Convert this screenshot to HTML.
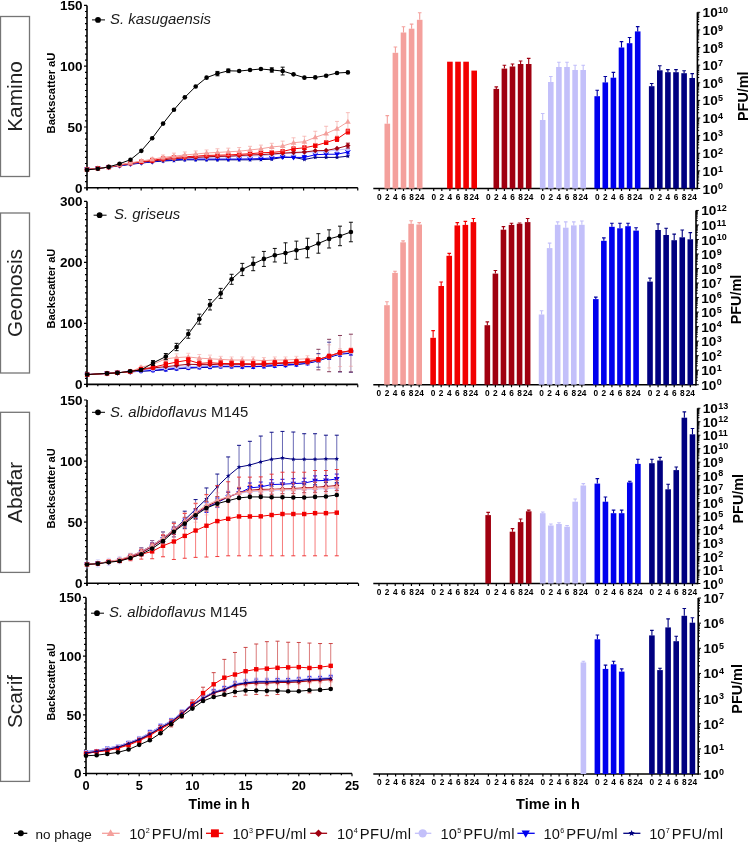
<!DOCTYPE html>
<html><head><meta charset="utf-8"><style>
html,body{margin:0;padding:0;background:#fff;width:748px;height:842px;overflow:hidden}
svg{display:block;will-change:transform}
</style></head><body>
<svg width="748" height="842" viewBox="0 0 748 842">
<rect x="0.5" y="16.5" width="29" height="160" fill="none" stroke="#757575" stroke-width="1.3"/>
<text x="22.1" y="96.5" transform="rotate(-90 22.1 96.5)" text-anchor="middle" font-size="20.8" font-family="Liberation Sans, sans-serif" fill="#222">Kamino</text>
<rect x="0.5" y="213" width="29" height="160" fill="none" stroke="#757575" stroke-width="1.3"/>
<text x="22.1" y="293" transform="rotate(-90 22.1 293)" text-anchor="middle" font-size="20.8" font-family="Liberation Sans, sans-serif" fill="#222">Geonosis</text>
<rect x="0.5" y="412.3" width="29" height="160.1" fill="none" stroke="#757575" stroke-width="1.3"/>
<text x="22.1" y="492.35" transform="rotate(-90 22.1 492.35)" text-anchor="middle" font-size="20.8" font-family="Liberation Sans, sans-serif" fill="#222">Abafar</text>
<rect x="0.5" y="621.5" width="29" height="159.9" fill="none" stroke="#757575" stroke-width="1.3"/>
<text x="22.1" y="701.45" transform="rotate(-90 22.1 701.45)" text-anchor="middle" font-size="20.8" font-family="Liberation Sans, sans-serif" fill="#222">Scarif</text>
<g stroke="#000" fill="none">
<path d="M87 5.4V190.3" stroke-width="1.6"/>
<path d="M86.2 187.8H357.8" stroke-width="1.6"/>
<path d="M84 187.8H87M85 181.72H87M85 175.64H87M85 169.56H87M85 163.48H87M85 157.4H87M85 151.32H87M85 145.24H87M85 139.16H87M85 133.08H87M84 127H87M85 120.92H87M85 114.84H87M85 108.76H87M85 102.68H87M85 96.6H87M85 90.52H87M85 84.44H87M85 78.36H87M85 72.28H87M84 66.2H87M85 60.12H87M85 54.04H87M85 47.96H87M85 41.88H87M85 35.8H87M85 29.72H87M85 23.64H87M85 17.56H87M85 11.48H87M84 5.4H87" stroke-width="1.2"/>
<path d="M87 187.8V190.6M97.83 187.8V189.6M108.66 187.8V189.6M119.49 187.8V189.6M130.32 187.8V189.6M141.15 187.8V190.6M151.98 187.8V189.6M162.81 187.8V189.6M173.64 187.8V189.6M184.47 187.8V189.6M195.3 187.8V190.6M206.13 187.8V189.6M216.96 187.8V189.6M227.79 187.8V189.6M238.62 187.8V189.6M249.45 187.8V190.6M260.28 187.8V189.6M271.11 187.8V189.6M281.94 187.8V189.6M292.77 187.8V189.6M303.6 187.8V190.6M314.43 187.8V189.6M325.26 187.8V189.6M336.09 187.8V189.6M346.92 187.8V189.6M357.75 187.8V190.6" stroke-width="1.2"/>
</g>
<text x="82.5" y="192.7" text-anchor="end" font-size="13.5" font-weight="bold" font-family="Liberation Sans, sans-serif">0</text>
<text x="82.5" y="131.9" text-anchor="end" font-size="13.5" font-weight="bold" font-family="Liberation Sans, sans-serif">50</text>
<text x="82.5" y="71.1" text-anchor="end" font-size="13.5" font-weight="bold" font-family="Liberation Sans, sans-serif">100</text>
<text x="82.5" y="10.3" text-anchor="end" font-size="13.5" font-weight="bold" font-family="Liberation Sans, sans-serif">150</text>
<text x="55" y="93" transform="rotate(-90 55 93)" text-anchor="middle" font-size="11.2" font-weight="bold" font-family="Liberation Sans, sans-serif">Backscatter aU</text>
<path d="M92 19.9H105" stroke="#000" stroke-width="1"/>
<circle cx="98" cy="19.9" r="2.88" fill="#000000"/>
<text x="110" y="24.1" font-size="14.9" font-family="Liberation Sans, sans-serif" fill="#1a1a1a"><tspan font-style="italic">S. kasugaensis</tspan></text>
<polyline points="87,169.56 97.87,168.34 108.74,167.13 119.61,165.91 130.48,164.33 141.35,163.12 152.22,161.9 163.09,161.05 173.96,160.44 184.83,159.83 195.7,159.83 206.57,159.83 217.44,159.83 228.31,159.83 239.18,159.83 250.05,159.83 260.92,159.59 271.79,159.22 282.66,157.4 293.53,157.4 304.4,159.47 315.27,157.4 326.14,157.4 337.01,157.4 347.88,156.18" fill="none" stroke="#000080" stroke-width="1.0"/>
<path d="M87 167.16L87.63 168.69L89.28 168.82L88.03 169.89L88.41 171.5L87 170.64L85.59 171.5L85.97 169.89L84.72 168.82L86.37 168.69Z" fill="#000080"/>
<path d="M97.87 165.94L98.5 167.47L100.15 167.6L98.9 168.68L99.28 170.29L97.87 169.42L96.46 170.29L96.84 168.68L95.59 167.6L97.24 167.47Z" fill="#000080"/>
<path d="M108.74 164.73L109.37 166.25L111.02 166.39L109.77 167.46L110.15 169.07L108.74 168.21L107.33 169.07L107.71 167.46L106.46 166.39L108.11 166.25Z" fill="#000080"/>
<path d="M119.61 163.51L120.24 165.04L121.89 165.17L120.64 166.25L121.02 167.85L119.61 166.99L118.2 167.85L118.58 166.25L117.33 165.17L118.98 165.04Z" fill="#000080"/>
<path d="M130.48 161.93L131.11 163.46L132.76 163.59L131.51 164.66L131.89 166.27L130.48 165.41L129.07 166.27L129.45 164.66L128.2 163.59L129.85 163.46Z" fill="#000080"/>
<path d="M141.35 160.72L141.98 162.24L143.63 162.37L142.38 163.45L142.76 165.06L141.35 164.2L139.94 165.06L140.32 163.45L139.07 162.37L140.72 162.24Z" fill="#000080"/>
<path d="M152.22 159.5L152.85 161.03L154.5 161.16L153.25 162.23L153.63 163.84L152.22 162.98L150.81 163.84L151.19 162.23L149.94 161.16L151.59 161.03Z" fill="#000080"/>
<path d="M163.09 158.65L163.72 160.17L165.37 160.31L164.12 161.38L164.5 162.99L163.09 162.13L161.68 162.99L162.06 161.38L160.81 160.31L162.46 160.17Z" fill="#000080"/>
<path d="M173.96 158.04L174.59 159.57L176.24 159.7L174.99 160.77L175.37 162.38L173.96 161.52L172.55 162.38L172.93 160.77L171.68 159.7L173.33 159.57Z" fill="#000080"/>
<path d="M184.83 157.43L185.46 158.96L187.11 159.09L185.86 160.17L186.24 161.77L184.83 160.91L183.42 161.77L183.8 160.17L182.55 159.09L184.2 158.96Z" fill="#000080"/>
<path d="M195.7 157.43L196.33 158.96L197.98 159.09L196.73 160.17L197.11 161.77L195.7 160.91L194.29 161.77L194.67 160.17L193.42 159.09L195.07 158.96Z" fill="#000080"/>
<path d="M206.57 157.43L207.2 158.96L208.85 159.09L207.6 160.17L207.98 161.77L206.57 160.91L205.16 161.77L205.54 160.17L204.29 159.09L205.94 158.96Z" fill="#000080"/>
<path d="M217.44 157.43L218.07 158.96L219.72 159.09L218.47 160.17L218.85 161.77L217.44 160.91L216.03 161.77L216.41 160.17L215.16 159.09L216.81 158.96Z" fill="#000080"/>
<path d="M228.31 157.43L228.94 158.96L230.59 159.09L229.34 160.17L229.72 161.77L228.31 160.91L226.9 161.77L227.28 160.17L226.03 159.09L227.68 158.96Z" fill="#000080"/>
<path d="M239.18 157.43L239.81 158.96L241.46 159.09L240.21 160.17L240.59 161.77L239.18 160.91L237.77 161.77L238.15 160.17L236.9 159.09L238.55 158.96Z" fill="#000080"/>
<path d="M250.05 157.43L250.68 158.96L252.33 159.09L251.08 160.17L251.46 161.77L250.05 160.91L248.64 161.77L249.02 160.17L247.77 159.09L249.42 158.96Z" fill="#000080"/>
<path d="M260.92 157.19L261.55 158.72L263.2 158.85L261.95 159.92L262.33 161.53L260.92 160.67L259.51 161.53L259.89 159.92L258.64 158.85L260.29 158.72Z" fill="#000080"/>
<path d="M271.79 156.82L272.42 158.35L274.07 158.48L272.82 159.56L273.2 161.17L271.79 160.3L270.38 161.17L270.76 159.56L269.51 158.48L271.16 158.35Z" fill="#000080"/>
<path d="M282.66 155L283.29 156.53L284.94 156.66L283.69 157.73L284.07 159.34L282.66 158.48L281.25 159.34L281.63 157.73L280.38 156.66L282.03 156.53Z" fill="#000080"/>
<path d="M293.53 155L294.16 156.53L295.81 156.66L294.56 157.73L294.94 159.34L293.53 158.48L292.12 159.34L292.5 157.73L291.25 156.66L292.9 156.53Z" fill="#000080"/>
<path d="M304.4 157.07L305.03 158.59L306.68 158.73L305.43 159.8L305.81 161.41L304.4 160.55L302.99 161.41L303.37 159.8L302.12 158.73L303.77 158.59Z" fill="#000080"/>
<path d="M315.27 155L315.9 156.53L317.55 156.66L316.3 157.73L316.68 159.34L315.27 158.48L313.86 159.34L314.24 157.73L312.99 156.66L314.64 156.53Z" fill="#000080"/>
<path d="M326.14 155L326.77 156.53L328.42 156.66L327.17 157.73L327.55 159.34L326.14 158.48L324.73 159.34L325.11 157.73L323.86 156.66L325.51 156.53Z" fill="#000080"/>
<path d="M337.01 155L337.64 156.53L339.29 156.66L338.04 157.73L338.42 159.34L337.01 158.48L335.6 159.34L335.98 157.73L334.73 156.66L336.38 156.53Z" fill="#000080"/>
<path d="M347.88 153.78L348.51 155.31L350.16 155.44L348.91 156.52L349.29 158.13L347.88 157.26L346.47 158.13L346.85 156.52L345.6 155.44L347.25 155.31Z" fill="#000080"/>
<polyline points="87,169.56 97.87,168.34 108.74,167.13 119.61,165.67 130.48,164.09 141.35,162.87 152.22,161.66 163.09,160.44 173.96,159.83 184.83,159.22 195.7,159.1 206.57,159.1 217.44,159.1 228.31,159.1 239.18,159.1 250.05,158.86 260.92,158.62 271.79,158.01 282.66,156.91 293.53,157.4 304.4,157.4 315.27,154.72 326.14,154.24 337.01,154.24 347.88,152.05" fill="none" stroke="#0000EE" stroke-width="1.0"/>
<path d="M304.4 155.58V159.22M347.88 150.23V153.87" stroke="#0000EE" stroke-width="0.85" fill="none" opacity="1"/>
<path d="M302.4 155.58H306.4M302.4 159.22H306.4M345.88 150.23H349.88M345.88 153.87H349.88" stroke="#0000EE" stroke-width="0.95" fill="none" opacity="1"/>
<path d="M87 172.56L89.85 167.61L84.15 167.61Z" fill="#0000EE"/>
<path d="M97.87 171.34L100.72 166.39L95.02 166.39Z" fill="#0000EE"/>
<path d="M108.74 170.13L111.59 165.18L105.89 165.18Z" fill="#0000EE"/>
<path d="M119.61 168.67L122.46 163.72L116.76 163.72Z" fill="#0000EE"/>
<path d="M130.48 167.09L133.33 162.14L127.63 162.14Z" fill="#0000EE"/>
<path d="M141.35 165.87L144.2 160.92L138.5 160.92Z" fill="#0000EE"/>
<path d="M152.22 164.66L155.07 159.71L149.37 159.71Z" fill="#0000EE"/>
<path d="M163.09 163.44L165.94 158.49L160.24 158.49Z" fill="#0000EE"/>
<path d="M173.96 162.83L176.81 157.88L171.11 157.88Z" fill="#0000EE"/>
<path d="M184.83 162.22L187.68 157.27L181.98 157.27Z" fill="#0000EE"/>
<path d="M195.7 162.1L198.55 157.15L192.85 157.15Z" fill="#0000EE"/>
<path d="M206.57 162.1L209.42 157.15L203.72 157.15Z" fill="#0000EE"/>
<path d="M217.44 162.1L220.29 157.15L214.59 157.15Z" fill="#0000EE"/>
<path d="M228.31 162.1L231.16 157.15L225.46 157.15Z" fill="#0000EE"/>
<path d="M239.18 162.1L242.03 157.15L236.33 157.15Z" fill="#0000EE"/>
<path d="M250.05 161.86L252.9 156.91L247.2 156.91Z" fill="#0000EE"/>
<path d="M260.92 161.62L263.77 156.67L258.07 156.67Z" fill="#0000EE"/>
<path d="M271.79 161.01L274.64 156.06L268.94 156.06Z" fill="#0000EE"/>
<path d="M282.66 159.91L285.51 154.96L279.81 154.96Z" fill="#0000EE"/>
<path d="M293.53 160.4L296.38 155.45L290.68 155.45Z" fill="#0000EE"/>
<path d="M304.4 160.4L307.25 155.45L301.55 155.45Z" fill="#0000EE"/>
<path d="M315.27 157.72L318.12 152.77L312.42 152.77Z" fill="#0000EE"/>
<path d="M326.14 157.24L328.99 152.29L323.29 152.29Z" fill="#0000EE"/>
<path d="M337.01 157.24L339.86 152.29L334.16 152.29Z" fill="#0000EE"/>
<path d="M347.88 155.05L350.73 150.1L345.03 150.1Z" fill="#0000EE"/>
<polyline points="87,169.56 97.87,168.34 108.74,167.13 119.61,165.3 130.48,163.48 141.35,162.26 152.22,161.05 163.09,159.83 173.96,158.62 184.83,158.01 195.7,157.4 206.57,157.4 217.44,156.79 228.31,156.79 239.18,156.18 250.05,156.18 260.92,155.58 271.79,154.97 282.66,153.75 293.53,153.14 304.4,152.54 315.27,151.93 326.14,151.32 337.01,150.1 347.88,148.89" fill="none" stroke="#C3C0FA" stroke-width="1.0"/>
<circle cx="87" cy="169.56" r="2.3" fill="#C3C0FA"/>
<circle cx="97.87" cy="168.34" r="2.3" fill="#C3C0FA"/>
<circle cx="108.74" cy="167.13" r="2.3" fill="#C3C0FA"/>
<circle cx="119.61" cy="165.3" r="2.3" fill="#C3C0FA"/>
<circle cx="130.48" cy="163.48" r="2.3" fill="#C3C0FA"/>
<circle cx="141.35" cy="162.26" r="2.3" fill="#C3C0FA"/>
<circle cx="152.22" cy="161.05" r="2.3" fill="#C3C0FA"/>
<circle cx="163.09" cy="159.83" r="2.3" fill="#C3C0FA"/>
<circle cx="173.96" cy="158.62" r="2.3" fill="#C3C0FA"/>
<circle cx="184.83" cy="158.01" r="2.3" fill="#C3C0FA"/>
<circle cx="195.7" cy="157.4" r="2.3" fill="#C3C0FA"/>
<circle cx="206.57" cy="157.4" r="2.3" fill="#C3C0FA"/>
<circle cx="217.44" cy="156.79" r="2.3" fill="#C3C0FA"/>
<circle cx="228.31" cy="156.79" r="2.3" fill="#C3C0FA"/>
<circle cx="239.18" cy="156.18" r="2.3" fill="#C3C0FA"/>
<circle cx="250.05" cy="156.18" r="2.3" fill="#C3C0FA"/>
<circle cx="260.92" cy="155.58" r="2.3" fill="#C3C0FA"/>
<circle cx="271.79" cy="154.97" r="2.3" fill="#C3C0FA"/>
<circle cx="282.66" cy="153.75" r="2.3" fill="#C3C0FA"/>
<circle cx="293.53" cy="153.14" r="2.3" fill="#C3C0FA"/>
<circle cx="304.4" cy="152.54" r="2.3" fill="#C3C0FA"/>
<circle cx="315.27" cy="151.93" r="2.3" fill="#C3C0FA"/>
<circle cx="326.14" cy="151.32" r="2.3" fill="#C3C0FA"/>
<circle cx="337.01" cy="150.1" r="2.3" fill="#C3C0FA"/>
<circle cx="347.88" cy="148.89" r="2.3" fill="#C3C0FA"/>
<polyline points="87,169.56 97.87,168.34 108.74,167.13 119.61,165.3 130.48,163.48 141.35,162.26 152.22,161.05 163.09,159.83 173.96,158.62 184.83,158.01 195.7,157.4 206.57,156.79 217.44,156.43 228.31,156.18 239.18,155.58 250.05,154.97 260.92,154.6 271.79,154 282.66,153.14 293.53,152.54 304.4,152.05 315.27,150.71 326.14,150.47 337.01,148.4 347.88,145.6" fill="none" stroke="#A00010" stroke-width="1.0"/>
<path d="M347.88 143.17V148.04" stroke="#A00010" stroke-width="0.85" fill="none" opacity="1"/>
<path d="M345.88 143.17H349.88M345.88 148.04H349.88" stroke="#A00010" stroke-width="0.95" fill="none" opacity="1"/>
<path d="M87 166.96L89.6 169.56L87 172.16L84.4 169.56Z" fill="#A00010"/>
<path d="M97.87 165.74L100.47 168.34L97.87 170.94L95.27 168.34Z" fill="#A00010"/>
<path d="M108.74 164.53L111.34 167.13L108.74 169.73L106.14 167.13Z" fill="#A00010"/>
<path d="M119.61 162.7L122.21 165.3L119.61 167.9L117.01 165.3Z" fill="#A00010"/>
<path d="M130.48 160.88L133.08 163.48L130.48 166.08L127.88 163.48Z" fill="#A00010"/>
<path d="M141.35 159.66L143.95 162.26L141.35 164.86L138.75 162.26Z" fill="#A00010"/>
<path d="M152.22 158.45L154.82 161.05L152.22 163.65L149.62 161.05Z" fill="#A00010"/>
<path d="M163.09 157.23L165.69 159.83L163.09 162.43L160.49 159.83Z" fill="#A00010"/>
<path d="M173.96 156.02L176.56 158.62L173.96 161.22L171.36 158.62Z" fill="#A00010"/>
<path d="M184.83 155.41L187.43 158.01L184.83 160.61L182.23 158.01Z" fill="#A00010"/>
<path d="M195.7 154.8L198.3 157.4L195.7 160L193.1 157.4Z" fill="#A00010"/>
<path d="M206.57 154.19L209.17 156.79L206.57 159.39L203.97 156.79Z" fill="#A00010"/>
<path d="M217.44 153.83L220.04 156.43L217.44 159.03L214.84 156.43Z" fill="#A00010"/>
<path d="M228.31 153.58L230.91 156.18L228.31 158.78L225.71 156.18Z" fill="#A00010"/>
<path d="M239.18 152.98L241.78 155.58L239.18 158.18L236.58 155.58Z" fill="#A00010"/>
<path d="M250.05 152.37L252.65 154.97L250.05 157.57L247.45 154.97Z" fill="#A00010"/>
<path d="M260.92 152L263.52 154.6L260.92 157.2L258.32 154.6Z" fill="#A00010"/>
<path d="M271.79 151.4L274.39 154L271.79 156.6L269.19 154Z" fill="#A00010"/>
<path d="M282.66 150.54L285.26 153.14L282.66 155.74L280.06 153.14Z" fill="#A00010"/>
<path d="M293.53 149.94L296.13 152.54L293.53 155.14L290.93 152.54Z" fill="#A00010"/>
<path d="M304.4 149.45L307 152.05L304.4 154.65L301.8 152.05Z" fill="#A00010"/>
<path d="M315.27 148.11L317.87 150.71L315.27 153.31L312.67 150.71Z" fill="#A00010"/>
<path d="M326.14 147.87L328.74 150.47L326.14 153.07L323.54 150.47Z" fill="#A00010"/>
<path d="M337.01 145.8L339.61 148.4L337.01 151L334.41 148.4Z" fill="#A00010"/>
<path d="M347.88 143L350.48 145.6L347.88 148.2L345.28 145.6Z" fill="#A00010"/>
<polyline points="87,169.56 97.87,168.34 108.74,167.13 119.61,164.94 130.48,163.12 141.35,161.66 152.22,160.44 163.09,158.62 173.96,157.4 184.83,156.79 195.7,156.18 206.57,155.45 217.44,155.21 228.31,154.97 239.18,154.36 250.05,153.75 260.92,152.78 271.79,152.41 282.66,151.44 293.53,148.89 304.4,147.79 315.27,145.6 326.14,142.56 337.01,139.04 347.88,131.62" fill="none" stroke="#F20000" stroke-width="1.0"/>
<path d="M130.48 162.51V163.72M141.35 161.05V162.26M152.22 159.22V161.66M163.09 157.4V159.83M173.96 156.18V158.62M184.83 155.58V158.01M195.7 154.97V157.4M206.57 154.24V156.67M217.44 154V156.43M228.31 153.75V156.18M239.18 153.14V155.58M250.05 152.54V154.97M260.92 151.56V154M271.79 151.2V153.63M282.66 150.23V152.66M293.53 147.06V150.71M304.4 145.97V149.62M315.27 143.78V147.43M326.14 140.74V144.39M337.01 136.61V141.47M347.88 129.19V134.05" stroke="#F20000" stroke-width="0.85" fill="none" opacity="1"/>
<path d="M128.48 162.51H132.48M128.48 163.72H132.48M139.35 161.05H143.35M139.35 162.26H143.35M150.22 159.22H154.22M150.22 161.66H154.22M161.09 157.4H165.09M161.09 159.83H165.09M171.96 156.18H175.96M171.96 158.62H175.96M182.83 155.58H186.83M182.83 158.01H186.83M193.7 154.97H197.7M193.7 157.4H197.7M204.57 154.24H208.57M204.57 156.67H208.57M215.44 154H219.44M215.44 156.43H219.44M226.31 153.75H230.31M226.31 156.18H230.31M237.18 153.14H241.18M237.18 155.58H241.18M248.05 152.54H252.05M248.05 154.97H252.05M258.92 151.56H262.92M258.92 154H262.92M269.79 151.2H273.79M269.79 153.63H273.79M280.66 150.23H284.66M280.66 152.66H284.66M291.53 147.06H295.53M291.53 150.71H295.53M302.4 145.97H306.4M302.4 149.62H306.4M313.27 143.78H317.27M313.27 147.43H317.27M324.14 140.74H328.14M324.14 144.39H328.14M335.01 136.61H339.01M335.01 141.47H339.01M345.88 129.19H349.88M345.88 134.05H349.88" stroke="#F20000" stroke-width="0.95" fill="none" opacity="1"/>
<rect x="84.8" y="167.36" width="4.4" height="4.4" fill="#F20000"/>
<rect x="95.67" y="166.14" width="4.4" height="4.4" fill="#F20000"/>
<rect x="106.54" y="164.93" width="4.4" height="4.4" fill="#F20000"/>
<rect x="117.41" y="162.74" width="4.4" height="4.4" fill="#F20000"/>
<rect x="128.28" y="160.92" width="4.4" height="4.4" fill="#F20000"/>
<rect x="139.15" y="159.46" width="4.4" height="4.4" fill="#F20000"/>
<rect x="150.02" y="158.24" width="4.4" height="4.4" fill="#F20000"/>
<rect x="160.89" y="156.42" width="4.4" height="4.4" fill="#F20000"/>
<rect x="171.76" y="155.2" width="4.4" height="4.4" fill="#F20000"/>
<rect x="182.63" y="154.59" width="4.4" height="4.4" fill="#F20000"/>
<rect x="193.5" y="153.98" width="4.4" height="4.4" fill="#F20000"/>
<rect x="204.37" y="153.25" width="4.4" height="4.4" fill="#F20000"/>
<rect x="215.24" y="153.01" width="4.4" height="4.4" fill="#F20000"/>
<rect x="226.11" y="152.77" width="4.4" height="4.4" fill="#F20000"/>
<rect x="236.98" y="152.16" width="4.4" height="4.4" fill="#F20000"/>
<rect x="247.85" y="151.55" width="4.4" height="4.4" fill="#F20000"/>
<rect x="258.72" y="150.58" width="4.4" height="4.4" fill="#F20000"/>
<rect x="269.59" y="150.21" width="4.4" height="4.4" fill="#F20000"/>
<rect x="280.46" y="149.24" width="4.4" height="4.4" fill="#F20000"/>
<rect x="291.33" y="146.69" width="4.4" height="4.4" fill="#F20000"/>
<rect x="302.2" y="145.59" width="4.4" height="4.4" fill="#F20000"/>
<rect x="313.07" y="143.4" width="4.4" height="4.4" fill="#F20000"/>
<rect x="323.94" y="140.36" width="4.4" height="4.4" fill="#F20000"/>
<rect x="334.81" y="136.84" width="4.4" height="4.4" fill="#F20000"/>
<rect x="345.68" y="129.42" width="4.4" height="4.4" fill="#F20000"/>
<polyline points="87,169.56 97.87,168.34 108.74,166.88 119.61,164.7 130.48,162.87 141.35,161.05 152.22,159.22 163.09,157.4 173.96,156.18 184.83,154.97 195.7,154 206.57,153.02 217.44,152.41 228.31,151.81 239.18,151.2 250.05,149.98 260.92,148.77 271.79,146.94 282.66,145.97 293.53,142.69 304.4,141.71 315.27,137.34 326.14,133.57 337.01,128.7 347.88,121.77" fill="none" stroke="#F4A09C" stroke-width="1.0"/>
<path d="M130.48 161.9V163.84M141.35 159.83V162.26M152.22 157.4V161.05M163.09 154.97V159.83M173.96 153.14V159.22M184.83 151.93V158.01M195.7 150.96V157.04M206.57 149.98V156.06M217.44 148.77V156.06M228.31 148.16V155.45M239.18 147.55V154.85M250.05 146.33V153.63M260.92 145.12V152.41M271.79 143.29V150.59M282.66 141.11V150.83M293.53 137.82V147.55M304.4 136.24V147.19M315.27 131.26V143.42M326.14 126.27V140.86M337.01 121.41V136M347.88 112.65V130.89" stroke="#F4A09C" stroke-width="0.85" fill="none" opacity="0.7"/>
<path d="M128.48 161.9H132.48M128.48 163.84H132.48M139.35 159.83H143.35M139.35 162.26H143.35M150.22 157.4H154.22M150.22 161.05H154.22M161.09 154.97H165.09M161.09 159.83H165.09M171.96 153.14H175.96M171.96 159.22H175.96M182.83 151.93H186.83M182.83 158.01H186.83M193.7 150.96H197.7M193.7 157.04H197.7M204.57 149.98H208.57M204.57 156.06H208.57M215.44 148.77H219.44M215.44 156.06H219.44M226.31 148.16H230.31M226.31 155.45H230.31M237.18 147.55H241.18M237.18 154.85H241.18M248.05 146.33H252.05M248.05 153.63H252.05M258.92 145.12H262.92M258.92 152.41H262.92M269.79 143.29H273.79M269.79 150.59H273.79M280.66 141.11H284.66M280.66 150.83H284.66M291.53 137.82H295.53M291.53 147.55H295.53M302.4 136.24H306.4M302.4 147.19H306.4M313.27 131.26H317.27M313.27 143.42H317.27M324.14 126.27H328.14M324.14 140.86H328.14M335.01 121.41H339.01M335.01 136H339.01M345.88 112.65H349.88M345.88 130.89H349.88" stroke="#F4A09C" stroke-width="0.95" fill="none" opacity="0.7"/>
<path d="M87 166.56L89.85 171.51L84.15 171.51Z" fill="#F4A09C"/>
<path d="M97.87 165.34L100.72 170.29L95.02 170.29Z" fill="#F4A09C"/>
<path d="M108.74 163.88L111.59 168.83L105.89 168.83Z" fill="#F4A09C"/>
<path d="M119.61 161.7L122.46 166.65L116.76 166.65Z" fill="#F4A09C"/>
<path d="M130.48 159.87L133.33 164.82L127.63 164.82Z" fill="#F4A09C"/>
<path d="M141.35 158.05L144.2 163L138.5 163Z" fill="#F4A09C"/>
<path d="M152.22 156.22L155.07 161.17L149.37 161.17Z" fill="#F4A09C"/>
<path d="M163.09 154.4L165.94 159.35L160.24 159.35Z" fill="#F4A09C"/>
<path d="M173.96 153.18L176.81 158.13L171.11 158.13Z" fill="#F4A09C"/>
<path d="M184.83 151.97L187.68 156.92L181.98 156.92Z" fill="#F4A09C"/>
<path d="M195.7 151L198.55 155.95L192.85 155.95Z" fill="#F4A09C"/>
<path d="M206.57 150.02L209.42 154.97L203.72 154.97Z" fill="#F4A09C"/>
<path d="M217.44 149.41L220.29 154.36L214.59 154.36Z" fill="#F4A09C"/>
<path d="M228.31 148.81L231.16 153.76L225.46 153.76Z" fill="#F4A09C"/>
<path d="M239.18 148.2L242.03 153.15L236.33 153.15Z" fill="#F4A09C"/>
<path d="M250.05 146.98L252.9 151.93L247.2 151.93Z" fill="#F4A09C"/>
<path d="M260.92 145.77L263.77 150.72L258.07 150.72Z" fill="#F4A09C"/>
<path d="M271.79 143.94L274.64 148.89L268.94 148.89Z" fill="#F4A09C"/>
<path d="M282.66 142.97L285.51 147.92L279.81 147.92Z" fill="#F4A09C"/>
<path d="M293.53 139.69L296.38 144.64L290.68 144.64Z" fill="#F4A09C"/>
<path d="M304.4 138.71L307.25 143.66L301.55 143.66Z" fill="#F4A09C"/>
<path d="M315.27 134.34L318.12 139.29L312.42 139.29Z" fill="#F4A09C"/>
<path d="M326.14 130.57L328.99 135.52L323.29 135.52Z" fill="#F4A09C"/>
<path d="M337.01 125.7L339.86 130.65L334.16 130.65Z" fill="#F4A09C"/>
<path d="M347.88 118.77L350.73 123.72L345.03 123.72Z" fill="#F4A09C"/>
<polyline points="87,169.92 97.87,168.71 108.74,166.88 119.61,163.72 130.48,159.71 141.35,150.83 152.22,138.19 163.09,123.6 173.96,109.73 184.83,97.33 195.7,86.51 206.57,77.63 217.44,73.62 228.31,70.82 239.18,71.06 250.05,69.97 260.92,69 271.79,69.97 282.66,71.06 293.53,74.35 304.4,77.63 315.27,77.39 326.14,75.68 337.01,73.01 347.88,72.4" fill="none" stroke="#000000" stroke-width="1.0"/>
<path d="M217.44 71.43V75.81M228.31 69V72.64M271.79 67.78V72.16M282.66 67.17V74.96" stroke="#000000" stroke-width="0.85" fill="none" opacity="1"/>
<path d="M215.44 71.43H219.44M215.44 75.81H219.44M226.31 69H230.31M226.31 72.64H230.31M269.79 67.78H273.79M269.79 72.16H273.79M280.66 67.17H284.66M280.66 74.96H284.66" stroke="#000000" stroke-width="0.95" fill="none" opacity="1"/>
<circle cx="87" cy="169.92" r="2.3" fill="#000000"/>
<circle cx="97.87" cy="168.71" r="2.3" fill="#000000"/>
<circle cx="108.74" cy="166.88" r="2.3" fill="#000000"/>
<circle cx="119.61" cy="163.72" r="2.3" fill="#000000"/>
<circle cx="130.48" cy="159.71" r="2.3" fill="#000000"/>
<circle cx="141.35" cy="150.83" r="2.3" fill="#000000"/>
<circle cx="152.22" cy="138.19" r="2.3" fill="#000000"/>
<circle cx="163.09" cy="123.6" r="2.3" fill="#000000"/>
<circle cx="173.96" cy="109.73" r="2.3" fill="#000000"/>
<circle cx="184.83" cy="97.33" r="2.3" fill="#000000"/>
<circle cx="195.7" cy="86.51" r="2.3" fill="#000000"/>
<circle cx="206.57" cy="77.63" r="2.3" fill="#000000"/>
<circle cx="217.44" cy="73.62" r="2.3" fill="#000000"/>
<circle cx="228.31" cy="70.82" r="2.3" fill="#000000"/>
<circle cx="239.18" cy="71.06" r="2.3" fill="#000000"/>
<circle cx="250.05" cy="69.97" r="2.3" fill="#000000"/>
<circle cx="260.92" cy="69" r="2.3" fill="#000000"/>
<circle cx="271.79" cy="69.97" r="2.3" fill="#000000"/>
<circle cx="282.66" cy="71.06" r="2.3" fill="#000000"/>
<circle cx="293.53" cy="74.35" r="2.3" fill="#000000"/>
<circle cx="304.4" cy="77.63" r="2.3" fill="#000000"/>
<circle cx="315.27" cy="77.39" r="2.3" fill="#000000"/>
<circle cx="326.14" cy="75.68" r="2.3" fill="#000000"/>
<circle cx="337.01" cy="73.01" r="2.3" fill="#000000"/>
<circle cx="347.88" cy="72.4" r="2.3" fill="#000000"/>
<g stroke="#000" fill="none">
<path d="M87 201.4V386.9" stroke-width="1.6"/>
<path d="M86.2 384.4H357.8" stroke-width="1.6"/>
<path d="M84 384.4H87M85 378.3H87M85 372.2H87M85 366.1H87M85 360H87M85 353.9H87M85 347.8H87M85 341.7H87M85 335.6H87M85 329.5H87M84 323.4H87M85 317.3H87M85 311.2H87M85 305.1H87M85 299H87M85 292.9H87M85 286.8H87M85 280.7H87M85 274.6H87M85 268.5H87M84 262.4H87M85 256.3H87M85 250.2H87M85 244.1H87M85 238H87M85 231.9H87M85 225.8H87M85 219.7H87M85 213.6H87M85 207.5H87M84 201.4H87" stroke-width="1.2"/>
<path d="M87 384.4V387.2M97.83 384.4V386.2M108.66 384.4V386.2M119.49 384.4V386.2M130.32 384.4V386.2M141.15 384.4V387.2M151.98 384.4V386.2M162.81 384.4V386.2M173.64 384.4V386.2M184.47 384.4V386.2M195.3 384.4V387.2M206.13 384.4V386.2M216.96 384.4V386.2M227.79 384.4V386.2M238.62 384.4V386.2M249.45 384.4V387.2M260.28 384.4V386.2M271.11 384.4V386.2M281.94 384.4V386.2M292.77 384.4V386.2M303.6 384.4V387.2M314.43 384.4V386.2M325.26 384.4V386.2M336.09 384.4V386.2M346.92 384.4V386.2M357.75 384.4V387.2" stroke-width="1.2"/>
</g>
<text x="82.5" y="389.3" text-anchor="end" font-size="13.5" font-weight="bold" font-family="Liberation Sans, sans-serif">0</text>
<text x="82.5" y="328.3" text-anchor="end" font-size="13.5" font-weight="bold" font-family="Liberation Sans, sans-serif">100</text>
<text x="82.5" y="267.3" text-anchor="end" font-size="13.5" font-weight="bold" font-family="Liberation Sans, sans-serif">200</text>
<text x="82.5" y="206.3" text-anchor="end" font-size="13.5" font-weight="bold" font-family="Liberation Sans, sans-serif">300</text>
<text x="55" y="288.6" transform="rotate(-90 55 288.6)" text-anchor="middle" font-size="11.05" font-weight="bold" font-family="Liberation Sans, sans-serif">Backscatter aU</text>
<path d="M93.6 215.2H106.6" stroke="#000" stroke-width="1"/>
<circle cx="99.6" cy="215.2" r="2.88" fill="#000000"/>
<text x="114" y="219.4" font-size="14.9" font-family="Liberation Sans, sans-serif" fill="#1a1a1a"><tspan font-style="italic">S. griseus</tspan></text>
<polyline points="87.2,374.64 107,373.42 117.4,372.81 130.2,371.89 141,371.28 153,370.67 165.8,369.76 176.6,368.84 188.3,368.23 199.3,367.62 210,367.32 220.7,366.71 231.6,366.71 242.3,366.71 253.2,366.71 263.9,366.4 274.8,365.79 285.5,365.19 296.4,364.57 307.5,363.35 318.4,360.91 329.1,357.25 340,354.2 350.9,353.29" fill="none" stroke="#000080" stroke-width="1.0"/>
<path d="M318.4 353.59V367.2M329.1 342.19V359.08M340 352.38V371.89M350.9 351.46V372.2" stroke="#000080" stroke-width="0.7" fill="none" opacity="0.36"/>
<path d="M316.4 353.59H320.4M316.4 367.2H320.4M327.1 342.19H331.1M327.1 359.08H331.1M338 352.38H342M338 371.89H342M348.9 351.46H352.9M348.9 372.2H352.9" stroke="#000080" stroke-width="0.95" fill="none" opacity="0.8"/>
<path d="M87.2 372.24L87.83 373.77L89.48 373.9L88.23 374.97L88.61 376.58L87.2 375.72L85.79 376.58L86.17 374.97L84.92 373.9L86.57 373.77Z" fill="#000080"/>
<path d="M107 371.02L107.63 372.55L109.28 372.68L108.03 373.75L108.41 375.36L107 374.5L105.59 375.36L105.97 373.75L104.72 372.68L106.37 372.55Z" fill="#000080"/>
<path d="M117.4 370.41L118.03 371.94L119.68 372.07L118.43 373.14L118.81 374.75L117.4 373.89L115.99 374.75L116.37 373.14L115.12 372.07L116.77 371.94Z" fill="#000080"/>
<path d="M130.2 369.5L130.83 371.02L132.48 371.15L131.23 372.23L131.61 373.84L130.2 372.97L128.79 373.84L129.17 372.23L127.92 371.15L129.57 371.02Z" fill="#000080"/>
<path d="M141 368.88L141.63 370.41L143.28 370.54L142.03 371.62L142.41 373.23L141 372.36L139.59 373.23L139.97 371.62L138.72 370.54L140.37 370.41Z" fill="#000080"/>
<path d="M153 368.27L153.63 369.8L155.28 369.93L154.03 371.01L154.41 372.62L153 371.75L151.59 372.62L151.97 371.01L150.72 369.93L152.37 369.8Z" fill="#000080"/>
<path d="M165.8 367.36L166.43 368.89L168.08 369.02L166.83 370.09L167.21 371.7L165.8 370.84L164.39 371.7L164.77 370.09L163.52 369.02L165.17 368.89Z" fill="#000080"/>
<path d="M176.6 366.44L177.23 367.97L178.88 368.1L177.63 369.18L178.01 370.79L176.6 369.92L175.19 370.79L175.57 369.18L174.32 368.1L175.97 367.97Z" fill="#000080"/>
<path d="M188.3 365.83L188.93 367.36L190.58 367.49L189.33 368.57L189.71 370.18L188.3 369.31L186.89 370.18L187.27 368.57L186.02 367.49L187.67 367.36Z" fill="#000080"/>
<path d="M199.3 365.23L199.93 366.75L201.58 366.88L200.33 367.96L200.71 369.57L199.3 368.7L197.89 369.57L198.27 367.96L197.02 366.88L198.67 366.75Z" fill="#000080"/>
<path d="M210 364.92L210.63 366.45L212.28 366.58L211.03 367.65L211.41 369.26L210 368.4L208.59 369.26L208.97 367.65L207.72 366.58L209.37 366.45Z" fill="#000080"/>
<path d="M220.7 364.31L221.33 365.84L222.98 365.97L221.73 367.04L222.11 368.65L220.7 367.79L219.29 368.65L219.67 367.04L218.42 365.97L220.07 365.84Z" fill="#000080"/>
<path d="M231.6 364.31L232.23 365.84L233.88 365.97L232.63 367.04L233.01 368.65L231.6 367.79L230.19 368.65L230.57 367.04L229.32 365.97L230.97 365.84Z" fill="#000080"/>
<path d="M242.3 364.31L242.93 365.84L244.58 365.97L243.33 367.04L243.71 368.65L242.3 367.79L240.89 368.65L241.27 367.04L240.02 365.97L241.67 365.84Z" fill="#000080"/>
<path d="M253.2 364.31L253.83 365.84L255.48 365.97L254.23 367.04L254.61 368.65L253.2 367.79L251.79 368.65L252.17 367.04L250.92 365.97L252.57 365.84Z" fill="#000080"/>
<path d="M263.9 364L264.53 365.53L266.18 365.66L264.93 366.74L265.31 368.35L263.9 367.48L262.49 368.35L262.87 366.74L261.62 365.66L263.27 365.53Z" fill="#000080"/>
<path d="M274.8 363.39L275.43 364.92L277.08 365.05L275.83 366.13L276.21 367.74L274.8 366.87L273.39 367.74L273.77 366.13L272.52 365.05L274.17 364.92Z" fill="#000080"/>
<path d="M285.5 362.79L286.13 364.31L287.78 364.44L286.53 365.52L286.91 367.13L285.5 366.26L284.09 367.13L284.47 365.52L283.22 364.44L284.87 364.31Z" fill="#000080"/>
<path d="M296.4 362.18L297.03 363.7L298.68 363.83L297.43 364.91L297.81 366.52L296.4 365.65L294.99 366.52L295.37 364.91L294.12 363.83L295.77 363.7Z" fill="#000080"/>
<path d="M307.5 360.95L308.13 362.48L309.78 362.61L308.53 363.69L308.91 365.3L307.5 364.43L306.09 365.3L306.47 363.69L305.22 362.61L306.87 362.48Z" fill="#000080"/>
<path d="M318.4 358.51L319.03 360.04L320.68 360.17L319.43 361.25L319.81 362.86L318.4 361.99L316.99 362.86L317.37 361.25L316.12 360.17L317.77 360.04Z" fill="#000080"/>
<path d="M329.1 354.86L329.73 356.38L331.38 356.51L330.13 357.59L330.51 359.2L329.1 358.33L327.69 359.2L328.07 357.59L326.82 356.51L328.47 356.38Z" fill="#000080"/>
<path d="M340 351.81L340.63 353.33L342.28 353.46L341.03 354.54L341.41 356.15L340 355.28L338.59 356.15L338.97 354.54L337.72 353.46L339.37 353.33Z" fill="#000080"/>
<path d="M350.9 350.89L351.53 352.42L353.18 352.55L351.93 353.62L352.31 355.23L350.9 354.37L349.49 355.23L349.87 353.62L348.62 352.55L350.27 352.42Z" fill="#000080"/>
<polyline points="87.2,374.64 107,373.42 117.4,372.81 130.2,371.89 141,370.98 153,370.37 165.8,369.15 176.6,368.23 188.3,367.62 199.3,367.01 210,366.71 220.7,366.1 231.6,366.1 242.3,366.4 253.2,366.53 263.9,366.1 274.8,365.49 285.5,364.88 296.4,364.27 307.5,363.05 318.4,360.61 329.1,356.95 340,353.9 350.9,352.68" fill="none" stroke="#0000EE" stroke-width="1.0"/>
<path d="M141 369.76V372.2M153 369.15V371.59M165.8 367.32V370.98M176.6 366.4V370.06M188.3 365.8V369.45M199.3 365.19V368.84M210 364.88V368.54M220.7 364.27V367.93M231.6 364.27V367.93M242.3 364.57V368.23M253.2 364.7V368.36M263.9 364.27V367.93M274.8 363.66V367.32M285.5 363.05V366.71M296.4 362.44V366.1M307.5 361.22V364.88M318.4 358.78V362.44M329.1 354.51V359.39M340 351.46V356.34M350.9 350.24V355.12" stroke="#0000EE" stroke-width="0.85" fill="none" opacity="1"/>
<path d="M139 369.76H143M139 372.2H143M151 369.15H155M151 371.59H155M163.8 367.32H167.8M163.8 370.98H167.8M174.6 366.4H178.6M174.6 370.06H178.6M186.3 365.8H190.3M186.3 369.45H190.3M197.3 365.19H201.3M197.3 368.84H201.3M208 364.88H212M208 368.54H212M218.7 364.27H222.7M218.7 367.93H222.7M229.6 364.27H233.6M229.6 367.93H233.6M240.3 364.57H244.3M240.3 368.23H244.3M251.2 364.7H255.2M251.2 368.36H255.2M261.9 364.27H265.9M261.9 367.93H265.9M272.8 363.66H276.8M272.8 367.32H276.8M283.5 363.05H287.5M283.5 366.71H287.5M294.4 362.44H298.4M294.4 366.1H298.4M305.5 361.22H309.5M305.5 364.88H309.5M316.4 358.78H320.4M316.4 362.44H320.4M327.1 354.51H331.1M327.1 359.39H331.1M338 351.46H342M338 356.34H342M348.9 350.24H352.9M348.9 355.12H352.9" stroke="#0000EE" stroke-width="0.95" fill="none" opacity="1"/>
<path d="M87.2 377.64L90.05 372.69L84.35 372.69Z" fill="#0000EE"/>
<path d="M107 376.42L109.85 371.47L104.15 371.47Z" fill="#0000EE"/>
<path d="M117.4 375.81L120.25 370.86L114.55 370.86Z" fill="#0000EE"/>
<path d="M130.2 374.89L133.05 369.94L127.35 369.94Z" fill="#0000EE"/>
<path d="M141 373.98L143.85 369.03L138.15 369.03Z" fill="#0000EE"/>
<path d="M153 373.37L155.85 368.42L150.15 368.42Z" fill="#0000EE"/>
<path d="M165.8 372.15L168.65 367.2L162.95 367.2Z" fill="#0000EE"/>
<path d="M176.6 371.23L179.45 366.28L173.75 366.28Z" fill="#0000EE"/>
<path d="M188.3 370.62L191.15 365.68L185.45 365.68Z" fill="#0000EE"/>
<path d="M199.3 370.01L202.15 365.06L196.45 365.06Z" fill="#0000EE"/>
<path d="M210 369.71L212.85 364.76L207.15 364.76Z" fill="#0000EE"/>
<path d="M220.7 369.1L223.55 364.15L217.85 364.15Z" fill="#0000EE"/>
<path d="M231.6 369.1L234.45 364.15L228.75 364.15Z" fill="#0000EE"/>
<path d="M242.3 369.4L245.15 364.45L239.45 364.45Z" fill="#0000EE"/>
<path d="M253.2 369.53L256.05 364.58L250.35 364.58Z" fill="#0000EE"/>
<path d="M263.9 369.1L266.75 364.15L261.05 364.15Z" fill="#0000EE"/>
<path d="M274.8 368.49L277.65 363.54L271.95 363.54Z" fill="#0000EE"/>
<path d="M285.5 367.88L288.35 362.93L282.65 362.93Z" fill="#0000EE"/>
<path d="M296.4 367.27L299.25 362.32L293.55 362.32Z" fill="#0000EE"/>
<path d="M307.5 366.05L310.35 361.1L304.65 361.1Z" fill="#0000EE"/>
<path d="M318.4 363.61L321.25 358.66L315.55 358.66Z" fill="#0000EE"/>
<path d="M329.1 359.95L331.95 355L326.25 355Z" fill="#0000EE"/>
<path d="M340 356.9L342.85 351.95L337.15 351.95Z" fill="#0000EE"/>
<path d="M350.9 355.68L353.75 350.73L348.05 350.73Z" fill="#0000EE"/>
<polyline points="87.2,374.64 107,373.42 117.4,372.81 130.2,371.89 141,370.37 153,369.15 165.8,367.93 176.6,367.32 188.3,366.71 199.3,366.1 210,365.79 220.7,365.49 231.6,365.19 242.3,364.88 253.2,364.88 263.9,364.88 274.8,364.27 285.5,363.66 296.4,363.05 307.5,362.44 318.4,360 329.1,356.34 340,353.29 350.9,352.07" fill="none" stroke="#C3C0FA" stroke-width="1.0"/>
<path d="M87.2 373.42V375.86M107 372.2V374.64M117.4 371.59V374.03M130.2 370.67V373.12M141 369.15V371.59M153 367.93V370.37M165.8 366.71V369.15M176.6 366.1V368.54M188.3 365.49V367.93M199.3 364.88V367.32M210 364.57V367.01M220.7 364.27V366.71M231.6 363.96V366.41M242.3 363.66V366.1M253.2 363.66V366.1M263.9 363.66V366.1M274.8 363.05V365.49M285.5 362.44V364.88M296.4 361.83V364.27M307.5 361.22V363.66M318.4 358.78V361.22M329.1 355.12V357.56M340 352.07V354.51M350.9 350.85V353.29" stroke="#C3C0FA" stroke-width="0.85" fill="none" opacity="0.6"/>
<path d="M85.2 373.42H89.2M85.2 375.86H89.2M105 372.2H109M105 374.64H109M115.4 371.59H119.4M115.4 374.03H119.4M128.2 370.67H132.2M128.2 373.12H132.2M139 369.15H143M139 371.59H143M151 367.93H155M151 370.37H155M163.8 366.71H167.8M163.8 369.15H167.8M174.6 366.1H178.6M174.6 368.54H178.6M186.3 365.49H190.3M186.3 367.93H190.3M197.3 364.88H201.3M197.3 367.32H201.3M208 364.57H212M208 367.01H212M218.7 364.27H222.7M218.7 366.71H222.7M229.6 363.96H233.6M229.6 366.41H233.6M240.3 363.66H244.3M240.3 366.1H244.3M251.2 363.66H255.2M251.2 366.1H255.2M261.9 363.66H265.9M261.9 366.1H265.9M272.8 363.05H276.8M272.8 365.49H276.8M283.5 362.44H287.5M283.5 364.88H287.5M294.4 361.83H298.4M294.4 364.27H298.4M305.5 361.22H309.5M305.5 363.66H309.5M316.4 358.78H320.4M316.4 361.22H320.4M327.1 355.12H331.1M327.1 357.56H331.1M338 352.07H342M338 354.51H342M348.9 350.85H352.9M348.9 353.29H352.9" stroke="#C3C0FA" stroke-width="0.95" fill="none" opacity="0.6"/>
<circle cx="87.2" cy="374.64" r="2.3" fill="#C3C0FA"/>
<circle cx="107" cy="373.42" r="2.3" fill="#C3C0FA"/>
<circle cx="117.4" cy="372.81" r="2.3" fill="#C3C0FA"/>
<circle cx="130.2" cy="371.89" r="2.3" fill="#C3C0FA"/>
<circle cx="141" cy="370.37" r="2.3" fill="#C3C0FA"/>
<circle cx="153" cy="369.15" r="2.3" fill="#C3C0FA"/>
<circle cx="165.8" cy="367.93" r="2.3" fill="#C3C0FA"/>
<circle cx="176.6" cy="367.32" r="2.3" fill="#C3C0FA"/>
<circle cx="188.3" cy="366.71" r="2.3" fill="#C3C0FA"/>
<circle cx="199.3" cy="366.1" r="2.3" fill="#C3C0FA"/>
<circle cx="210" cy="365.79" r="2.3" fill="#C3C0FA"/>
<circle cx="220.7" cy="365.49" r="2.3" fill="#C3C0FA"/>
<circle cx="231.6" cy="365.19" r="2.3" fill="#C3C0FA"/>
<circle cx="242.3" cy="364.88" r="2.3" fill="#C3C0FA"/>
<circle cx="253.2" cy="364.88" r="2.3" fill="#C3C0FA"/>
<circle cx="263.9" cy="364.88" r="2.3" fill="#C3C0FA"/>
<circle cx="274.8" cy="364.27" r="2.3" fill="#C3C0FA"/>
<circle cx="285.5" cy="363.66" r="2.3" fill="#C3C0FA"/>
<circle cx="296.4" cy="363.05" r="2.3" fill="#C3C0FA"/>
<circle cx="307.5" cy="362.44" r="2.3" fill="#C3C0FA"/>
<circle cx="318.4" cy="360" r="2.3" fill="#C3C0FA"/>
<circle cx="329.1" cy="356.34" r="2.3" fill="#C3C0FA"/>
<circle cx="340" cy="353.29" r="2.3" fill="#C3C0FA"/>
<circle cx="350.9" cy="352.07" r="2.3" fill="#C3C0FA"/>
<polyline points="87.2,374.64 107,373.42 117.4,372.81 130.2,371.89 141,369.76 153,367.93 165.8,366.71 176.6,365.49 188.3,364.27 199.3,364.57 210,364.7 220.7,364.09 231.6,364.27 242.3,364.27 253.2,364.27 263.9,364.27 274.8,363.66 285.5,363.05 296.4,362.68 307.5,362.07 318.4,359.51 329.1,356.1 340,352.5 350.9,350.73" fill="none" stroke="#A00010" stroke-width="1.0"/>
<path d="M318.4 349.32V369.82M329.1 339.32V371.71M340 335.48V371.71M350.9 334.2V372.02" stroke="#803050" stroke-width="0.7" fill="none" opacity="0.45"/>
<path d="M316.4 349.32H320.4M316.4 369.82H320.4M327.1 339.32H331.1M327.1 371.71H331.1M338 335.48H342M338 371.71H342M348.9 334.2H352.9M348.9 372.02H352.9" stroke="#803050" stroke-width="0.95" fill="none" opacity="1"/>
<path d="M87.2 372.04L89.8 374.64L87.2 377.24L84.6 374.64Z" fill="#A00010"/>
<path d="M107 370.82L109.6 373.42L107 376.02L104.4 373.42Z" fill="#A00010"/>
<path d="M117.4 370.21L120 372.81L117.4 375.41L114.8 372.81Z" fill="#A00010"/>
<path d="M130.2 369.29L132.8 371.89L130.2 374.5L127.6 371.89Z" fill="#A00010"/>
<path d="M141 367.16L143.6 369.76L141 372.36L138.4 369.76Z" fill="#A00010"/>
<path d="M153 365.33L155.6 367.93L153 370.53L150.4 367.93Z" fill="#A00010"/>
<path d="M165.8 364.11L168.4 366.71L165.8 369.31L163.2 366.71Z" fill="#A00010"/>
<path d="M176.6 362.89L179.2 365.49L176.6 368.09L174 365.49Z" fill="#A00010"/>
<path d="M188.3 361.67L190.9 364.27L188.3 366.87L185.7 364.27Z" fill="#A00010"/>
<path d="M199.3 361.97L201.9 364.57L199.3 367.18L196.7 364.57Z" fill="#A00010"/>
<path d="M210 362.1L212.6 364.7L210 367.3L207.4 364.7Z" fill="#A00010"/>
<path d="M220.7 361.49L223.3 364.09L220.7 366.69L218.1 364.09Z" fill="#A00010"/>
<path d="M231.6 361.67L234.2 364.27L231.6 366.87L229 364.27Z" fill="#A00010"/>
<path d="M242.3 361.67L244.9 364.27L242.3 366.87L239.7 364.27Z" fill="#A00010"/>
<path d="M253.2 361.67L255.8 364.27L253.2 366.87L250.6 364.27Z" fill="#A00010"/>
<path d="M263.9 361.67L266.5 364.27L263.9 366.87L261.3 364.27Z" fill="#A00010"/>
<path d="M274.8 361.06L277.4 363.66L274.8 366.26L272.2 363.66Z" fill="#A00010"/>
<path d="M285.5 360.45L288.1 363.05L285.5 365.65L282.9 363.05Z" fill="#A00010"/>
<path d="M296.4 360.08L299 362.68L296.4 365.28L293.8 362.68Z" fill="#A00010"/>
<path d="M307.5 359.47L310.1 362.07L307.5 364.67L304.9 362.07Z" fill="#A00010"/>
<path d="M318.4 356.91L321 359.51L318.4 362.11L315.8 359.51Z" fill="#A00010"/>
<path d="M329.1 353.5L331.7 356.1L329.1 358.7L326.5 356.1Z" fill="#A00010"/>
<path d="M340 349.9L342.6 352.5L340 355.1L337.4 352.5Z" fill="#A00010"/>
<path d="M350.9 348.13L353.5 350.73L350.9 353.33L348.3 350.73Z" fill="#A00010"/>
<polyline points="87.2,374.64 107,373.42 117.4,372.81 130.2,371.59 141,367.32 153,364.27 165.8,358.78 176.6,357.56 188.3,356.95 199.3,358.17 210,358.78 220.7,359.39 231.6,360 242.3,360 253.2,360 263.9,360.61 274.8,360 285.5,360 296.4,359.39 307.5,358.78 318.4,359.39 329.1,356.1 340,352.5 350.9,350.73" fill="none" stroke="#F4A09C" stroke-width="1.0"/>
<path d="M141 366.1V368.54M153 361.83V366.71M165.8 355.12V362.44M176.6 353.9V361.22M188.3 353.29V360.61M199.3 354.51V361.83M210 355.12V362.44M220.7 356.34V362.44M231.6 356.95V363.05M242.3 356.95V363.05M253.2 356.95V363.05M263.9 357.56V363.66M274.8 356.95V363.05M285.5 356.95V363.05M296.4 356.34V362.44M307.5 355.73V361.83M318.4 354.57V362.44M329.1 344.81V367.93M340 348.84V366.59M350.9 347.68V366.28" stroke="#F4A09C" stroke-width="0.7" fill="none" opacity="0.3"/>
<path d="M139 366.1H143M139 368.54H143M151 361.83H155M151 366.71H155M163.8 355.12H167.8M163.8 362.44H167.8M174.6 353.9H178.6M174.6 361.22H178.6M186.3 353.29H190.3M186.3 360.61H190.3M197.3 354.51H201.3M197.3 361.83H201.3M208 355.12H212M208 362.44H212M218.7 356.34H222.7M218.7 362.44H222.7M229.6 356.95H233.6M229.6 363.05H233.6M240.3 356.95H244.3M240.3 363.05H244.3M251.2 356.95H255.2M251.2 363.05H255.2M261.9 357.56H265.9M261.9 363.66H265.9M272.8 356.95H276.8M272.8 363.05H276.8M283.5 356.95H287.5M283.5 363.05H287.5M294.4 356.34H298.4M294.4 362.44H298.4M305.5 355.73H309.5M305.5 361.83H309.5M316.4 354.57H320.4M316.4 362.44H320.4M327.1 344.81H331.1M327.1 367.93H331.1M338 348.84H342M338 366.59H342M348.9 347.68H352.9M348.9 366.28H352.9" stroke="#F4A09C" stroke-width="0.95" fill="none" opacity="0.6"/>
<path d="M87.2 371.64L90.05 376.59L84.35 376.59Z" fill="#F4A09C"/>
<path d="M107 370.42L109.85 375.37L104.15 375.37Z" fill="#F4A09C"/>
<path d="M117.4 369.81L120.25 374.76L114.55 374.76Z" fill="#F4A09C"/>
<path d="M130.2 368.59L133.05 373.54L127.35 373.54Z" fill="#F4A09C"/>
<path d="M141 364.32L143.85 369.27L138.15 369.27Z" fill="#F4A09C"/>
<path d="M153 361.27L155.85 366.22L150.15 366.22Z" fill="#F4A09C"/>
<path d="M165.8 355.78L168.65 360.73L162.95 360.73Z" fill="#F4A09C"/>
<path d="M176.6 354.56L179.45 359.51L173.75 359.51Z" fill="#F4A09C"/>
<path d="M188.3 353.95L191.15 358.9L185.45 358.9Z" fill="#F4A09C"/>
<path d="M199.3 355.17L202.15 360.12L196.45 360.12Z" fill="#F4A09C"/>
<path d="M210 355.78L212.85 360.73L207.15 360.73Z" fill="#F4A09C"/>
<path d="M220.7 356.39L223.55 361.34L217.85 361.34Z" fill="#F4A09C"/>
<path d="M231.6 357L234.45 361.95L228.75 361.95Z" fill="#F4A09C"/>
<path d="M242.3 357L245.15 361.95L239.45 361.95Z" fill="#F4A09C"/>
<path d="M253.2 357L256.05 361.95L250.35 361.95Z" fill="#F4A09C"/>
<path d="M263.9 357.61L266.75 362.56L261.05 362.56Z" fill="#F4A09C"/>
<path d="M274.8 357L277.65 361.95L271.95 361.95Z" fill="#F4A09C"/>
<path d="M285.5 357L288.35 361.95L282.65 361.95Z" fill="#F4A09C"/>
<path d="M296.4 356.39L299.25 361.34L293.55 361.34Z" fill="#F4A09C"/>
<path d="M307.5 355.78L310.35 360.73L304.65 360.73Z" fill="#F4A09C"/>
<path d="M318.4 356.39L321.25 361.34L315.55 361.34Z" fill="#F4A09C"/>
<path d="M329.1 353.1L331.95 358.05L326.25 358.05Z" fill="#F4A09C"/>
<path d="M340 349.5L342.85 354.45L337.15 354.45Z" fill="#F4A09C"/>
<path d="M350.9 347.73L353.75 352.68L348.05 352.68Z" fill="#F4A09C"/>
<polyline points="87.2,374.64 107,373.42 117.4,372.81 130.2,371.59 141,369.15 153,367.32 165.8,364.27 176.6,362.07 188.3,360.12 199.3,363.42 210,362.75 220.7,363.42 231.6,363.66 242.3,363.66 253.2,363.96 263.9,363.66 274.8,363.05 285.5,362.68 296.4,362.07 307.5,361.4 318.4,359.51 329.1,356.1 340,352.5 350.9,350.73" fill="none" stroke="#F20000" stroke-width="1.0"/>
<path d="M141 367.93V370.37M153 365.49V369.15M165.8 361.83V366.71M176.6 359.63V364.51M188.3 357.68V362.56M199.3 360.98V365.86M210 360.31V365.19M220.7 360.98V365.86M231.6 361.22V366.1M242.3 361.22V366.1M253.2 361.52V366.4M263.9 361.22V366.1M274.8 360.61V365.49M285.5 360.24V365.12M296.4 359.63V364.51M307.5 358.96V363.84M318.4 357.68V361.34M329.1 354.27V357.93M340 350.67V354.33M350.9 348.9V352.56" stroke="#F20000" stroke-width="0.85" fill="none" opacity="1"/>
<path d="M139 367.93H143M139 370.37H143M151 365.49H155M151 369.15H155M163.8 361.83H167.8M163.8 366.71H167.8M174.6 359.63H178.6M174.6 364.51H178.6M186.3 357.68H190.3M186.3 362.56H190.3M197.3 360.98H201.3M197.3 365.86H201.3M208 360.31H212M208 365.19H212M218.7 360.98H222.7M218.7 365.86H222.7M229.6 361.22H233.6M229.6 366.1H233.6M240.3 361.22H244.3M240.3 366.1H244.3M251.2 361.52H255.2M251.2 366.4H255.2M261.9 361.22H265.9M261.9 366.1H265.9M272.8 360.61H276.8M272.8 365.49H276.8M283.5 360.24H287.5M283.5 365.12H287.5M294.4 359.63H298.4M294.4 364.51H298.4M305.5 358.96H309.5M305.5 363.84H309.5M316.4 357.68H320.4M316.4 361.34H320.4M327.1 354.27H331.1M327.1 357.93H331.1M338 350.67H342M338 354.33H342M348.9 348.9H352.9M348.9 352.56H352.9" stroke="#F20000" stroke-width="0.95" fill="none" opacity="1"/>
<rect x="85" y="372.44" width="4.4" height="4.4" fill="#F20000"/>
<rect x="104.8" y="371.22" width="4.4" height="4.4" fill="#F20000"/>
<rect x="115.2" y="370.61" width="4.4" height="4.4" fill="#F20000"/>
<rect x="128" y="369.39" width="4.4" height="4.4" fill="#F20000"/>
<rect x="138.8" y="366.95" width="4.4" height="4.4" fill="#F20000"/>
<rect x="150.8" y="365.12" width="4.4" height="4.4" fill="#F20000"/>
<rect x="163.6" y="362.07" width="4.4" height="4.4" fill="#F20000"/>
<rect x="174.4" y="359.87" width="4.4" height="4.4" fill="#F20000"/>
<rect x="186.1" y="357.92" width="4.4" height="4.4" fill="#F20000"/>
<rect x="197.1" y="361.22" width="4.4" height="4.4" fill="#F20000"/>
<rect x="207.8" y="360.55" width="4.4" height="4.4" fill="#F20000"/>
<rect x="218.5" y="361.22" width="4.4" height="4.4" fill="#F20000"/>
<rect x="229.4" y="361.46" width="4.4" height="4.4" fill="#F20000"/>
<rect x="240.1" y="361.46" width="4.4" height="4.4" fill="#F20000"/>
<rect x="251" y="361.76" width="4.4" height="4.4" fill="#F20000"/>
<rect x="261.7" y="361.46" width="4.4" height="4.4" fill="#F20000"/>
<rect x="272.6" y="360.85" width="4.4" height="4.4" fill="#F20000"/>
<rect x="283.3" y="360.48" width="4.4" height="4.4" fill="#F20000"/>
<rect x="294.2" y="359.87" width="4.4" height="4.4" fill="#F20000"/>
<rect x="305.3" y="359.2" width="4.4" height="4.4" fill="#F20000"/>
<rect x="316.2" y="357.31" width="4.4" height="4.4" fill="#F20000"/>
<rect x="326.9" y="353.9" width="4.4" height="4.4" fill="#F20000"/>
<rect x="337.8" y="350.3" width="4.4" height="4.4" fill="#F20000"/>
<rect x="348.7" y="348.53" width="4.4" height="4.4" fill="#F20000"/>
<polyline points="87.2,374.52 107,373.42 117.4,372.87 130.2,371.28 141,370 153,362.99 165.8,356.58 176.6,347.01 188.3,334.07 199.3,319.13 210,304.79 220.7,293.39 231.6,279.3 242.3,269.48 253.2,263.92 263.9,258.92 274.8,255.2 285.5,253.01 296.4,250.2 307.5,248 318.4,243.43 329.1,238.91 340,235.93 350.9,232.02" fill="none" stroke="#000000" stroke-width="1.0"/>
<path d="M87.2 373.91V375.13M107 372.5V374.33M117.4 371.96V373.79M130.2 370.37V372.2M141 368.78V371.22M153 360.55V365.43M165.8 353.53V359.63M176.6 343.35V350.67M188.3 329.93V338.22M199.3 314.13V324.13M210 299.61V309.98M220.7 288.39V298.39M231.6 274.29V284.3M242.3 263.38V275.58M253.2 257.15V270.7M263.9 251.42V266.43M274.8 248.43V261.97M285.5 242.82V263.19M296.4 241.11V259.29M307.5 238.24V257.76M318.4 233.67V253.19M329.1 229.83V248M340 226.17V245.69M350.9 222.26V241.78" stroke="#000000" stroke-width="0.85" fill="none" opacity="1"/>
<path d="M85.2 373.91H89.2M85.2 375.13H89.2M105 372.5H109M105 374.33H109M115.4 371.96H119.4M115.4 373.79H119.4M128.2 370.37H132.2M128.2 372.2H132.2M139 368.78H143M139 371.22H143M151 360.55H155M151 365.43H155M163.8 353.53H167.8M163.8 359.63H167.8M174.6 343.35H178.6M174.6 350.67H178.6M186.3 329.93H190.3M186.3 338.22H190.3M197.3 314.13H201.3M197.3 324.13H201.3M208 299.61H212M208 309.98H212M218.7 288.39H222.7M218.7 298.39H222.7M229.6 274.29H233.6M229.6 284.3H233.6M240.3 263.38H244.3M240.3 275.58H244.3M251.2 257.15H255.2M251.2 270.7H255.2M261.9 251.42H265.9M261.9 266.43H265.9M272.8 248.43H276.8M272.8 261.97H276.8M283.5 242.82H287.5M283.5 263.19H287.5M294.4 241.11H298.4M294.4 259.29H298.4M305.5 238.24H309.5M305.5 257.76H309.5M316.4 233.67H320.4M316.4 253.19H320.4M327.1 229.83H331.1M327.1 248H331.1M338 226.17H342M338 245.69H342M348.9 222.26H352.9M348.9 241.78H352.9" stroke="#000000" stroke-width="0.95" fill="none" opacity="1"/>
<circle cx="87.2" cy="374.52" r="2.3" fill="#000000"/>
<circle cx="107" cy="373.42" r="2.3" fill="#000000"/>
<circle cx="117.4" cy="372.87" r="2.3" fill="#000000"/>
<circle cx="130.2" cy="371.28" r="2.3" fill="#000000"/>
<circle cx="141" cy="370" r="2.3" fill="#000000"/>
<circle cx="153" cy="362.99" r="2.3" fill="#000000"/>
<circle cx="165.8" cy="356.58" r="2.3" fill="#000000"/>
<circle cx="176.6" cy="347.01" r="2.3" fill="#000000"/>
<circle cx="188.3" cy="334.07" r="2.3" fill="#000000"/>
<circle cx="199.3" cy="319.13" r="2.3" fill="#000000"/>
<circle cx="210" cy="304.79" r="2.3" fill="#000000"/>
<circle cx="220.7" cy="293.39" r="2.3" fill="#000000"/>
<circle cx="231.6" cy="279.3" r="2.3" fill="#000000"/>
<circle cx="242.3" cy="269.48" r="2.3" fill="#000000"/>
<circle cx="253.2" cy="263.92" r="2.3" fill="#000000"/>
<circle cx="263.9" cy="258.92" r="2.3" fill="#000000"/>
<circle cx="274.8" cy="255.2" r="2.3" fill="#000000"/>
<circle cx="285.5" cy="253.01" r="2.3" fill="#000000"/>
<circle cx="296.4" cy="250.2" r="2.3" fill="#000000"/>
<circle cx="307.5" cy="248" r="2.3" fill="#000000"/>
<circle cx="318.4" cy="243.43" r="2.3" fill="#000000"/>
<circle cx="329.1" cy="238.91" r="2.3" fill="#000000"/>
<circle cx="340" cy="235.93" r="2.3" fill="#000000"/>
<circle cx="350.9" cy="232.02" r="2.3" fill="#000000"/>
<g stroke="#000" fill="none">
<path d="M87 400V585.8" stroke-width="1.6"/>
<path d="M86.2 583.3H358.2" stroke-width="1.6"/>
<path d="M84 583.3H87M85 577.19H87M85 571.08H87M85 564.97H87M85 558.86H87M85 552.75H87M85 546.64H87M85 540.53H87M85 534.42H87M85 528.31H87M84 522.2H87M85 516.09H87M85 509.98H87M85 503.87H87M85 497.76H87M85 491.65H87M85 485.54H87M85 479.43H87M85 473.32H87M85 467.21H87M84 461.1H87M85 454.99H87M85 448.88H87M85 442.77H87M85 436.66H87M85 430.55H87M85 424.44H87M85 418.33H87M85 412.22H87M85 406.11H87M84 400H87" stroke-width="1.2"/>
<path d="M87 583.3V586.1M97.86 583.3V585.1M108.72 583.3V585.1M119.58 583.3V585.1M130.44 583.3V585.1M141.3 583.3V586.1M152.16 583.3V585.1M163.02 583.3V585.1M173.88 583.3V585.1M184.74 583.3V585.1M195.6 583.3V586.1M206.46 583.3V585.1M217.32 583.3V585.1M228.18 583.3V585.1M239.04 583.3V585.1M249.9 583.3V586.1M260.76 583.3V585.1M271.62 583.3V585.1M282.48 583.3V585.1M293.34 583.3V585.1M304.2 583.3V586.1M315.06 583.3V585.1M325.92 583.3V585.1M336.78 583.3V585.1M347.64 583.3V585.1M358.5 583.3V586.1" stroke-width="1.2"/>
</g>
<text x="82.5" y="588.2" text-anchor="end" font-size="13.5" font-weight="bold" font-family="Liberation Sans, sans-serif">0</text>
<text x="82.5" y="527.1" text-anchor="end" font-size="13.5" font-weight="bold" font-family="Liberation Sans, sans-serif">50</text>
<text x="82.5" y="466" text-anchor="end" font-size="13.5" font-weight="bold" font-family="Liberation Sans, sans-serif">100</text>
<text x="82.5" y="404.9" text-anchor="end" font-size="13.5" font-weight="bold" font-family="Liberation Sans, sans-serif">150</text>
<text x="55" y="488.3" transform="rotate(-90 55 488.3)" text-anchor="middle" font-size="11.1" font-weight="bold" font-family="Liberation Sans, sans-serif">Backscatter aU</text>
<path d="M92 412.3H105" stroke="#000" stroke-width="1"/>
<circle cx="98" cy="412.3" r="2.88" fill="#000000"/>
<text x="110" y="416.5" font-size="14.9" font-family="Liberation Sans, sans-serif" fill="#1a1a1a"><tspan font-style="italic">S. albidoflavus</tspan> M145</text>
<polyline points="87,564.36 97.86,563.38 108.72,561.91 119.58,560.08 130.44,556.42 141.3,551.53 152.16,545.42 163.02,538.09 173.88,529.53 184.74,519.76 195.6,509.37 206.46,498.98 217.32,486.52 228.18,476.01 239.04,467.09 249.9,465.01 260.76,461.83 271.62,459.27 282.48,457.92 293.34,459.27 304.2,459.27 315.06,459.27 325.92,458.9 336.78,458.9" fill="none" stroke="#000080" stroke-width="1.0"/>
<path d="M87 563.75V564.97M97.86 562.16V564.6M108.72 560.69V563.14M119.58 558.25V561.91M130.44 553.97V558.86M141.3 547.86V555.19M152.16 540.53V550.31M163.02 531.98V544.2M173.88 522.2V536.86M184.74 511.2V528.31M195.6 499.59V519.14M206.46 487.98V509.98M217.32 474.05V498.98M228.18 456.95V495.07M239.04 445.34V488.84M249.9 441.3V488.72M260.76 436.05V487.62M271.62 432.26V486.27M282.48 431.41V484.44M293.34 432.02V486.52M304.2 433.73V484.81M315.06 433.73V484.81M325.92 435.19V482.61M336.78 435.19V482.61" stroke="#000080" stroke-width="0.85" fill="none" opacity="0.7"/>
<path d="M85 563.75H89M85 564.97H89M95.86 562.16H99.86M95.86 564.6H99.86M106.72 560.69H110.72M106.72 563.14H110.72M117.58 558.25H121.58M117.58 561.91H121.58M128.44 553.97H132.44M128.44 558.86H132.44M139.3 547.86H143.3M139.3 555.19H143.3M150.16 540.53H154.16M150.16 550.31H154.16M161.02 531.98H165.02M161.02 544.2H165.02M171.88 522.2H175.88M171.88 536.86H175.88M182.74 511.2H186.74M182.74 528.31H186.74M193.6 499.59H197.6M193.6 519.14H197.6M204.46 487.98H208.46M204.46 509.98H208.46M215.32 474.05H219.32M215.32 498.98H219.32M226.18 456.95H230.18M226.18 495.07H230.18M237.04 445.34H241.04M237.04 488.84H241.04M247.9 441.3H251.9M247.9 488.72H251.9M258.76 436.05H262.76M258.76 487.62H262.76M269.62 432.26H273.62M269.62 486.27H273.62M280.48 431.41H284.48M280.48 484.44H284.48M291.34 432.02H295.34M291.34 486.52H295.34M302.2 433.73H306.2M302.2 484.81H306.2M313.06 433.73H317.06M313.06 484.81H317.06M323.92 435.19H327.92M323.92 482.61H327.92M334.78 435.19H338.78M334.78 482.61H338.78" stroke="#000080" stroke-width="0.95" fill="none" opacity="1"/>
<path d="M87 561.96L87.63 563.49L89.28 563.62L88.03 564.69L88.41 566.3L87 565.44L85.59 566.3L85.97 564.69L84.72 563.62L86.37 563.49Z" fill="#000080"/>
<path d="M97.86 560.98L98.49 562.51L100.14 562.64L98.89 563.72L99.27 565.32L97.86 564.46L96.45 565.32L96.83 563.72L95.58 562.64L97.23 562.51Z" fill="#000080"/>
<path d="M108.72 559.51L109.35 561.04L111 561.17L109.75 562.25L110.13 563.86L108.72 563L107.31 563.86L107.69 562.25L106.44 561.17L108.09 561.04Z" fill="#000080"/>
<path d="M119.58 557.68L120.21 559.21L121.86 559.34L120.61 560.42L120.99 562.02L119.58 561.16L118.17 562.02L118.55 560.42L117.3 559.34L118.95 559.21Z" fill="#000080"/>
<path d="M130.44 554.02L131.07 555.54L132.72 555.67L131.47 556.75L131.85 558.36L130.44 557.5L129.03 558.36L129.41 556.75L128.16 555.67L129.81 555.54Z" fill="#000080"/>
<path d="M141.3 549.13L141.93 550.65L143.58 550.79L142.33 551.86L142.71 553.47L141.3 552.61L139.89 553.47L140.27 551.86L139.02 550.79L140.67 550.65Z" fill="#000080"/>
<path d="M152.16 543.02L152.79 544.54L154.44 544.68L153.19 545.75L153.57 547.36L152.16 546.5L150.75 547.36L151.13 545.75L149.88 544.68L151.53 544.54Z" fill="#000080"/>
<path d="M163.02 535.69L163.65 537.21L165.3 537.34L164.05 538.42L164.43 540.03L163.02 539.17L161.61 540.03L161.99 538.42L160.74 537.34L162.39 537.21Z" fill="#000080"/>
<path d="M173.88 527.13L174.51 528.66L176.16 528.79L174.91 529.87L175.29 531.47L173.88 530.61L172.47 531.47L172.85 529.87L171.6 528.79L173.25 528.66Z" fill="#000080"/>
<path d="M184.74 517.36L185.37 518.88L187.02 519.01L185.77 520.09L186.15 521.7L184.74 520.84L183.33 521.7L183.71 520.09L182.46 519.01L184.11 518.88Z" fill="#000080"/>
<path d="M195.6 506.97L196.23 508.5L197.88 508.63L196.63 509.7L197.01 511.31L195.6 510.45L194.19 511.31L194.57 509.7L193.32 508.63L194.97 508.5Z" fill="#000080"/>
<path d="M206.46 496.58L207.09 498.11L208.74 498.24L207.49 499.32L207.87 500.92L206.46 500.06L205.05 500.92L205.43 499.32L204.18 498.24L205.83 498.11Z" fill="#000080"/>
<path d="M217.32 484.12L217.95 485.64L219.6 485.78L218.35 486.85L218.73 488.46L217.32 487.6L215.91 488.46L216.29 486.85L215.04 485.78L216.69 485.64Z" fill="#000080"/>
<path d="M228.18 473.61L228.81 475.13L230.46 475.27L229.21 476.34L229.59 477.95L228.18 477.09L226.77 477.95L227.15 476.34L225.9 475.27L227.55 475.13Z" fill="#000080"/>
<path d="M239.04 464.69L239.67 466.21L241.32 466.35L240.07 467.42L240.45 469.03L239.04 468.17L237.63 469.03L238.01 467.42L236.76 466.35L238.41 466.21Z" fill="#000080"/>
<path d="M249.9 462.61L250.53 464.14L252.18 464.27L250.93 465.34L251.31 466.95L249.9 466.09L248.49 466.95L248.87 465.34L247.62 464.27L249.27 464.14Z" fill="#000080"/>
<path d="M260.76 459.43L261.39 460.96L263.04 461.09L261.79 462.17L262.17 463.77L260.76 462.91L259.35 463.77L259.73 462.17L258.48 461.09L260.13 460.96Z" fill="#000080"/>
<path d="M271.62 456.87L272.25 458.39L273.9 458.53L272.65 459.6L273.03 461.21L271.62 460.35L270.21 461.21L270.59 459.6L269.34 458.53L270.99 458.39Z" fill="#000080"/>
<path d="M282.48 455.52L283.11 457.05L284.76 457.18L283.51 458.26L283.89 459.86L282.48 459L281.07 459.86L281.45 458.26L280.2 457.18L281.85 457.05Z" fill="#000080"/>
<path d="M293.34 456.87L293.97 458.39L295.62 458.53L294.37 459.6L294.75 461.21L293.34 460.35L291.93 461.21L292.31 459.6L291.06 458.53L292.71 458.39Z" fill="#000080"/>
<path d="M304.2 456.87L304.83 458.39L306.48 458.53L305.23 459.6L305.61 461.21L304.2 460.35L302.79 461.21L303.17 459.6L301.92 458.53L303.57 458.39Z" fill="#000080"/>
<path d="M315.06 456.87L315.69 458.39L317.34 458.53L316.09 459.6L316.47 461.21L315.06 460.35L313.65 461.21L314.03 459.6L312.78 458.53L314.43 458.39Z" fill="#000080"/>
<path d="M325.92 456.5L326.55 458.03L328.2 458.16L326.95 459.23L327.33 460.84L325.92 459.98L324.51 460.84L324.89 459.23L323.64 458.16L325.29 458.03Z" fill="#000080"/>
<path d="M336.78 456.5L337.41 458.03L339.06 458.16L337.81 459.23L338.19 460.84L336.78 459.98L335.37 460.84L335.75 459.23L334.5 458.16L336.15 458.03Z" fill="#000080"/>
<polyline points="87,564.36 97.86,563.38 108.72,561.91 119.58,560.08 130.44,557.03 141.3,552.75 152.16,546.64 163.02,539.31 173.88,530.75 184.74,522.2 195.6,513.65 206.46,507.54 217.32,502.65 228.18,496.9 239.04,493.12 249.9,487.86 260.76,486.88 271.62,484.56 282.48,484.2 293.34,483.58 304.2,483.1 315.06,480.77 325.92,480.41 336.78,478.94" fill="none" stroke="#0000EE" stroke-width="1.0"/>
<path d="M130.44 555.8V558.25M141.3 550.31V555.19M152.16 542.97V550.31M163.02 535.64V542.97M173.88 527.09V534.42M184.74 518.53V525.87M195.6 509.98V517.31M206.46 502.65V512.42M217.32 497.76V507.54M228.18 492.02V501.79M239.04 488.23V498M249.9 482.97V492.75M260.76 482V491.77M271.62 479.67V489.45M282.48 479.31V489.08M293.34 478.7V488.47M304.2 478.21V487.98M315.06 475.89V485.66M325.92 475.52V485.3M336.78 474.05V483.83" stroke="#0000EE" stroke-width="0.85" fill="none" opacity="1"/>
<path d="M128.44 555.8H132.44M128.44 558.25H132.44M139.3 550.31H143.3M139.3 555.19H143.3M150.16 542.97H154.16M150.16 550.31H154.16M161.02 535.64H165.02M161.02 542.97H165.02M171.88 527.09H175.88M171.88 534.42H175.88M182.74 518.53H186.74M182.74 525.87H186.74M193.6 509.98H197.6M193.6 517.31H197.6M204.46 502.65H208.46M204.46 512.42H208.46M215.32 497.76H219.32M215.32 507.54H219.32M226.18 492.02H230.18M226.18 501.79H230.18M237.04 488.23H241.04M237.04 498H241.04M247.9 482.97H251.9M247.9 492.75H251.9M258.76 482H262.76M258.76 491.77H262.76M269.62 479.67H273.62M269.62 489.45H273.62M280.48 479.31H284.48M280.48 489.08H284.48M291.34 478.7H295.34M291.34 488.47H295.34M302.2 478.21H306.2M302.2 487.98H306.2M313.06 475.89H317.06M313.06 485.66H317.06M323.92 475.52H327.92M323.92 485.3H327.92M334.78 474.05H338.78M334.78 483.83H338.78" stroke="#0000EE" stroke-width="0.95" fill="none" opacity="1"/>
<path d="M87 567.36L89.85 562.41L84.15 562.41Z" fill="#0000EE"/>
<path d="M97.86 566.38L100.71 561.43L95.01 561.43Z" fill="#0000EE"/>
<path d="M108.72 564.91L111.57 559.96L105.87 559.96Z" fill="#0000EE"/>
<path d="M119.58 563.08L122.43 558.13L116.73 558.13Z" fill="#0000EE"/>
<path d="M130.44 560.03L133.29 555.08L127.59 555.08Z" fill="#0000EE"/>
<path d="M141.3 555.75L144.15 550.8L138.45 550.8Z" fill="#0000EE"/>
<path d="M152.16 549.64L155.01 544.69L149.31 544.69Z" fill="#0000EE"/>
<path d="M163.02 542.31L165.87 537.36L160.17 537.36Z" fill="#0000EE"/>
<path d="M173.88 533.75L176.73 528.8L171.03 528.8Z" fill="#0000EE"/>
<path d="M184.74 525.2L187.59 520.25L181.89 520.25Z" fill="#0000EE"/>
<path d="M195.6 516.65L198.45 511.7L192.75 511.7Z" fill="#0000EE"/>
<path d="M206.46 510.54L209.31 505.59L203.61 505.59Z" fill="#0000EE"/>
<path d="M217.32 505.65L220.17 500.7L214.47 500.7Z" fill="#0000EE"/>
<path d="M228.18 499.9L231.03 494.95L225.33 494.95Z" fill="#0000EE"/>
<path d="M239.04 496.12L241.89 491.17L236.19 491.17Z" fill="#0000EE"/>
<path d="M249.9 490.86L252.75 485.91L247.05 485.91Z" fill="#0000EE"/>
<path d="M260.76 489.88L263.61 484.93L257.91 484.93Z" fill="#0000EE"/>
<path d="M271.62 487.56L274.47 482.61L268.77 482.61Z" fill="#0000EE"/>
<path d="M282.48 487.2L285.33 482.25L279.63 482.25Z" fill="#0000EE"/>
<path d="M293.34 486.58L296.19 481.63L290.49 481.63Z" fill="#0000EE"/>
<path d="M304.2 486.1L307.05 481.15L301.35 481.15Z" fill="#0000EE"/>
<path d="M315.06 483.77L317.91 478.82L312.21 478.82Z" fill="#0000EE"/>
<path d="M325.92 483.41L328.77 478.46L323.07 478.46Z" fill="#0000EE"/>
<path d="M336.78 481.94L339.63 476.99L333.93 476.99Z" fill="#0000EE"/>
<polyline points="87,564.36 97.86,563.38 108.72,561.91 119.58,560.08 130.44,557.03 141.3,552.75 152.16,546.64 163.02,539.31 173.88,530.75 184.74,522.2 195.6,513.65 206.46,506.31 217.32,501.43 228.18,496.54 239.04,493.48 249.9,491.65 260.76,491.04 271.62,490.43 282.48,489.82 293.34,489.82 304.2,489.21 315.06,489.21 325.92,488.59 336.78,487.98" fill="none" stroke="#C3C0FA" stroke-width="1.0"/>
<path d="M87 560.69V568.02M97.86 559.72V567.05M108.72 558.25V565.58M119.58 556.42V563.75M130.44 553.36V560.69M141.3 549.08V556.42M152.16 542.97V550.31M163.02 535.64V542.97M173.88 527.09V534.42M184.74 518.53V525.87M195.6 509.98V517.31M206.46 502.65V509.98M217.32 497.76V505.09M228.18 492.87V500.2M239.04 489.82V497.15M249.9 487.98V495.32M260.76 487.37V494.7M271.62 486.76V494.09M282.48 486.15V493.48M293.34 486.15V493.48M304.2 485.54V492.87M315.06 485.54V492.87M325.92 484.93V492.26M336.78 484.32V491.65" stroke="#C3C0FA" stroke-width="0.85" fill="none" opacity="0.6"/>
<path d="M85 560.69H89M85 568.02H89M95.86 559.72H99.86M95.86 567.05H99.86M106.72 558.25H110.72M106.72 565.58H110.72M117.58 556.42H121.58M117.58 563.75H121.58M128.44 553.36H132.44M128.44 560.69H132.44M139.3 549.08H143.3M139.3 556.42H143.3M150.16 542.97H154.16M150.16 550.31H154.16M161.02 535.64H165.02M161.02 542.97H165.02M171.88 527.09H175.88M171.88 534.42H175.88M182.74 518.53H186.74M182.74 525.87H186.74M193.6 509.98H197.6M193.6 517.31H197.6M204.46 502.65H208.46M204.46 509.98H208.46M215.32 497.76H219.32M215.32 505.09H219.32M226.18 492.87H230.18M226.18 500.2H230.18M237.04 489.82H241.04M237.04 497.15H241.04M247.9 487.98H251.9M247.9 495.32H251.9M258.76 487.37H262.76M258.76 494.7H262.76M269.62 486.76H273.62M269.62 494.09H273.62M280.48 486.15H284.48M280.48 493.48H284.48M291.34 486.15H295.34M291.34 493.48H295.34M302.2 485.54H306.2M302.2 492.87H306.2M313.06 485.54H317.06M313.06 492.87H317.06M323.92 484.93H327.92M323.92 492.26H327.92M334.78 484.32H338.78M334.78 491.65H338.78" stroke="#C3C0FA" stroke-width="0.95" fill="none" opacity="0.6"/>
<circle cx="87" cy="564.36" r="2.3" fill="#C3C0FA"/>
<circle cx="97.86" cy="563.38" r="2.3" fill="#C3C0FA"/>
<circle cx="108.72" cy="561.91" r="2.3" fill="#C3C0FA"/>
<circle cx="119.58" cy="560.08" r="2.3" fill="#C3C0FA"/>
<circle cx="130.44" cy="557.03" r="2.3" fill="#C3C0FA"/>
<circle cx="141.3" cy="552.75" r="2.3" fill="#C3C0FA"/>
<circle cx="152.16" cy="546.64" r="2.3" fill="#C3C0FA"/>
<circle cx="163.02" cy="539.31" r="2.3" fill="#C3C0FA"/>
<circle cx="173.88" cy="530.75" r="2.3" fill="#C3C0FA"/>
<circle cx="184.74" cy="522.2" r="2.3" fill="#C3C0FA"/>
<circle cx="195.6" cy="513.65" r="2.3" fill="#C3C0FA"/>
<circle cx="206.46" cy="506.31" r="2.3" fill="#C3C0FA"/>
<circle cx="217.32" cy="501.43" r="2.3" fill="#C3C0FA"/>
<circle cx="228.18" cy="496.54" r="2.3" fill="#C3C0FA"/>
<circle cx="239.04" cy="493.48" r="2.3" fill="#C3C0FA"/>
<circle cx="249.9" cy="491.65" r="2.3" fill="#C3C0FA"/>
<circle cx="260.76" cy="491.04" r="2.3" fill="#C3C0FA"/>
<circle cx="271.62" cy="490.43" r="2.3" fill="#C3C0FA"/>
<circle cx="282.48" cy="489.82" r="2.3" fill="#C3C0FA"/>
<circle cx="293.34" cy="489.82" r="2.3" fill="#C3C0FA"/>
<circle cx="304.2" cy="489.21" r="2.3" fill="#C3C0FA"/>
<circle cx="315.06" cy="489.21" r="2.3" fill="#C3C0FA"/>
<circle cx="325.92" cy="488.59" r="2.3" fill="#C3C0FA"/>
<circle cx="336.78" cy="487.98" r="2.3" fill="#C3C0FA"/>
<polyline points="87,564.36 97.86,563.38 108.72,561.91 119.58,560.08 130.44,557.03 141.3,552.75 152.16,546.64 163.02,539.31 173.88,530.75 184.74,522.2 195.6,513.65 206.46,506.31 217.32,501.43 228.18,497.15 239.04,492.63 249.9,490.31 260.76,489.33 271.62,489.33 282.48,488.84 293.34,488.47 304.2,487.86 315.06,487.37 325.92,486.52 336.78,485.54" fill="none" stroke="#A00010" stroke-width="1.0"/>
<path d="M130.44 555.8V558.25M141.3 550.31V555.19M152.16 542.97V550.31M163.02 535.64V542.97M173.88 527.09V534.42M184.74 517.31V527.09M195.6 508.76V518.53M206.46 501.43V511.2M217.32 496.54V506.31M228.18 492.26V502.04M239.04 487.74V497.52M249.9 485.42V495.19M260.76 484.44V494.22M271.62 484.44V494.22M282.48 483.95V493.73M293.34 483.58V493.36M304.2 482.97V492.75M315.06 482.48V492.26M325.92 481.63V491.41M336.78 480.65V490.43" stroke="#A00010" stroke-width="0.85" fill="none" opacity="0.8"/>
<path d="M128.44 555.8H132.44M128.44 558.25H132.44M139.3 550.31H143.3M139.3 555.19H143.3M150.16 542.97H154.16M150.16 550.31H154.16M161.02 535.64H165.02M161.02 542.97H165.02M171.88 527.09H175.88M171.88 534.42H175.88M182.74 517.31H186.74M182.74 527.09H186.74M193.6 508.76H197.6M193.6 518.53H197.6M204.46 501.43H208.46M204.46 511.2H208.46M215.32 496.54H219.32M215.32 506.31H219.32M226.18 492.26H230.18M226.18 502.04H230.18M237.04 487.74H241.04M237.04 497.52H241.04M247.9 485.42H251.9M247.9 495.19H251.9M258.76 484.44H262.76M258.76 494.22H262.76M269.62 484.44H273.62M269.62 494.22H273.62M280.48 483.95H284.48M280.48 493.73H284.48M291.34 483.58H295.34M291.34 493.36H295.34M302.2 482.97H306.2M302.2 492.75H306.2M313.06 482.48H317.06M313.06 492.26H317.06M323.92 481.63H327.92M323.92 491.41H327.92M334.78 480.65H338.78M334.78 490.43H338.78" stroke="#A00010" stroke-width="0.95" fill="none" opacity="0.8"/>
<path d="M87 561.76L89.6 564.36L87 566.96L84.4 564.36Z" fill="#A00010"/>
<path d="M97.86 560.78L100.46 563.38L97.86 565.98L95.26 563.38Z" fill="#A00010"/>
<path d="M108.72 559.31L111.32 561.91L108.72 564.51L106.12 561.91Z" fill="#A00010"/>
<path d="M119.58 557.48L122.18 560.08L119.58 562.68L116.98 560.08Z" fill="#A00010"/>
<path d="M130.44 554.43L133.04 557.03L130.44 559.63L127.84 557.03Z" fill="#A00010"/>
<path d="M141.3 550.15L143.9 552.75L141.3 555.35L138.7 552.75Z" fill="#A00010"/>
<path d="M152.16 544.04L154.76 546.64L152.16 549.24L149.56 546.64Z" fill="#A00010"/>
<path d="M163.02 536.71L165.62 539.31L163.02 541.91L160.42 539.31Z" fill="#A00010"/>
<path d="M173.88 528.15L176.48 530.75L173.88 533.35L171.28 530.75Z" fill="#A00010"/>
<path d="M184.74 519.6L187.34 522.2L184.74 524.8L182.14 522.2Z" fill="#A00010"/>
<path d="M195.6 511.05L198.2 513.65L195.6 516.25L193 513.65Z" fill="#A00010"/>
<path d="M206.46 503.71L209.06 506.31L206.46 508.91L203.86 506.31Z" fill="#A00010"/>
<path d="M217.32 498.83L219.92 501.43L217.32 504.03L214.72 501.43Z" fill="#A00010"/>
<path d="M228.18 494.55L230.78 497.15L228.18 499.75L225.58 497.15Z" fill="#A00010"/>
<path d="M239.04 490.03L241.64 492.63L239.04 495.23L236.44 492.63Z" fill="#A00010"/>
<path d="M249.9 487.71L252.5 490.31L249.9 492.91L247.3 490.31Z" fill="#A00010"/>
<path d="M260.76 486.73L263.36 489.33L260.76 491.93L258.16 489.33Z" fill="#A00010"/>
<path d="M271.62 486.73L274.22 489.33L271.62 491.93L269.02 489.33Z" fill="#A00010"/>
<path d="M282.48 486.24L285.08 488.84L282.48 491.44L279.88 488.84Z" fill="#A00010"/>
<path d="M293.34 485.87L295.94 488.47L293.34 491.07L290.74 488.47Z" fill="#A00010"/>
<path d="M304.2 485.26L306.8 487.86L304.2 490.46L301.6 487.86Z" fill="#A00010"/>
<path d="M315.06 484.77L317.66 487.37L315.06 489.97L312.46 487.37Z" fill="#A00010"/>
<path d="M325.92 483.92L328.52 486.52L325.92 489.12L323.32 486.52Z" fill="#A00010"/>
<path d="M336.78 482.94L339.38 485.54L336.78 488.14L334.18 485.54Z" fill="#A00010"/>
<polyline points="87,564.48 97.86,563.63 108.72,561.67 119.58,560.82 130.44,557.64 141.3,554.22 152.16,551.41 163.02,545.78 173.88,541.51 184.74,535.89 195.6,530.51 206.46,525.74 217.32,521.1 228.18,518.78 239.04,516.46 249.9,516.46 260.76,516.33 271.62,514.99 282.48,514.01 293.34,514.01 304.2,514.01 315.06,513.16 325.92,513.16 336.78,512.67" fill="none" stroke="#F20000" stroke-width="1.0"/>
<path d="M87 563.87V565.09M97.86 563.01V564.24M108.72 560.45V562.89M119.58 558.98V562.65M130.44 554.58V560.69M141.3 549.33V559.1M152.16 544.07V558.74M163.02 534.79V556.78M173.88 523.54V559.47M184.74 513.52V558.25M195.6 503.63V557.39M206.46 494.46V557.03M217.32 485.66V556.54M228.18 481.75V555.8M239.04 477.11V555.8M249.9 477.11V555.8M260.76 476.86V555.8M271.62 474.18V555.8M282.48 472.22V555.8M293.34 472.22V555.8M304.2 472.22V555.8M315.06 470.51V555.8M325.92 470.51V555.8M336.78 469.53V555.81" stroke="#F03030" stroke-width="0.85" fill="none" opacity="0.75"/>
<path d="M85 563.87H89M85 565.09H89M95.86 563.01H99.86M95.86 564.24H99.86M106.72 560.45H110.72M106.72 562.89H110.72M117.58 558.98H121.58M117.58 562.65H121.58M128.44 554.58H132.44M128.44 560.69H132.44M139.3 549.33H143.3M139.3 559.1H143.3M150.16 544.07H154.16M150.16 558.74H154.16M161.02 534.79H165.02M161.02 556.78H165.02M171.88 523.54H175.88M171.88 559.47H175.88M182.74 513.52H186.74M182.74 558.25H186.74M193.6 503.63H197.6M193.6 557.39H197.6M204.46 494.46H208.46M204.46 557.03H208.46M215.32 485.66H219.32M215.32 556.54H219.32M226.18 481.75H230.18M226.18 555.8H230.18M237.04 477.11H241.04M237.04 555.8H241.04M247.9 477.11H251.9M247.9 555.8H251.9M258.76 476.86H262.76M258.76 555.8H262.76M269.62 474.18H273.62M269.62 555.8H273.62M280.48 472.22H284.48M280.48 555.8H284.48M291.34 472.22H295.34M291.34 555.8H295.34M302.2 472.22H306.2M302.2 555.8H306.2M313.06 470.51H317.06M313.06 555.8H317.06M323.92 470.51H327.92M323.92 555.8H327.92M334.78 469.53H338.78M334.78 555.81H338.78" stroke="#F03030" stroke-width="0.95" fill="none" opacity="1"/>
<rect x="84.8" y="562.28" width="4.4" height="4.4" fill="#F20000"/>
<rect x="95.66" y="561.43" width="4.4" height="4.4" fill="#F20000"/>
<rect x="106.52" y="559.47" width="4.4" height="4.4" fill="#F20000"/>
<rect x="117.38" y="558.62" width="4.4" height="4.4" fill="#F20000"/>
<rect x="128.24" y="555.44" width="4.4" height="4.4" fill="#F20000"/>
<rect x="139.1" y="552.02" width="4.4" height="4.4" fill="#F20000"/>
<rect x="149.96" y="549.21" width="4.4" height="4.4" fill="#F20000"/>
<rect x="160.82" y="543.58" width="4.4" height="4.4" fill="#F20000"/>
<rect x="171.68" y="539.31" width="4.4" height="4.4" fill="#F20000"/>
<rect x="182.54" y="533.69" width="4.4" height="4.4" fill="#F20000"/>
<rect x="193.4" y="528.31" width="4.4" height="4.4" fill="#F20000"/>
<rect x="204.26" y="523.54" width="4.4" height="4.4" fill="#F20000"/>
<rect x="215.12" y="518.9" width="4.4" height="4.4" fill="#F20000"/>
<rect x="225.98" y="516.58" width="4.4" height="4.4" fill="#F20000"/>
<rect x="236.84" y="514.26" width="4.4" height="4.4" fill="#F20000"/>
<rect x="247.7" y="514.26" width="4.4" height="4.4" fill="#F20000"/>
<rect x="258.56" y="514.13" width="4.4" height="4.4" fill="#F20000"/>
<rect x="269.42" y="512.79" width="4.4" height="4.4" fill="#F20000"/>
<rect x="280.28" y="511.81" width="4.4" height="4.4" fill="#F20000"/>
<rect x="291.14" y="511.81" width="4.4" height="4.4" fill="#F20000"/>
<rect x="302" y="511.81" width="4.4" height="4.4" fill="#F20000"/>
<rect x="312.86" y="510.96" width="4.4" height="4.4" fill="#F20000"/>
<rect x="323.72" y="510.96" width="4.4" height="4.4" fill="#F20000"/>
<rect x="334.58" y="510.47" width="4.4" height="4.4" fill="#F20000"/>
<polyline points="87,564.36 97.86,563.38 108.72,561.55 119.58,559.47 130.44,555.8 141.3,551.53 152.16,545.42 163.02,538.09 173.88,529.53 184.74,520.98 195.6,512.42 206.46,505.09 217.32,500.2 228.18,496.54 239.04,492.87 249.9,491.04 260.76,490.43 271.62,489.82 282.48,489.21 293.34,489.21 304.2,488.59 315.06,487.98 325.92,487.37 336.78,486.52" fill="none" stroke="#F4A09C" stroke-width="1.0"/>
<path d="M119.58 558.25V560.69M130.44 553.36V558.25M141.3 547.86V555.19M152.16 540.53V550.31M163.02 531.98V544.2M173.88 522.2V536.86M184.74 512.42V529.53M195.6 502.65V522.2M206.46 495.32V514.87M217.32 492.87V507.54M228.18 490.43V502.65M239.04 486.76V498.98M249.9 484.93V497.15M260.76 484.32V496.54M271.62 483.71V495.93M282.48 483.1V495.32M293.34 483.1V495.32M304.2 482.48V494.7M315.06 481.87V494.09M325.92 481.26V493.48M336.78 480.41V492.63" stroke="#F4A09C" stroke-width="0.85" fill="none" opacity="0.6"/>
<path d="M117.58 558.25H121.58M117.58 560.69H121.58M128.44 553.36H132.44M128.44 558.25H132.44M139.3 547.86H143.3M139.3 555.19H143.3M150.16 540.53H154.16M150.16 550.31H154.16M161.02 531.98H165.02M161.02 544.2H165.02M171.88 522.2H175.88M171.88 536.86H175.88M182.74 512.42H186.74M182.74 529.53H186.74M193.6 502.65H197.6M193.6 522.2H197.6M204.46 495.32H208.46M204.46 514.87H208.46M215.32 492.87H219.32M215.32 507.54H219.32M226.18 490.43H230.18M226.18 502.65H230.18M237.04 486.76H241.04M237.04 498.98H241.04M247.9 484.93H251.9M247.9 497.15H251.9M258.76 484.32H262.76M258.76 496.54H262.76M269.62 483.71H273.62M269.62 495.93H273.62M280.48 483.1H284.48M280.48 495.32H284.48M291.34 483.1H295.34M291.34 495.32H295.34M302.2 482.48H306.2M302.2 494.7H306.2M313.06 481.87H317.06M313.06 494.09H317.06M323.92 481.26H327.92M323.92 493.48H327.92M334.78 480.41H338.78M334.78 492.63H338.78" stroke="#F4A09C" stroke-width="0.95" fill="none" opacity="0.6"/>
<path d="M87 561.36L89.85 566.31L84.15 566.31Z" fill="#F4A09C"/>
<path d="M97.86 560.38L100.71 565.33L95.01 565.33Z" fill="#F4A09C"/>
<path d="M108.72 558.55L111.57 563.5L105.87 563.5Z" fill="#F4A09C"/>
<path d="M119.58 556.47L122.43 561.42L116.73 561.42Z" fill="#F4A09C"/>
<path d="M130.44 552.8L133.29 557.75L127.59 557.75Z" fill="#F4A09C"/>
<path d="M141.3 548.53L144.15 553.48L138.45 553.48Z" fill="#F4A09C"/>
<path d="M152.16 542.42L155.01 547.37L149.31 547.37Z" fill="#F4A09C"/>
<path d="M163.02 535.09L165.87 540.04L160.17 540.04Z" fill="#F4A09C"/>
<path d="M173.88 526.53L176.73 531.48L171.03 531.48Z" fill="#F4A09C"/>
<path d="M184.74 517.98L187.59 522.93L181.89 522.93Z" fill="#F4A09C"/>
<path d="M195.6 509.42L198.45 514.37L192.75 514.37Z" fill="#F4A09C"/>
<path d="M206.46 502.09L209.31 507.04L203.61 507.04Z" fill="#F4A09C"/>
<path d="M217.32 497.2L220.17 502.15L214.47 502.15Z" fill="#F4A09C"/>
<path d="M228.18 493.54L231.03 498.49L225.33 498.49Z" fill="#F4A09C"/>
<path d="M239.04 489.87L241.89 494.82L236.19 494.82Z" fill="#F4A09C"/>
<path d="M249.9 488.04L252.75 492.99L247.05 492.99Z" fill="#F4A09C"/>
<path d="M260.76 487.43L263.61 492.38L257.91 492.38Z" fill="#F4A09C"/>
<path d="M271.62 486.82L274.47 491.77L268.77 491.77Z" fill="#F4A09C"/>
<path d="M282.48 486.21L285.33 491.16L279.63 491.16Z" fill="#F4A09C"/>
<path d="M293.34 486.21L296.19 491.16L290.49 491.16Z" fill="#F4A09C"/>
<path d="M304.2 485.59L307.05 490.54L301.35 490.54Z" fill="#F4A09C"/>
<path d="M315.06 484.98L317.91 489.93L312.21 489.93Z" fill="#F4A09C"/>
<path d="M325.92 484.37L328.77 489.32L323.07 489.32Z" fill="#F4A09C"/>
<path d="M336.78 483.52L339.63 488.47L333.93 488.47Z" fill="#F4A09C"/>
<polyline points="87,564.48 97.86,563.63 108.72,562.28 119.58,561.06 130.44,558 141.3,554.22 152.16,548.6 163.02,541.14 173.88,531.73 184.74,523.67 195.6,515.23 206.46,508.02 217.32,503.63 228.18,500.69 239.04,497.88 249.9,496.9 260.76,496.9 271.62,497.27 282.48,497.27 293.34,497.52 304.2,497.52 315.06,496.9 325.92,496.54 336.78,494.95" fill="none" stroke="#000000" stroke-width="1.0"/>
<circle cx="87" cy="564.48" r="2.3" fill="#000000"/>
<circle cx="97.86" cy="563.63" r="2.3" fill="#000000"/>
<circle cx="108.72" cy="562.28" r="2.3" fill="#000000"/>
<circle cx="119.58" cy="561.06" r="2.3" fill="#000000"/>
<circle cx="130.44" cy="558" r="2.3" fill="#000000"/>
<circle cx="141.3" cy="554.22" r="2.3" fill="#000000"/>
<circle cx="152.16" cy="548.6" r="2.3" fill="#000000"/>
<circle cx="163.02" cy="541.14" r="2.3" fill="#000000"/>
<circle cx="173.88" cy="531.73" r="2.3" fill="#000000"/>
<circle cx="184.74" cy="523.67" r="2.3" fill="#000000"/>
<circle cx="195.6" cy="515.23" r="2.3" fill="#000000"/>
<circle cx="206.46" cy="508.02" r="2.3" fill="#000000"/>
<circle cx="217.32" cy="503.63" r="2.3" fill="#000000"/>
<circle cx="228.18" cy="500.69" r="2.3" fill="#000000"/>
<circle cx="239.04" cy="497.88" r="2.3" fill="#000000"/>
<circle cx="249.9" cy="496.9" r="2.3" fill="#000000"/>
<circle cx="260.76" cy="496.9" r="2.3" fill="#000000"/>
<circle cx="271.62" cy="497.27" r="2.3" fill="#000000"/>
<circle cx="282.48" cy="497.27" r="2.3" fill="#000000"/>
<circle cx="293.34" cy="497.52" r="2.3" fill="#000000"/>
<circle cx="304.2" cy="497.52" r="2.3" fill="#000000"/>
<circle cx="315.06" cy="496.9" r="2.3" fill="#000000"/>
<circle cx="325.92" cy="496.54" r="2.3" fill="#000000"/>
<circle cx="336.78" cy="494.95" r="2.3" fill="#000000"/>
<g stroke="#000" fill="none">
<path d="M86 597.4V776" stroke-width="1.6"/>
<path d="M85.2 773.5H352" stroke-width="1.6"/>
<path d="M83 773.5H86M84 767.63H86M84 761.76H86M84 755.89H86M84 750.02H86M84 744.15H86M84 738.28H86M84 732.41H86M84 726.54H86M84 720.67H86M83 714.8H86M84 708.93H86M84 703.06H86M84 697.19H86M84 691.32H86M84 685.45H86M84 679.58H86M84 673.71H86M84 667.84H86M84 661.97H86M83 656.1H86M84 650.23H86M84 644.36H86M84 638.49H86M84 632.62H86M84 626.75H86M84 620.88H86M84 615.01H86M84 609.14H86M84 603.27H86M83 597.4H86" stroke-width="1.2"/>
<path d="M86 773.5V776.3M96.64 773.5V775.3M107.28 773.5V775.3M117.92 773.5V775.3M128.56 773.5V775.3M139.2 773.5V776.3M149.84 773.5V775.3M160.48 773.5V775.3M171.12 773.5V775.3M181.76 773.5V775.3M192.4 773.5V776.3M203.04 773.5V775.3M213.68 773.5V775.3M224.32 773.5V775.3M234.96 773.5V775.3M245.6 773.5V776.3M256.24 773.5V775.3M266.88 773.5V775.3M277.52 773.5V775.3M288.16 773.5V775.3M298.8 773.5V776.3M309.44 773.5V775.3M320.08 773.5V775.3M330.72 773.5V775.3M341.36 773.5V775.3M352 773.5V776.3" stroke-width="1.2"/>
</g>
<text x="81.5" y="778.4" text-anchor="end" font-size="13.5" font-weight="bold" font-family="Liberation Sans, sans-serif">0</text>
<text x="81.5" y="719.7" text-anchor="end" font-size="13.5" font-weight="bold" font-family="Liberation Sans, sans-serif">50</text>
<text x="81.5" y="661" text-anchor="end" font-size="13.5" font-weight="bold" font-family="Liberation Sans, sans-serif">100</text>
<text x="81.5" y="602.3" text-anchor="end" font-size="13.5" font-weight="bold" font-family="Liberation Sans, sans-serif">150</text>
<text x="86" y="790" text-anchor="middle" font-size="12.8" font-weight="bold" font-family="Liberation Sans, sans-serif">0</text>
<text x="139.2" y="790" text-anchor="middle" font-size="12.8" font-weight="bold" font-family="Liberation Sans, sans-serif">5</text>
<text x="192.4" y="790" text-anchor="middle" font-size="12.8" font-weight="bold" font-family="Liberation Sans, sans-serif">10</text>
<text x="245.6" y="790" text-anchor="middle" font-size="12.8" font-weight="bold" font-family="Liberation Sans, sans-serif">15</text>
<text x="298.8" y="790" text-anchor="middle" font-size="12.8" font-weight="bold" font-family="Liberation Sans, sans-serif">20</text>
<text x="352" y="790" text-anchor="middle" font-size="12.8" font-weight="bold" font-family="Liberation Sans, sans-serif">25</text>
<text x="55" y="681.8" transform="rotate(-90 55 681.8)" text-anchor="middle" font-size="10.7" font-weight="bold" font-family="Liberation Sans, sans-serif">Backscatter aU</text>
<path d="M91 613.2H104" stroke="#000" stroke-width="1"/>
<circle cx="97" cy="613.2" r="2.88" fill="#000000"/>
<text x="109" y="617.4" font-size="14.9" font-family="Liberation Sans, sans-serif" fill="#1a1a1a"><tspan font-style="italic">S. albidoflavus</tspan> M145</text>
<polyline points="86,751.66 96.64,750.49 107.28,748.14 117.92,746.26 128.56,742.51 139.2,738.75 149.84,732.76 160.48,726.54 171.12,721.02 181.76,712.57 192.4,704.12 203.04,697.66 213.68,691.79 224.32,688.97 234.96,684.28 245.6,682.4 256.24,681.46 266.88,681.46 277.52,680.87 288.16,680.87 298.8,680.17 309.44,678.99 320.08,678.76 330.72,677.7" fill="none" stroke="#0000EE" stroke-width="1.0"/>
<path d="M128.56 741.33V743.68M139.2 736.99V740.51M149.84 730.41V735.11M160.48 724.19V728.89M171.12 718.67V723.37M181.76 710.22V714.92M192.4 701.77V706.46M203.04 695.31V700.01M213.68 689.44V694.14M224.32 686.62V691.32M234.96 681.93V686.62M245.6 680.05V684.75M256.24 679.11V683.81M266.88 679.11V683.81M277.52 678.52V683.22M288.16 678.52V683.22M298.8 677.82V682.51M309.44 676.65V681.34M320.08 676.41V681.11M330.72 675.35V680.05" stroke="#0000EE" stroke-width="0.85" fill="none" opacity="1"/>
<path d="M126.56 741.33H130.56M126.56 743.68H130.56M137.2 736.99H141.2M137.2 740.51H141.2M147.84 730.41H151.84M147.84 735.11H151.84M158.48 724.19H162.48M158.48 728.89H162.48M169.12 718.67H173.12M169.12 723.37H173.12M179.76 710.22H183.76M179.76 714.92H183.76M190.4 701.77H194.4M190.4 706.46H194.4M201.04 695.31H205.04M201.04 700.01H205.04M211.68 689.44H215.68M211.68 694.14H215.68M222.32 686.62H226.32M222.32 691.32H226.32M232.96 681.93H236.96M232.96 686.62H236.96M243.6 680.05H247.6M243.6 684.75H247.6M254.24 679.11H258.24M254.24 683.81H258.24M264.88 679.11H268.88M264.88 683.81H268.88M275.52 678.52H279.52M275.52 683.22H279.52M286.16 678.52H290.16M286.16 683.22H290.16M296.8 677.82H300.8M296.8 682.51H300.8M307.44 676.65H311.44M307.44 681.34H311.44M318.08 676.41H322.08M318.08 681.11H322.08M328.72 675.35H332.72M328.72 680.05H332.72" stroke="#0000EE" stroke-width="0.95" fill="none" opacity="1"/>
<path d="M86 754.06L88.28 750.1L83.72 750.1Z" fill="#0000EE"/>
<path d="M96.64 752.89L98.92 748.93L94.36 748.93Z" fill="#0000EE"/>
<path d="M107.28 750.54L109.56 746.58L105 746.58Z" fill="#0000EE"/>
<path d="M117.92 748.66L120.2 744.7L115.64 744.7Z" fill="#0000EE"/>
<path d="M128.56 744.91L130.84 740.95L126.28 740.95Z" fill="#0000EE"/>
<path d="M139.2 741.15L141.48 737.19L136.92 737.19Z" fill="#0000EE"/>
<path d="M149.84 735.16L152.12 731.2L147.56 731.2Z" fill="#0000EE"/>
<path d="M160.48 728.94L162.76 724.98L158.2 724.98Z" fill="#0000EE"/>
<path d="M171.12 723.42L173.4 719.46L168.84 719.46Z" fill="#0000EE"/>
<path d="M181.76 714.97L184.04 711.01L179.48 711.01Z" fill="#0000EE"/>
<path d="M192.4 706.52L194.68 702.56L190.12 702.56Z" fill="#0000EE"/>
<path d="M203.04 700.06L205.32 696.1L200.76 696.1Z" fill="#0000EE"/>
<path d="M213.68 694.19L215.96 690.23L211.4 690.23Z" fill="#0000EE"/>
<path d="M224.32 691.37L226.6 687.41L222.04 687.41Z" fill="#0000EE"/>
<path d="M234.96 686.68L237.24 682.72L232.68 682.72Z" fill="#0000EE"/>
<path d="M245.6 684.8L247.88 680.84L243.32 680.84Z" fill="#0000EE"/>
<path d="M256.24 683.86L258.52 679.9L253.96 679.9Z" fill="#0000EE"/>
<path d="M266.88 683.86L269.16 679.9L264.6 679.9Z" fill="#0000EE"/>
<path d="M277.52 683.27L279.8 679.31L275.24 679.31Z" fill="#0000EE"/>
<path d="M288.16 683.27L290.44 679.31L285.88 679.31Z" fill="#0000EE"/>
<path d="M298.8 682.57L301.08 678.61L296.52 678.61Z" fill="#0000EE"/>
<path d="M309.44 681.39L311.72 677.43L307.16 677.43Z" fill="#0000EE"/>
<path d="M320.08 681.16L322.36 677.2L317.8 677.2Z" fill="#0000EE"/>
<path d="M330.72 680.1L333 676.14L328.44 676.14Z" fill="#0000EE"/>
<polyline points="86,751.66 96.64,750.49 107.28,748.14 117.92,746.26 128.56,742.51 139.2,738.75 149.84,732.76 160.48,726.54 171.12,721.02 181.76,712.57 192.4,704.12 203.04,697.66 213.68,691.79 224.32,688.38 234.96,683.69 245.6,681.93 256.24,680.75 266.88,680.75 277.52,680.17 288.16,680.17 298.8,679.58 309.44,678.41 320.08,678.17 330.72,677.23" fill="none" stroke="#C3C0FA" stroke-width="1.0"/>
<path d="M128.56 740.75V744.27M139.2 736.4V741.1M149.84 729.83V735.7M160.48 723.61V729.47M171.12 718.09V723.96M181.76 709.63V715.5M192.4 701.18V707.05M203.04 694.72V700.59M213.68 688.85V694.72M224.32 685.45V691.32M234.96 680.75V686.62M245.6 678.99V684.86M256.24 677.82V683.69M266.88 677.82V683.69M277.52 677.23V683.1M288.16 677.23V683.1M298.8 676.65V682.51M309.44 675.47V681.34M320.08 675.24V681.11M330.72 674.3V680.17" stroke="#C3C0FA" stroke-width="0.85" fill="none" opacity="0.7"/>
<path d="M126.56 740.75H130.56M126.56 744.27H130.56M137.2 736.4H141.2M137.2 741.1H141.2M147.84 729.83H151.84M147.84 735.7H151.84M158.48 723.61H162.48M158.48 729.47H162.48M169.12 718.09H173.12M169.12 723.96H173.12M179.76 709.63H183.76M179.76 715.5H183.76M190.4 701.18H194.4M190.4 707.05H194.4M201.04 694.72H205.04M201.04 700.59H205.04M211.68 688.85H215.68M211.68 694.72H215.68M222.32 685.45H226.32M222.32 691.32H226.32M232.96 680.75H236.96M232.96 686.62H236.96M243.6 678.99H247.6M243.6 684.86H247.6M254.24 677.82H258.24M254.24 683.69H258.24M264.88 677.82H268.88M264.88 683.69H268.88M275.52 677.23H279.52M275.52 683.1H279.52M286.16 677.23H290.16M286.16 683.1H290.16M296.8 676.65H300.8M296.8 682.51H300.8M307.44 675.47H311.44M307.44 681.34H311.44M318.08 675.24H322.08M318.08 681.11H322.08M328.72 674.3H332.72M328.72 680.17H332.72" stroke="#C3C0FA" stroke-width="0.95" fill="none" opacity="0.7"/>
<circle cx="86" cy="751.66" r="1.84" fill="#C3C0FA"/>
<circle cx="96.64" cy="750.49" r="1.84" fill="#C3C0FA"/>
<circle cx="107.28" cy="748.14" r="1.84" fill="#C3C0FA"/>
<circle cx="117.92" cy="746.26" r="1.84" fill="#C3C0FA"/>
<circle cx="128.56" cy="742.51" r="1.84" fill="#C3C0FA"/>
<circle cx="139.2" cy="738.75" r="1.84" fill="#C3C0FA"/>
<circle cx="149.84" cy="732.76" r="1.84" fill="#C3C0FA"/>
<circle cx="160.48" cy="726.54" r="1.84" fill="#C3C0FA"/>
<circle cx="171.12" cy="721.02" r="1.84" fill="#C3C0FA"/>
<circle cx="181.76" cy="712.57" r="1.84" fill="#C3C0FA"/>
<circle cx="192.4" cy="704.12" r="1.84" fill="#C3C0FA"/>
<circle cx="203.04" cy="697.66" r="1.84" fill="#C3C0FA"/>
<circle cx="213.68" cy="691.79" r="1.84" fill="#C3C0FA"/>
<circle cx="224.32" cy="688.38" r="1.84" fill="#C3C0FA"/>
<circle cx="234.96" cy="683.69" r="1.84" fill="#C3C0FA"/>
<circle cx="245.6" cy="681.93" r="1.84" fill="#C3C0FA"/>
<circle cx="256.24" cy="680.75" r="1.84" fill="#C3C0FA"/>
<circle cx="266.88" cy="680.75" r="1.84" fill="#C3C0FA"/>
<circle cx="277.52" cy="680.17" r="1.84" fill="#C3C0FA"/>
<circle cx="288.16" cy="680.17" r="1.84" fill="#C3C0FA"/>
<circle cx="298.8" cy="679.58" r="1.84" fill="#C3C0FA"/>
<circle cx="309.44" cy="678.41" r="1.84" fill="#C3C0FA"/>
<circle cx="320.08" cy="678.17" r="1.84" fill="#C3C0FA"/>
<circle cx="330.72" cy="677.23" r="1.84" fill="#C3C0FA"/>
<polyline points="86,752.96 96.64,751.19 107.28,749.43 117.92,747.09 128.56,743.56 139.2,739.45 149.84,734.17 160.48,727.71 171.12,721.84 181.76,713.63 192.4,704.82 203.04,698.36 213.68,692.49 224.32,690.15 234.96,686.04 245.6,684.28 256.24,683.1 266.88,683.1 277.52,682.51 288.16,682.51 298.8,681.93 309.44,681.34 320.08,680.75 330.72,679.81" fill="none" stroke="#F4A09C" stroke-width="1.0"/>
<path d="M128.56 742.39V744.74M139.2 737.69V741.21M149.84 731.82V736.52M160.48 725.37V730.06M171.12 719.5V724.19M181.76 711.28V715.97M192.4 702.47V707.17M203.04 696.02V700.71M213.68 690.15V694.84M224.32 687.8V692.49M234.96 683.69V688.38M245.6 681.93V686.62M256.24 680.75V685.45M266.88 680.75V685.45M277.52 680.17V684.86M288.16 680.17V684.86M298.8 679.58V684.28M309.44 678.99V683.69M320.08 678.41V683.1M330.72 677.47V682.16" stroke="#F4A09C" stroke-width="0.85" fill="none" opacity="0.6"/>
<path d="M126.56 742.39H130.56M126.56 744.74H130.56M137.2 737.69H141.2M137.2 741.21H141.2M147.84 731.82H151.84M147.84 736.52H151.84M158.48 725.37H162.48M158.48 730.06H162.48M169.12 719.5H173.12M169.12 724.19H173.12M179.76 711.28H183.76M179.76 715.97H183.76M190.4 702.47H194.4M190.4 707.17H194.4M201.04 696.02H205.04M201.04 700.71H205.04M211.68 690.15H215.68M211.68 694.84H215.68M222.32 687.8H226.32M222.32 692.49H226.32M232.96 683.69H236.96M232.96 688.38H236.96M243.6 681.93H247.6M243.6 686.62H247.6M254.24 680.75H258.24M254.24 685.45H258.24M264.88 680.75H268.88M264.88 685.45H268.88M275.52 680.17H279.52M275.52 684.86H279.52M286.16 680.17H290.16M286.16 684.86H290.16M296.8 679.58H300.8M296.8 684.28H300.8M307.44 678.99H311.44M307.44 683.69H311.44M318.08 678.41H322.08M318.08 683.1H322.08M328.72 677.47H332.72M328.72 682.16H332.72" stroke="#F4A09C" stroke-width="0.95" fill="none" opacity="0.6"/>
<path d="M86 750.41L88.42 754.61L83.58 754.61Z" fill="#F4A09C"/>
<path d="M96.64 748.64L99.06 752.85L94.22 752.85Z" fill="#F4A09C"/>
<path d="M107.28 746.88L109.7 751.09L104.86 751.09Z" fill="#F4A09C"/>
<path d="M117.92 744.54L120.34 748.74L115.5 748.74Z" fill="#F4A09C"/>
<path d="M128.56 741.01L130.98 745.22L126.14 745.22Z" fill="#F4A09C"/>
<path d="M139.2 736.9L141.62 741.11L136.78 741.11Z" fill="#F4A09C"/>
<path d="M149.84 731.62L152.26 735.83L147.42 735.83Z" fill="#F4A09C"/>
<path d="M160.48 725.16L162.9 729.37L158.06 729.37Z" fill="#F4A09C"/>
<path d="M171.12 719.29L173.54 723.5L168.7 723.5Z" fill="#F4A09C"/>
<path d="M181.76 711.08L184.18 715.28L179.34 715.28Z" fill="#F4A09C"/>
<path d="M192.4 702.27L194.82 706.48L189.98 706.48Z" fill="#F4A09C"/>
<path d="M203.04 695.81L205.46 700.02L200.62 700.02Z" fill="#F4A09C"/>
<path d="M213.68 689.94L216.1 694.15L211.26 694.15Z" fill="#F4A09C"/>
<path d="M224.32 687.6L226.74 691.8L221.9 691.8Z" fill="#F4A09C"/>
<path d="M234.96 683.49L237.38 687.69L232.54 687.69Z" fill="#F4A09C"/>
<path d="M245.6 681.73L248.02 685.93L243.18 685.93Z" fill="#F4A09C"/>
<path d="M256.24 680.55L258.66 684.76L253.82 684.76Z" fill="#F4A09C"/>
<path d="M266.88 680.55L269.3 684.76L264.46 684.76Z" fill="#F4A09C"/>
<path d="M277.52 679.97L279.94 684.17L275.1 684.17Z" fill="#F4A09C"/>
<path d="M288.16 679.97L290.58 684.17L285.74 684.17Z" fill="#F4A09C"/>
<path d="M298.8 679.38L301.22 683.59L296.38 683.59Z" fill="#F4A09C"/>
<path d="M309.44 678.79L311.86 683L307.02 683Z" fill="#F4A09C"/>
<path d="M320.08 678.2L322.5 682.41L317.66 682.41Z" fill="#F4A09C"/>
<path d="M330.72 677.26L333.14 681.47L328.3 681.47Z" fill="#F4A09C"/>
<polyline points="86,753.54 96.64,751.78 107.28,750.02 117.92,747.67 128.56,744.15 139.2,740.04 149.84,734.76 160.48,728.3 171.12,722.43 181.76,714.21 192.4,705.41 203.04,698.95 213.68,693.08 224.32,690.15 234.96,685.45 245.6,683.69 256.24,683.1 266.88,683.1 277.52,682.51 288.16,682.51 298.8,681.93 309.44,680.75 320.08,680.17 330.72,679.58" fill="none" stroke="#A00010" stroke-width="1.0"/>
<path d="M86 751.33L88.21 753.54L86 755.75L83.79 753.54Z" fill="#A00010"/>
<path d="M96.64 749.57L98.85 751.78L96.64 753.99L94.43 751.78Z" fill="#A00010"/>
<path d="M107.28 747.81L109.49 750.02L107.28 752.23L105.07 750.02Z" fill="#A00010"/>
<path d="M117.92 745.46L120.13 747.67L117.92 749.88L115.71 747.67Z" fill="#A00010"/>
<path d="M128.56 741.94L130.77 744.15L128.56 746.36L126.35 744.15Z" fill="#A00010"/>
<path d="M139.2 737.83L141.41 740.04L139.2 742.25L136.99 740.04Z" fill="#A00010"/>
<path d="M149.84 732.55L152.05 734.76L149.84 736.97L147.63 734.76Z" fill="#A00010"/>
<path d="M160.48 726.09L162.69 728.3L160.48 730.51L158.27 728.3Z" fill="#A00010"/>
<path d="M171.12 720.22L173.33 722.43L171.12 724.64L168.91 722.43Z" fill="#A00010"/>
<path d="M181.76 712L183.97 714.21L181.76 716.42L179.55 714.21Z" fill="#A00010"/>
<path d="M192.4 703.2L194.61 705.41L192.4 707.62L190.19 705.41Z" fill="#A00010"/>
<path d="M203.04 696.74L205.25 698.95L203.04 701.16L200.83 698.95Z" fill="#A00010"/>
<path d="M213.68 690.87L215.89 693.08L213.68 695.29L211.47 693.08Z" fill="#A00010"/>
<path d="M224.32 687.94L226.53 690.15L224.32 692.36L222.11 690.15Z" fill="#A00010"/>
<path d="M234.96 683.24L237.17 685.45L234.96 687.66L232.75 685.45Z" fill="#A00010"/>
<path d="M245.6 681.48L247.81 683.69L245.6 685.9L243.39 683.69Z" fill="#A00010"/>
<path d="M256.24 680.89L258.45 683.1L256.24 685.31L254.03 683.1Z" fill="#A00010"/>
<path d="M266.88 680.89L269.09 683.1L266.88 685.31L264.67 683.1Z" fill="#A00010"/>
<path d="M277.52 680.3L279.73 682.51L277.52 684.73L275.31 682.51Z" fill="#A00010"/>
<path d="M288.16 680.3L290.37 682.51L288.16 684.73L285.95 682.51Z" fill="#A00010"/>
<path d="M298.8 679.72L301.01 681.93L298.8 684.14L296.59 681.93Z" fill="#A00010"/>
<path d="M309.44 678.54L311.65 680.75L309.44 682.96L307.23 680.75Z" fill="#A00010"/>
<path d="M320.08 677.96L322.29 680.17L320.08 682.38L317.87 680.17Z" fill="#A00010"/>
<path d="M330.72 677.37L332.93 679.58L330.72 681.79L328.51 679.58Z" fill="#A00010"/>
<polyline points="86,753.54 96.64,751.66 107.28,750.72 117.92,748.26 128.56,745.09 139.2,740.75 149.84,735.58 160.48,729.01 171.12,723.37 181.76,714.57 192.4,704 203.04,693.08 213.68,684.28 224.32,677.7 234.96,674.53 245.6,671.24 256.24,669.25 266.88,668.66 277.52,667.84 288.16,667.37 298.8,667.14 309.44,667.96 320.08,667.14 330.72,665.84" fill="none" stroke="#F20000" stroke-width="1.0"/>
<path d="M86 752.96V754.13M96.64 751.08V752.25M107.28 749.55V751.9M117.92 747.09V749.43M128.56 743.33V746.85M139.2 738.4V743.09M149.84 732.64V738.51M160.48 725.48V732.53M171.12 719.85V726.89M181.76 711.04V718.09M192.4 699.89V708.11M203.04 687.21V698.95M213.68 672.65V695.9M224.32 659.39V696.02M234.96 652.46V696.6M245.6 647.41V695.08M256.24 644.01V694.49M266.88 641.66V695.66M277.52 641.19V694.49M288.16 642.25V692.49M298.8 642.48V691.79M309.44 643.07V692.85M320.08 643.54V690.73M330.72 643.54V688.15" stroke="#C83C3C" stroke-width="0.85" fill="none" opacity="0.8"/>
<path d="M84 752.96H88M84 754.13H88M94.64 751.08H98.64M94.64 752.25H98.64M105.28 749.55H109.28M105.28 751.9H109.28M115.92 747.09H119.92M115.92 749.43H119.92M126.56 743.33H130.56M126.56 746.85H130.56M137.2 738.4H141.2M137.2 743.09H141.2M147.84 732.64H151.84M147.84 738.51H151.84M158.48 725.48H162.48M158.48 732.53H162.48M169.12 719.85H173.12M169.12 726.89H173.12M179.76 711.04H183.76M179.76 718.09H183.76M190.4 699.89H194.4M190.4 708.11H194.4M201.04 687.21H205.04M201.04 698.95H205.04M211.68 672.65H215.68M211.68 695.9H215.68M222.32 659.39H226.32M222.32 696.02H226.32M232.96 652.46H236.96M232.96 696.6H236.96M243.6 647.41H247.6M243.6 695.08H247.6M254.24 644.01H258.24M254.24 694.49H258.24M264.88 641.66H268.88M264.88 695.66H268.88M275.52 641.19H279.52M275.52 694.49H279.52M286.16 642.25H290.16M286.16 692.49H290.16M296.8 642.48H300.8M296.8 691.79H300.8M307.44 643.07H311.44M307.44 692.85H311.44M318.08 643.54H322.08M318.08 690.73H322.08M328.72 643.54H332.72M328.72 688.15H332.72" stroke="#C83C3C" stroke-width="0.95" fill="none" opacity="1"/>
<rect x="83.8" y="751.34" width="4.4" height="4.4" fill="#F20000"/>
<rect x="94.44" y="749.46" width="4.4" height="4.4" fill="#F20000"/>
<rect x="105.08" y="748.52" width="4.4" height="4.4" fill="#F20000"/>
<rect x="115.72" y="746.06" width="4.4" height="4.4" fill="#F20000"/>
<rect x="126.36" y="742.89" width="4.4" height="4.4" fill="#F20000"/>
<rect x="137" y="738.55" width="4.4" height="4.4" fill="#F20000"/>
<rect x="147.64" y="733.38" width="4.4" height="4.4" fill="#F20000"/>
<rect x="158.28" y="726.81" width="4.4" height="4.4" fill="#F20000"/>
<rect x="168.92" y="721.17" width="4.4" height="4.4" fill="#F20000"/>
<rect x="179.56" y="712.37" width="4.4" height="4.4" fill="#F20000"/>
<rect x="190.2" y="701.8" width="4.4" height="4.4" fill="#F20000"/>
<rect x="200.84" y="690.88" width="4.4" height="4.4" fill="#F20000"/>
<rect x="211.48" y="682.08" width="4.4" height="4.4" fill="#F20000"/>
<rect x="222.12" y="675.5" width="4.4" height="4.4" fill="#F20000"/>
<rect x="232.76" y="672.33" width="4.4" height="4.4" fill="#F20000"/>
<rect x="243.4" y="669.04" width="4.4" height="4.4" fill="#F20000"/>
<rect x="254.04" y="667.05" width="4.4" height="4.4" fill="#F20000"/>
<rect x="264.68" y="666.46" width="4.4" height="4.4" fill="#F20000"/>
<rect x="275.32" y="665.64" width="4.4" height="4.4" fill="#F20000"/>
<rect x="285.96" y="665.17" width="4.4" height="4.4" fill="#F20000"/>
<rect x="296.6" y="664.94" width="4.4" height="4.4" fill="#F20000"/>
<rect x="307.24" y="665.76" width="4.4" height="4.4" fill="#F20000"/>
<rect x="317.88" y="664.94" width="4.4" height="4.4" fill="#F20000"/>
<rect x="328.52" y="663.64" width="4.4" height="4.4" fill="#F20000"/>
<polyline points="86,752.96 96.64,751.43 107.28,749.43 117.92,747.09 128.56,743.56 139.2,739.45 149.84,734.17 160.48,727.71 171.12,721.84 181.76,713.63 192.4,704.82 203.04,698.36 213.68,692.49 224.32,689.56 234.96,684.86 245.6,682.87 256.24,681.93 266.88,681.93 277.52,681.34 288.16,681.34 298.8,680.75 309.44,679.58 320.08,679.35 330.72,678.41" fill="none" stroke="#000080" stroke-width="1.0"/>
<path d="M86 750.92L86.54 752.21L87.94 752.32L86.87 753.24L87.2 754.61L86 753.87L84.8 754.61L85.13 753.24L84.06 752.32L85.46 752.21Z" fill="#000080"/>
<path d="M96.64 749.39L97.18 750.69L98.58 750.8L97.51 751.71L97.84 753.08L96.64 752.35L95.44 753.08L95.77 751.71L94.7 750.8L96.1 750.69Z" fill="#000080"/>
<path d="M107.28 747.39L107.82 748.69L109.22 748.8L108.15 749.72L108.48 751.08L107.28 750.35L106.08 751.08L106.41 749.72L105.34 748.8L106.74 748.69Z" fill="#000080"/>
<path d="M117.92 745.05L118.46 746.34L119.86 746.45L118.79 747.37L119.12 748.74L117.92 748L116.72 748.74L117.05 747.37L115.98 746.45L117.38 746.34Z" fill="#000080"/>
<path d="M128.56 741.52L129.1 742.82L130.5 742.93L129.43 743.85L129.76 745.21L128.56 744.48L127.36 745.21L127.69 743.85L126.62 742.93L128.02 742.82Z" fill="#000080"/>
<path d="M139.2 737.41L139.74 738.71L141.14 738.82L140.07 739.74L140.4 741.1L139.2 740.37L138 741.1L138.33 739.74L137.26 738.82L138.66 738.71Z" fill="#000080"/>
<path d="M149.84 732.13L150.38 733.43L151.78 733.54L150.71 734.45L151.04 735.82L149.84 735.09L148.64 735.82L148.97 734.45L147.9 733.54L149.3 733.43Z" fill="#000080"/>
<path d="M160.48 725.67L161.02 726.97L162.42 727.08L161.35 728L161.68 729.36L160.48 728.63L159.28 729.36L159.61 728L158.54 727.08L159.94 726.97Z" fill="#000080"/>
<path d="M171.12 719.8L171.66 721.1L173.06 721.21L171.99 722.13L172.32 723.49L171.12 722.76L169.92 723.49L170.25 722.13L169.18 721.21L170.58 721.1Z" fill="#000080"/>
<path d="M181.76 711.59L182.3 712.88L183.7 713L182.63 713.91L182.96 715.28L181.76 714.54L180.56 715.28L180.89 713.91L179.82 713L181.22 712.88Z" fill="#000080"/>
<path d="M192.4 702.78L192.94 704.08L194.34 704.19L193.27 705.1L193.6 706.47L192.4 705.74L191.2 706.47L191.53 705.1L190.46 704.19L191.86 704.08Z" fill="#000080"/>
<path d="M203.04 696.32L203.58 697.62L204.98 697.73L203.91 698.65L204.24 700.01L203.04 699.28L201.84 700.01L202.17 698.65L201.1 697.73L202.5 697.62Z" fill="#000080"/>
<path d="M213.68 690.45L214.22 691.75L215.62 691.86L214.55 692.78L214.88 694.14L213.68 693.41L212.48 694.14L212.81 692.78L211.74 691.86L213.14 691.75Z" fill="#000080"/>
<path d="M224.32 687.52L224.86 688.82L226.26 688.93L225.19 689.84L225.52 691.21L224.32 690.48L223.12 691.21L223.45 689.84L222.38 688.93L223.78 688.82Z" fill="#000080"/>
<path d="M234.96 682.82L235.5 684.12L236.9 684.23L235.83 685.15L236.16 686.51L234.96 685.78L233.76 686.51L234.09 685.15L233.02 684.23L234.42 684.12Z" fill="#000080"/>
<path d="M245.6 680.83L246.14 682.12L247.54 682.24L246.47 683.15L246.8 684.52L245.6 683.79L244.4 684.52L244.73 683.15L243.66 682.24L245.06 682.12Z" fill="#000080"/>
<path d="M256.24 679.89L256.78 681.19L258.18 681.3L257.11 682.21L257.44 683.58L256.24 682.85L255.04 683.58L255.37 682.21L254.3 681.3L255.7 681.19Z" fill="#000080"/>
<path d="M266.88 679.89L267.42 681.19L268.82 681.3L267.75 682.21L268.08 683.58L266.88 682.85L265.68 683.58L266.01 682.21L264.94 681.3L266.34 681.19Z" fill="#000080"/>
<path d="M277.52 679.3L278.06 680.6L279.46 680.71L278.39 681.62L278.72 682.99L277.52 682.26L276.32 682.99L276.65 681.62L275.58 680.71L276.98 680.6Z" fill="#000080"/>
<path d="M288.16 679.3L288.7 680.6L290.1 680.71L289.03 681.62L289.36 682.99L288.16 682.26L286.96 682.99L287.29 681.62L286.22 680.71L287.62 680.6Z" fill="#000080"/>
<path d="M298.8 678.71L299.34 680.01L300.74 680.12L299.67 681.04L300 682.4L298.8 681.67L297.6 682.4L297.93 681.04L296.86 680.12L298.26 680.01Z" fill="#000080"/>
<path d="M309.44 677.54L309.98 678.84L311.38 678.95L310.31 679.86L310.64 681.23L309.44 680.5L308.24 681.23L308.57 679.86L307.5 678.95L308.9 678.84Z" fill="#000080"/>
<path d="M320.08 677.31L320.62 678.6L322.02 678.71L320.95 679.63L321.28 681L320.08 680.26L318.88 681L319.21 679.63L318.14 678.71L319.54 678.6Z" fill="#000080"/>
<path d="M330.72 676.37L331.26 677.66L332.66 677.78L331.59 678.69L331.92 680.06L330.72 679.32L329.52 680.06L329.85 678.69L328.78 677.78L330.18 677.66Z" fill="#000080"/>
<polyline points="86,755.77 96.64,755.19 107.28,753.89 117.92,752.37 128.56,749.55 139.2,744.85 149.84,740.28 160.48,733.23 171.12,724.31 181.76,716.09 192.4,708.58 203.04,701.06 213.68,696.96 224.32,694.61 234.96,691.79 245.6,690.5 256.24,690.5 266.88,690.85 277.52,690.85 288.16,691.2 298.8,691.2 309.44,690.26 320.08,689.91 330.72,688.97" fill="none" stroke="#000000" stroke-width="1.0"/>
<circle cx="86" cy="755.77" r="2.3" fill="#000000"/>
<circle cx="96.64" cy="755.19" r="2.3" fill="#000000"/>
<circle cx="107.28" cy="753.89" r="2.3" fill="#000000"/>
<circle cx="117.92" cy="752.37" r="2.3" fill="#000000"/>
<circle cx="128.56" cy="749.55" r="2.3" fill="#000000"/>
<circle cx="139.2" cy="744.85" r="2.3" fill="#000000"/>
<circle cx="149.84" cy="740.28" r="2.3" fill="#000000"/>
<circle cx="160.48" cy="733.23" r="2.3" fill="#000000"/>
<circle cx="171.12" cy="724.31" r="2.3" fill="#000000"/>
<circle cx="181.76" cy="716.09" r="2.3" fill="#000000"/>
<circle cx="192.4" cy="708.58" r="2.3" fill="#000000"/>
<circle cx="203.04" cy="701.06" r="2.3" fill="#000000"/>
<circle cx="213.68" cy="696.96" r="2.3" fill="#000000"/>
<circle cx="224.32" cy="694.61" r="2.3" fill="#000000"/>
<circle cx="234.96" cy="691.79" r="2.3" fill="#000000"/>
<circle cx="245.6" cy="690.5" r="2.3" fill="#000000"/>
<circle cx="256.24" cy="690.5" r="2.3" fill="#000000"/>
<circle cx="266.88" cy="690.85" r="2.3" fill="#000000"/>
<circle cx="277.52" cy="690.85" r="2.3" fill="#000000"/>
<circle cx="288.16" cy="691.2" r="2.3" fill="#000000"/>
<circle cx="298.8" cy="691.2" r="2.3" fill="#000000"/>
<circle cx="309.44" cy="690.26" r="2.3" fill="#000000"/>
<circle cx="320.08" cy="689.91" r="2.3" fill="#000000"/>
<circle cx="330.72" cy="688.97" r="2.3" fill="#000000"/>
<path d="M373.3 188.5H697.4" stroke="#000" stroke-width="1.6"/>
<path d="M379.2 188.5V191.1M387.3 188.5V191.1M395.4 188.5V191.1M403.5 188.5V191.1M411.6 188.5V191.1M419.7 188.5V191.1M433.7 188.5V191.1M441.8 188.5V191.1M449.9 188.5V191.1M458 188.5V191.1M466.1 188.5V191.1M474.2 188.5V191.1M488.2 188.5V191.1M496.3 188.5V191.1M504.4 188.5V191.1M512.5 188.5V191.1M520.6 188.5V191.1M528.7 188.5V191.1M542.7 188.5V191.1M550.8 188.5V191.1M558.9 188.5V191.1M567 188.5V191.1M575.1 188.5V191.1M583.2 188.5V191.1M597.2 188.5V191.1M605.3 188.5V191.1M613.4 188.5V191.1M621.5 188.5V191.1M629.6 188.5V191.1M637.7 188.5V191.1M651.7 188.5V191.1M659.8 188.5V191.1M667.9 188.5V191.1M676 188.5V191.1M684.1 188.5V191.1M692.2 188.5V191.1" stroke="#000" stroke-width="1.2"/>
<text x="379.2" y="199.9" text-anchor="middle" font-size="8.3" font-weight="bold" font-family="Liberation Sans, sans-serif">0</text>
<text x="387.3" y="199.9" text-anchor="middle" font-size="8.3" font-weight="bold" font-family="Liberation Sans, sans-serif">2</text>
<text x="395.4" y="199.9" text-anchor="middle" font-size="8.3" font-weight="bold" font-family="Liberation Sans, sans-serif">4</text>
<text x="403.5" y="199.9" text-anchor="middle" font-size="8.3" font-weight="bold" font-family="Liberation Sans, sans-serif">6</text>
<text x="411.6" y="199.9" text-anchor="middle" font-size="8.3" font-weight="bold" font-family="Liberation Sans, sans-serif">8</text>
<text x="419.7" y="199.9" text-anchor="middle" font-size="8.3" font-weight="bold" font-family="Liberation Sans, sans-serif">24</text>
<text x="433.7" y="199.9" text-anchor="middle" font-size="8.3" font-weight="bold" font-family="Liberation Sans, sans-serif">0</text>
<text x="441.8" y="199.9" text-anchor="middle" font-size="8.3" font-weight="bold" font-family="Liberation Sans, sans-serif">2</text>
<text x="449.9" y="199.9" text-anchor="middle" font-size="8.3" font-weight="bold" font-family="Liberation Sans, sans-serif">4</text>
<text x="458" y="199.9" text-anchor="middle" font-size="8.3" font-weight="bold" font-family="Liberation Sans, sans-serif">6</text>
<text x="466.1" y="199.9" text-anchor="middle" font-size="8.3" font-weight="bold" font-family="Liberation Sans, sans-serif">8</text>
<text x="474.2" y="199.9" text-anchor="middle" font-size="8.3" font-weight="bold" font-family="Liberation Sans, sans-serif">24</text>
<text x="488.2" y="199.9" text-anchor="middle" font-size="8.3" font-weight="bold" font-family="Liberation Sans, sans-serif">0</text>
<text x="496.3" y="199.9" text-anchor="middle" font-size="8.3" font-weight="bold" font-family="Liberation Sans, sans-serif">2</text>
<text x="504.4" y="199.9" text-anchor="middle" font-size="8.3" font-weight="bold" font-family="Liberation Sans, sans-serif">4</text>
<text x="512.5" y="199.9" text-anchor="middle" font-size="8.3" font-weight="bold" font-family="Liberation Sans, sans-serif">6</text>
<text x="520.6" y="199.9" text-anchor="middle" font-size="8.3" font-weight="bold" font-family="Liberation Sans, sans-serif">8</text>
<text x="528.7" y="199.9" text-anchor="middle" font-size="8.3" font-weight="bold" font-family="Liberation Sans, sans-serif">24</text>
<text x="542.7" y="199.9" text-anchor="middle" font-size="8.3" font-weight="bold" font-family="Liberation Sans, sans-serif">0</text>
<text x="550.8" y="199.9" text-anchor="middle" font-size="8.3" font-weight="bold" font-family="Liberation Sans, sans-serif">2</text>
<text x="558.9" y="199.9" text-anchor="middle" font-size="8.3" font-weight="bold" font-family="Liberation Sans, sans-serif">4</text>
<text x="567" y="199.9" text-anchor="middle" font-size="8.3" font-weight="bold" font-family="Liberation Sans, sans-serif">6</text>
<text x="575.1" y="199.9" text-anchor="middle" font-size="8.3" font-weight="bold" font-family="Liberation Sans, sans-serif">8</text>
<text x="583.2" y="199.9" text-anchor="middle" font-size="8.3" font-weight="bold" font-family="Liberation Sans, sans-serif">24</text>
<text x="597.2" y="199.9" text-anchor="middle" font-size="8.3" font-weight="bold" font-family="Liberation Sans, sans-serif">0</text>
<text x="605.3" y="199.9" text-anchor="middle" font-size="8.3" font-weight="bold" font-family="Liberation Sans, sans-serif">2</text>
<text x="613.4" y="199.9" text-anchor="middle" font-size="8.3" font-weight="bold" font-family="Liberation Sans, sans-serif">4</text>
<text x="621.5" y="199.9" text-anchor="middle" font-size="8.3" font-weight="bold" font-family="Liberation Sans, sans-serif">6</text>
<text x="629.6" y="199.9" text-anchor="middle" font-size="8.3" font-weight="bold" font-family="Liberation Sans, sans-serif">8</text>
<text x="637.7" y="199.9" text-anchor="middle" font-size="8.3" font-weight="bold" font-family="Liberation Sans, sans-serif">24</text>
<text x="651.7" y="199.9" text-anchor="middle" font-size="8.3" font-weight="bold" font-family="Liberation Sans, sans-serif">0</text>
<text x="659.8" y="199.9" text-anchor="middle" font-size="8.3" font-weight="bold" font-family="Liberation Sans, sans-serif">2</text>
<text x="667.9" y="199.9" text-anchor="middle" font-size="8.3" font-weight="bold" font-family="Liberation Sans, sans-serif">4</text>
<text x="676" y="199.9" text-anchor="middle" font-size="8.3" font-weight="bold" font-family="Liberation Sans, sans-serif">6</text>
<text x="684.1" y="199.9" text-anchor="middle" font-size="8.3" font-weight="bold" font-family="Liberation Sans, sans-serif">8</text>
<text x="692.2" y="199.9" text-anchor="middle" font-size="8.3" font-weight="bold" font-family="Liberation Sans, sans-serif">24</text>
<path d="M697.4 12.3V189.3" stroke="#000" stroke-width="1.6"/>
<path d="M697.4 188.5H700.2M697.4 183.2H699.2M697.4 180.09H699.2M697.4 177.89H699.2M697.4 176.18H699.2M697.4 174.79H699.2M697.4 173.61H699.2M697.4 172.59H699.2M697.4 171.69H699.2M697.4 170.88H700.2M697.4 165.58H699.2M697.4 162.47H699.2M697.4 160.27H699.2M697.4 158.56H699.2M697.4 157.17H699.2M697.4 155.99H699.2M697.4 154.97H699.2M697.4 154.07H699.2M697.4 153.26H700.2M697.4 147.96H699.2M697.4 144.85H699.2M697.4 142.65H699.2M697.4 140.94H699.2M697.4 139.55H699.2M697.4 138.37H699.2M697.4 137.35H699.2M697.4 136.45H699.2M697.4 135.64H700.2M697.4 130.34H699.2M697.4 127.23H699.2M697.4 125.03H699.2M697.4 123.32H699.2M697.4 121.93H699.2M697.4 120.75H699.2M697.4 119.73H699.2M697.4 118.83H699.2M697.4 118.02H700.2M697.4 112.72H699.2M697.4 109.61H699.2M697.4 107.41H699.2M697.4 105.7H699.2M697.4 104.31H699.2M697.4 103.13H699.2M697.4 102.11H699.2M697.4 101.21H699.2M697.4 100.4H700.2M697.4 95.1H699.2M697.4 91.99H699.2M697.4 89.79H699.2M697.4 88.08H699.2M697.4 86.69H699.2M697.4 85.51H699.2M697.4 84.49H699.2M697.4 83.59H699.2M697.4 82.78H700.2M697.4 77.48H699.2M697.4 74.37H699.2M697.4 72.17H699.2M697.4 70.46H699.2M697.4 69.07H699.2M697.4 67.89H699.2M697.4 66.87H699.2M697.4 65.97H699.2M697.4 65.16H700.2M697.4 59.86H699.2M697.4 56.75H699.2M697.4 54.55H699.2M697.4 52.84H699.2M697.4 51.45H699.2M697.4 50.27H699.2M697.4 49.25H699.2M697.4 48.35H699.2M697.4 47.54H700.2M697.4 42.24H699.2M697.4 39.13H699.2M697.4 36.93H699.2M697.4 35.22H699.2M697.4 33.83H699.2M697.4 32.65H699.2M697.4 31.63H699.2M697.4 30.73H699.2M697.4 29.92H700.2M697.4 24.62H699.2M697.4 21.51H699.2M697.4 19.31H699.2M697.4 17.6H699.2M697.4 16.21H699.2M697.4 15.03H699.2M697.4 14.01H699.2M697.4 13.11H699.2M697.4 12.3H700.2" stroke="#000" stroke-width="1"/>
<text x="702.6" y="193.5" font-size="13.6" font-weight="bold" font-family="Liberation Sans, sans-serif">10</text>
<text x="718.1" y="189.2" font-size="9" font-weight="bold" font-family="Liberation Sans, sans-serif">0</text>
<text x="702.6" y="175.88" font-size="13.6" font-weight="bold" font-family="Liberation Sans, sans-serif">10</text>
<text x="718.1" y="171.58" font-size="9" font-weight="bold" font-family="Liberation Sans, sans-serif">1</text>
<text x="702.6" y="158.26" font-size="13.6" font-weight="bold" font-family="Liberation Sans, sans-serif">10</text>
<text x="718.1" y="153.96" font-size="9" font-weight="bold" font-family="Liberation Sans, sans-serif">2</text>
<text x="702.6" y="140.64" font-size="13.6" font-weight="bold" font-family="Liberation Sans, sans-serif">10</text>
<text x="718.1" y="136.34" font-size="9" font-weight="bold" font-family="Liberation Sans, sans-serif">3</text>
<text x="702.6" y="123.02" font-size="13.6" font-weight="bold" font-family="Liberation Sans, sans-serif">10</text>
<text x="718.1" y="118.72" font-size="9" font-weight="bold" font-family="Liberation Sans, sans-serif">4</text>
<text x="702.6" y="105.4" font-size="13.6" font-weight="bold" font-family="Liberation Sans, sans-serif">10</text>
<text x="718.1" y="101.1" font-size="9" font-weight="bold" font-family="Liberation Sans, sans-serif">5</text>
<text x="702.6" y="87.78" font-size="13.6" font-weight="bold" font-family="Liberation Sans, sans-serif">10</text>
<text x="718.1" y="83.48" font-size="9" font-weight="bold" font-family="Liberation Sans, sans-serif">6</text>
<text x="702.6" y="70.16" font-size="13.6" font-weight="bold" font-family="Liberation Sans, sans-serif">10</text>
<text x="718.1" y="65.86" font-size="9" font-weight="bold" font-family="Liberation Sans, sans-serif">7</text>
<text x="702.6" y="52.54" font-size="13.6" font-weight="bold" font-family="Liberation Sans, sans-serif">10</text>
<text x="718.1" y="48.24" font-size="9" font-weight="bold" font-family="Liberation Sans, sans-serif">8</text>
<text x="702.6" y="34.92" font-size="13.6" font-weight="bold" font-family="Liberation Sans, sans-serif">10</text>
<text x="718.1" y="30.62" font-size="9" font-weight="bold" font-family="Liberation Sans, sans-serif">9</text>
<text x="702.6" y="17.3" font-size="13.6" font-weight="bold" font-family="Liberation Sans, sans-serif">10</text>
<text x="718.1" y="13" font-size="9" font-weight="bold" font-family="Liberation Sans, sans-serif">10</text>
<text x="747.6" y="96.2" transform="rotate(-90 747.6 96.2)" text-anchor="middle" font-size="14.4" font-weight="bold" font-family="Liberation Sans, sans-serif">PFU/ml</text>
<rect x="384.5" y="123.7" width="5.6" height="64.8" fill="#F4A09C"/>
<path d="M387.3 123.7V115.6M385.5 115.6H389.1" stroke="#F4A09C" stroke-width="1.1" fill="none"/>
<rect x="392.6" y="52.8" width="5.6" height="135.7" fill="#F4A09C"/>
<path d="M395.4 52.8V47M393.6 47H397.2" stroke="#F4A09C" stroke-width="1.1" fill="none"/>
<rect x="400.7" y="32.5" width="5.6" height="156" fill="#F4A09C"/>
<path d="M403.5 32.5V26.7M401.7 26.7H405.3" stroke="#F4A09C" stroke-width="1.1" fill="none"/>
<rect x="408.8" y="28.7" width="5.6" height="159.8" fill="#F4A09C"/>
<path d="M411.6 28.7V24.1M409.8 24.1H413.4" stroke="#F4A09C" stroke-width="1.1" fill="none"/>
<rect x="416.9" y="19.8" width="5.6" height="168.7" fill="#F4A09C"/>
<path d="M419.7 19.8V12.7M417.9 12.7H421.5" stroke="#F4A09C" stroke-width="1.1" fill="none"/>
<rect x="447.1" y="61.7" width="5.6" height="126.8" fill="#F20000"/>
<rect x="455.2" y="61.7" width="5.6" height="126.8" fill="#F20000"/>
<rect x="463.3" y="61.7" width="5.6" height="126.8" fill="#F20000"/>
<rect x="471.4" y="70.6" width="5.6" height="117.9" fill="#F20000"/>
<rect x="493.5" y="88.9" width="5.6" height="99.6" fill="#A00010"/>
<path d="M496.3 88.9V86.9M494.5 86.9H498.1" stroke="#A00010" stroke-width="1.1" fill="none"/>
<rect x="501.6" y="68.6" width="5.6" height="119.9" fill="#A00010"/>
<path d="M504.4 68.6V65.3M502.6 65.3H506.2" stroke="#A00010" stroke-width="1.1" fill="none"/>
<rect x="509.7" y="66.5" width="5.6" height="122" fill="#A00010"/>
<path d="M512.5 66.5V64M510.7 64H514.3" stroke="#A00010" stroke-width="1.1" fill="none"/>
<rect x="517.8" y="64" width="5.6" height="124.5" fill="#A00010"/>
<path d="M520.6 64V61M518.8 61H522.4" stroke="#A00010" stroke-width="1.1" fill="none"/>
<rect x="525.9" y="64" width="5.6" height="124.5" fill="#A00010"/>
<path d="M528.7 64V58.4M526.9 58.4H530.5" stroke="#A00010" stroke-width="1.1" fill="none"/>
<rect x="539.9" y="120" width="5.6" height="68.5" fill="#C3C0FA"/>
<path d="M542.7 120V113.5M540.9 113.5H544.5" stroke="#C3C0FA" stroke-width="1.1" fill="none"/>
<rect x="548" y="82" width="5.6" height="106.5" fill="#C3C0FA"/>
<path d="M550.8 82V76.5M549 76.5H552.6" stroke="#C3C0FA" stroke-width="1.1" fill="none"/>
<rect x="556.1" y="67" width="5.6" height="121.5" fill="#C3C0FA"/>
<path d="M558.9 67V62.2M557.1 62.2H560.7" stroke="#C3C0FA" stroke-width="1.1" fill="none"/>
<rect x="564.2" y="67" width="5.6" height="121.5" fill="#C3C0FA"/>
<path d="M567 67V62.2M565.2 62.2H568.8" stroke="#C3C0FA" stroke-width="1.1" fill="none"/>
<rect x="572.3" y="70" width="5.6" height="118.5" fill="#C3C0FA"/>
<path d="M575.1 70V65.3M573.3 65.3H576.9" stroke="#C3C0FA" stroke-width="1.1" fill="none"/>
<rect x="580.4" y="70" width="5.6" height="118.5" fill="#C3C0FA"/>
<path d="M583.2 70V65.3M581.4 65.3H585" stroke="#C3C0FA" stroke-width="1.1" fill="none"/>
<rect x="594.4" y="96.2" width="5.6" height="92.3" fill="#0000EE"/>
<path d="M597.2 96.2V90.3M595.4 90.3H599" stroke="#0000A0" stroke-width="1.1" fill="none"/>
<rect x="602.5" y="82.4" width="5.6" height="106.1" fill="#0000EE"/>
<path d="M605.3 82.4V76.5M603.5 76.5H607.1" stroke="#0000A0" stroke-width="1.1" fill="none"/>
<rect x="610.6" y="77.7" width="5.6" height="110.8" fill="#0000EE"/>
<path d="M613.4 77.7V72.4M611.6 72.4H615.2" stroke="#0000A0" stroke-width="1.1" fill="none"/>
<rect x="618.7" y="47.5" width="5.6" height="141" fill="#0000EE"/>
<path d="M621.5 47.5V41.6M619.7 41.6H623.3" stroke="#0000A0" stroke-width="1.1" fill="none"/>
<rect x="626.8" y="43.2" width="5.6" height="145.3" fill="#0000EE"/>
<path d="M629.6 43.2V37.5M627.8 37.5H631.4" stroke="#0000A0" stroke-width="1.1" fill="none"/>
<rect x="634.9" y="31.4" width="5.6" height="157.1" fill="#0000EE"/>
<path d="M637.7 31.4V26.6M635.9 26.6H639.5" stroke="#0000A0" stroke-width="1.1" fill="none"/>
<rect x="648.9" y="86.2" width="5.6" height="102.3" fill="#000080"/>
<path d="M651.7 86.2V83.5M649.9 83.5H653.5" stroke="#000080" stroke-width="1.1" fill="none"/>
<rect x="657" y="70.3" width="5.6" height="118.2" fill="#000080"/>
<path d="M659.8 70.3V65.7M658 65.7H661.6" stroke="#000080" stroke-width="1.1" fill="none"/>
<rect x="665.1" y="72.2" width="5.6" height="116.3" fill="#000080"/>
<path d="M667.9 72.2V69.6M666.1 69.6H669.7" stroke="#000080" stroke-width="1.1" fill="none"/>
<rect x="673.2" y="72.2" width="5.6" height="116.3" fill="#000080"/>
<path d="M676 72.2V69.6M674.2 69.6H677.8" stroke="#000080" stroke-width="1.1" fill="none"/>
<rect x="681.3" y="73.2" width="5.6" height="115.3" fill="#000080"/>
<path d="M684.1 73.2V70.7M682.3 70.7H685.9" stroke="#000080" stroke-width="1.1" fill="none"/>
<rect x="689.4" y="78" width="5.6" height="110.5" fill="#000080"/>
<path d="M692.2 78V73.6M690.4 73.6H694" stroke="#000080" stroke-width="1.1" fill="none"/>
<path d="M373.3 384.7H696" stroke="#000" stroke-width="1.6"/>
<path d="M378.9 384.7V387.3M386.96 384.7V387.3M395.02 384.7V387.3M403.08 384.7V387.3M411.13 384.7V387.3M419.19 384.7V387.3M433.12 384.7V387.3M441.18 384.7V387.3M449.24 384.7V387.3M457.3 384.7V387.3M465.36 384.7V387.3M473.42 384.7V387.3M487.34 384.7V387.3M495.4 384.7V387.3M503.46 384.7V387.3M511.52 384.7V387.3M519.58 384.7V387.3M527.64 384.7V387.3M541.57 384.7V387.3M549.62 384.7V387.3M557.68 384.7V387.3M565.74 384.7V387.3M573.8 384.7V387.3M581.86 384.7V387.3M595.79 384.7V387.3M603.85 384.7V387.3M611.91 384.7V387.3M619.96 384.7V387.3M628.02 384.7V387.3M636.08 384.7V387.3M650.01 384.7V387.3M658.07 384.7V387.3M666.13 384.7V387.3M674.19 384.7V387.3M682.25 384.7V387.3M690.3 384.7V387.3" stroke="#000" stroke-width="1.2"/>
<text x="378.9" y="396.1" text-anchor="middle" font-size="8.3" font-weight="bold" font-family="Liberation Sans, sans-serif">0</text>
<text x="386.96" y="396.1" text-anchor="middle" font-size="8.3" font-weight="bold" font-family="Liberation Sans, sans-serif">2</text>
<text x="395.02" y="396.1" text-anchor="middle" font-size="8.3" font-weight="bold" font-family="Liberation Sans, sans-serif">4</text>
<text x="403.08" y="396.1" text-anchor="middle" font-size="8.3" font-weight="bold" font-family="Liberation Sans, sans-serif">6</text>
<text x="411.13" y="396.1" text-anchor="middle" font-size="8.3" font-weight="bold" font-family="Liberation Sans, sans-serif">8</text>
<text x="419.19" y="396.1" text-anchor="middle" font-size="8.3" font-weight="bold" font-family="Liberation Sans, sans-serif">24</text>
<text x="433.12" y="396.1" text-anchor="middle" font-size="8.3" font-weight="bold" font-family="Liberation Sans, sans-serif">0</text>
<text x="441.18" y="396.1" text-anchor="middle" font-size="8.3" font-weight="bold" font-family="Liberation Sans, sans-serif">2</text>
<text x="449.24" y="396.1" text-anchor="middle" font-size="8.3" font-weight="bold" font-family="Liberation Sans, sans-serif">4</text>
<text x="457.3" y="396.1" text-anchor="middle" font-size="8.3" font-weight="bold" font-family="Liberation Sans, sans-serif">6</text>
<text x="465.36" y="396.1" text-anchor="middle" font-size="8.3" font-weight="bold" font-family="Liberation Sans, sans-serif">8</text>
<text x="473.42" y="396.1" text-anchor="middle" font-size="8.3" font-weight="bold" font-family="Liberation Sans, sans-serif">24</text>
<text x="487.34" y="396.1" text-anchor="middle" font-size="8.3" font-weight="bold" font-family="Liberation Sans, sans-serif">0</text>
<text x="495.4" y="396.1" text-anchor="middle" font-size="8.3" font-weight="bold" font-family="Liberation Sans, sans-serif">2</text>
<text x="503.46" y="396.1" text-anchor="middle" font-size="8.3" font-weight="bold" font-family="Liberation Sans, sans-serif">4</text>
<text x="511.52" y="396.1" text-anchor="middle" font-size="8.3" font-weight="bold" font-family="Liberation Sans, sans-serif">6</text>
<text x="519.58" y="396.1" text-anchor="middle" font-size="8.3" font-weight="bold" font-family="Liberation Sans, sans-serif">8</text>
<text x="527.64" y="396.1" text-anchor="middle" font-size="8.3" font-weight="bold" font-family="Liberation Sans, sans-serif">24</text>
<text x="541.57" y="396.1" text-anchor="middle" font-size="8.3" font-weight="bold" font-family="Liberation Sans, sans-serif">0</text>
<text x="549.62" y="396.1" text-anchor="middle" font-size="8.3" font-weight="bold" font-family="Liberation Sans, sans-serif">2</text>
<text x="557.68" y="396.1" text-anchor="middle" font-size="8.3" font-weight="bold" font-family="Liberation Sans, sans-serif">4</text>
<text x="565.74" y="396.1" text-anchor="middle" font-size="8.3" font-weight="bold" font-family="Liberation Sans, sans-serif">6</text>
<text x="573.8" y="396.1" text-anchor="middle" font-size="8.3" font-weight="bold" font-family="Liberation Sans, sans-serif">8</text>
<text x="581.86" y="396.1" text-anchor="middle" font-size="8.3" font-weight="bold" font-family="Liberation Sans, sans-serif">24</text>
<text x="595.79" y="396.1" text-anchor="middle" font-size="8.3" font-weight="bold" font-family="Liberation Sans, sans-serif">0</text>
<text x="603.85" y="396.1" text-anchor="middle" font-size="8.3" font-weight="bold" font-family="Liberation Sans, sans-serif">2</text>
<text x="611.91" y="396.1" text-anchor="middle" font-size="8.3" font-weight="bold" font-family="Liberation Sans, sans-serif">4</text>
<text x="619.96" y="396.1" text-anchor="middle" font-size="8.3" font-weight="bold" font-family="Liberation Sans, sans-serif">6</text>
<text x="628.02" y="396.1" text-anchor="middle" font-size="8.3" font-weight="bold" font-family="Liberation Sans, sans-serif">8</text>
<text x="636.08" y="396.1" text-anchor="middle" font-size="8.3" font-weight="bold" font-family="Liberation Sans, sans-serif">24</text>
<text x="650.01" y="396.1" text-anchor="middle" font-size="8.3" font-weight="bold" font-family="Liberation Sans, sans-serif">0</text>
<text x="658.07" y="396.1" text-anchor="middle" font-size="8.3" font-weight="bold" font-family="Liberation Sans, sans-serif">2</text>
<text x="666.13" y="396.1" text-anchor="middle" font-size="8.3" font-weight="bold" font-family="Liberation Sans, sans-serif">4</text>
<text x="674.19" y="396.1" text-anchor="middle" font-size="8.3" font-weight="bold" font-family="Liberation Sans, sans-serif">6</text>
<text x="682.25" y="396.1" text-anchor="middle" font-size="8.3" font-weight="bold" font-family="Liberation Sans, sans-serif">8</text>
<text x="690.3" y="396.1" text-anchor="middle" font-size="8.3" font-weight="bold" font-family="Liberation Sans, sans-serif">24</text>
<path d="M696 210.46V385.5" stroke="#000" stroke-width="1.6"/>
<path d="M696 384.7H698.8M696 380.33H697.8M696 377.77H697.8M696 375.96H697.8M696 374.55H697.8M696 373.4H697.8M696 372.43H697.8M696 371.59H697.8M696 370.84H697.8M696 370.18H698.8M696 365.81H697.8M696 363.25H697.8M696 361.44H697.8M696 360.03H697.8M696 358.88H697.8M696 357.91H697.8M696 357.07H697.8M696 356.32H697.8M696 355.66H698.8M696 351.29H697.8M696 348.73H697.8M696 346.92H697.8M696 345.51H697.8M696 344.36H697.8M696 343.39H697.8M696 342.55H697.8M696 341.8H697.8M696 341.14H698.8M696 336.77H697.8M696 334.21H697.8M696 332.4H697.8M696 330.99H697.8M696 329.84H697.8M696 328.87H697.8M696 328.03H697.8M696 327.28H697.8M696 326.62H698.8M696 322.25H697.8M696 319.69H697.8M696 317.88H697.8M696 316.47H697.8M696 315.32H697.8M696 314.35H697.8M696 313.51H697.8M696 312.76H697.8M696 312.1H698.8M696 307.73H697.8M696 305.17H697.8M696 303.36H697.8M696 301.95H697.8M696 300.8H697.8M696 299.83H697.8M696 298.99H697.8M696 298.24H697.8M696 297.58H698.8M696 293.21H697.8M696 290.65H697.8M696 288.84H697.8M696 287.43H697.8M696 286.28H697.8M696 285.31H697.8M696 284.47H697.8M696 283.72H697.8M696 283.06H698.8M696 278.69H697.8M696 276.13H697.8M696 274.32H697.8M696 272.91H697.8M696 271.76H697.8M696 270.79H697.8M696 269.95H697.8M696 269.2H697.8M696 268.54H698.8M696 264.17H697.8M696 261.61H697.8M696 259.8H697.8M696 258.39H697.8M696 257.24H697.8M696 256.27H697.8M696 255.43H697.8M696 254.68H697.8M696 254.02H698.8M696 249.65H697.8M696 247.09H697.8M696 245.28H697.8M696 243.87H697.8M696 242.72H697.8M696 241.75H697.8M696 240.91H697.8M696 240.16H697.8M696 239.5H698.8M696 235.13H697.8M696 232.57H697.8M696 230.76H697.8M696 229.35H697.8M696 228.2H697.8M696 227.23H697.8M696 226.39H697.8M696 225.64H697.8M696 224.98H698.8M696 220.61H697.8M696 218.05H697.8M696 216.24H697.8M696 214.83H697.8M696 213.68H697.8M696 212.71H697.8M696 211.87H697.8M696 211.12H697.8M696 210.46H698.8" stroke="#000" stroke-width="1"/>
<text x="701.2" y="389.7" font-size="13.6" font-weight="bold" font-family="Liberation Sans, sans-serif">10</text>
<text x="716.7" y="385.4" font-size="9" font-weight="bold" font-family="Liberation Sans, sans-serif">0</text>
<text x="701.2" y="375.18" font-size="13.6" font-weight="bold" font-family="Liberation Sans, sans-serif">10</text>
<text x="716.7" y="370.88" font-size="9" font-weight="bold" font-family="Liberation Sans, sans-serif">1</text>
<text x="701.2" y="360.66" font-size="13.6" font-weight="bold" font-family="Liberation Sans, sans-serif">10</text>
<text x="716.7" y="356.36" font-size="9" font-weight="bold" font-family="Liberation Sans, sans-serif">2</text>
<text x="701.2" y="346.14" font-size="13.6" font-weight="bold" font-family="Liberation Sans, sans-serif">10</text>
<text x="716.7" y="341.84" font-size="9" font-weight="bold" font-family="Liberation Sans, sans-serif">3</text>
<text x="701.2" y="331.62" font-size="13.6" font-weight="bold" font-family="Liberation Sans, sans-serif">10</text>
<text x="716.7" y="327.32" font-size="9" font-weight="bold" font-family="Liberation Sans, sans-serif">4</text>
<text x="701.2" y="317.1" font-size="13.6" font-weight="bold" font-family="Liberation Sans, sans-serif">10</text>
<text x="716.7" y="312.8" font-size="9" font-weight="bold" font-family="Liberation Sans, sans-serif">5</text>
<text x="701.2" y="302.58" font-size="13.6" font-weight="bold" font-family="Liberation Sans, sans-serif">10</text>
<text x="716.7" y="298.28" font-size="9" font-weight="bold" font-family="Liberation Sans, sans-serif">6</text>
<text x="701.2" y="288.06" font-size="13.6" font-weight="bold" font-family="Liberation Sans, sans-serif">10</text>
<text x="716.7" y="283.76" font-size="9" font-weight="bold" font-family="Liberation Sans, sans-serif">7</text>
<text x="701.2" y="273.54" font-size="13.6" font-weight="bold" font-family="Liberation Sans, sans-serif">10</text>
<text x="716.7" y="269.24" font-size="9" font-weight="bold" font-family="Liberation Sans, sans-serif">8</text>
<text x="701.2" y="259.02" font-size="13.6" font-weight="bold" font-family="Liberation Sans, sans-serif">10</text>
<text x="716.7" y="254.72" font-size="9" font-weight="bold" font-family="Liberation Sans, sans-serif">9</text>
<text x="701.2" y="244.5" font-size="13.6" font-weight="bold" font-family="Liberation Sans, sans-serif">10</text>
<text x="716.7" y="240.2" font-size="9" font-weight="bold" font-family="Liberation Sans, sans-serif">10</text>
<text x="701.2" y="229.98" font-size="13.6" font-weight="bold" font-family="Liberation Sans, sans-serif">10</text>
<text x="716.7" y="225.68" font-size="9" font-weight="bold" font-family="Liberation Sans, sans-serif">11</text>
<text x="701.2" y="215.46" font-size="13.6" font-weight="bold" font-family="Liberation Sans, sans-serif">10</text>
<text x="716.7" y="211.16" font-size="9" font-weight="bold" font-family="Liberation Sans, sans-serif">12</text>
<text x="740.5" y="299.5" transform="rotate(-90 740.5 299.5)" text-anchor="middle" font-size="14.4" font-weight="bold" font-family="Liberation Sans, sans-serif">PFU/ml</text>
<rect x="384.16" y="305.2" width="5.6" height="79.5" fill="#F4A09C"/>
<path d="M386.96 305.2V301.7M385.16 301.7H388.76" stroke="#F4A09C" stroke-width="1.1" fill="none"/>
<rect x="392.22" y="272.9" width="5.6" height="111.8" fill="#F4A09C"/>
<path d="M395.02 272.9V271.3M393.22 271.3H396.82" stroke="#F4A09C" stroke-width="1.1" fill="none"/>
<rect x="400.28" y="242.3" width="5.6" height="142.4" fill="#F4A09C"/>
<path d="M403.08 242.3V240.9M401.28 240.9H404.88" stroke="#F4A09C" stroke-width="1.1" fill="none"/>
<rect x="408.33" y="223.8" width="5.6" height="160.9" fill="#F4A09C"/>
<path d="M411.13 223.8V220.7M409.33 220.7H412.93" stroke="#F4A09C" stroke-width="1.1" fill="none"/>
<rect x="416.39" y="224.5" width="5.6" height="160.2" fill="#F4A09C"/>
<path d="M419.19 224.5V222.6M417.39 222.6H420.99" stroke="#F4A09C" stroke-width="1.1" fill="none"/>
<rect x="430.32" y="337.8" width="5.6" height="46.9" fill="#F20000"/>
<path d="M433.12 337.8V330.6M431.32 330.6H434.92" stroke="#F20000" stroke-width="1.1" fill="none"/>
<rect x="438.38" y="286" width="5.6" height="98.7" fill="#F20000"/>
<path d="M441.18 286V282M439.38 282H442.98" stroke="#F20000" stroke-width="1.1" fill="none"/>
<rect x="446.44" y="255.8" width="5.6" height="128.9" fill="#F20000"/>
<path d="M449.24 255.8V253.4M447.44 253.4H451.04" stroke="#F20000" stroke-width="1.1" fill="none"/>
<rect x="454.5" y="225.4" width="5.6" height="159.3" fill="#F20000"/>
<path d="M457.3 225.4V222.6M455.5 222.6H459.1" stroke="#F20000" stroke-width="1.1" fill="none"/>
<rect x="462.56" y="224.9" width="5.6" height="159.8" fill="#F20000"/>
<path d="M465.36 224.9V221.4M463.56 221.4H467.16" stroke="#F20000" stroke-width="1.1" fill="none"/>
<rect x="470.62" y="222.1" width="5.6" height="162.6" fill="#F20000"/>
<path d="M473.42 222.1V218.5M471.62 218.5H475.22" stroke="#F20000" stroke-width="1.1" fill="none"/>
<rect x="484.54" y="325.2" width="5.6" height="59.5" fill="#A00010"/>
<path d="M487.34 325.2V321.9M485.54 321.9H489.14" stroke="#A00010" stroke-width="1.1" fill="none"/>
<rect x="492.6" y="273.6" width="5.6" height="111.1" fill="#A00010"/>
<path d="M495.4 273.6V270.5M493.6 270.5H497.2" stroke="#A00010" stroke-width="1.1" fill="none"/>
<rect x="500.66" y="229.7" width="5.6" height="155" fill="#A00010"/>
<path d="M503.46 229.7V226.6M501.66 226.6H505.26" stroke="#A00010" stroke-width="1.1" fill="none"/>
<rect x="508.72" y="224.9" width="5.6" height="159.8" fill="#A00010"/>
<path d="M511.52 224.9V223.3M509.72 223.3H513.32" stroke="#A00010" stroke-width="1.1" fill="none"/>
<rect x="516.78" y="223.8" width="5.6" height="160.9" fill="#A00010"/>
<path d="M519.58 223.8V223M517.78 223H521.38" stroke="#A00010" stroke-width="1.1" fill="none"/>
<rect x="524.84" y="222.1" width="5.6" height="162.6" fill="#A00010"/>
<path d="M527.64 222.1V218.5M525.84 218.5H529.44" stroke="#A00010" stroke-width="1.1" fill="none"/>
<rect x="538.77" y="314.5" width="5.6" height="70.2" fill="#C3C0FA"/>
<path d="M541.57 314.5V310.8M539.77 310.8H543.37" stroke="#C3C0FA" stroke-width="1.1" fill="none"/>
<rect x="546.82" y="248.1" width="5.6" height="136.6" fill="#C3C0FA"/>
<path d="M549.62 248.1V243.1M547.82 243.1H551.42" stroke="#C3C0FA" stroke-width="1.1" fill="none"/>
<rect x="554.88" y="224.8" width="5.6" height="159.9" fill="#C3C0FA"/>
<path d="M557.68 224.8V221.9M555.88 221.9H559.48" stroke="#C3C0FA" stroke-width="1.1" fill="none"/>
<rect x="562.94" y="227.7" width="5.6" height="157" fill="#C3C0FA"/>
<path d="M565.74 227.7V221.9M563.94 221.9H567.54" stroke="#C3C0FA" stroke-width="1.1" fill="none"/>
<rect x="571" y="225.4" width="5.6" height="159.3" fill="#C3C0FA"/>
<path d="M573.8 225.4V221.9M572 221.9H575.6" stroke="#C3C0FA" stroke-width="1.1" fill="none"/>
<rect x="579.06" y="224.8" width="5.6" height="159.9" fill="#C3C0FA"/>
<path d="M581.86 224.8V221M580.06 221H583.66" stroke="#C3C0FA" stroke-width="1.1" fill="none"/>
<rect x="592.99" y="299.1" width="5.6" height="85.6" fill="#0000EE"/>
<path d="M595.79 299.1V297.1M593.99 297.1H597.59" stroke="#0000A0" stroke-width="1.1" fill="none"/>
<rect x="601.05" y="240.8" width="5.6" height="143.9" fill="#0000EE"/>
<path d="M603.85 240.8V237.9M602.05 237.9H605.65" stroke="#0000A0" stroke-width="1.1" fill="none"/>
<rect x="609.11" y="226.8" width="5.6" height="157.9" fill="#0000EE"/>
<path d="M611.91 226.8V223.3M610.11 223.3H613.71" stroke="#0000A0" stroke-width="1.1" fill="none"/>
<rect x="617.16" y="228.3" width="5.6" height="156.4" fill="#0000EE"/>
<path d="M619.96 228.3V223.3M618.16 223.3H621.76" stroke="#0000A0" stroke-width="1.1" fill="none"/>
<rect x="625.22" y="226.2" width="5.6" height="158.5" fill="#0000EE"/>
<path d="M628.02 226.2V223.3M626.22 223.3H629.82" stroke="#0000A0" stroke-width="1.1" fill="none"/>
<rect x="633.28" y="230.6" width="5.6" height="154.1" fill="#0000EE"/>
<path d="M636.08 230.6V227.7M634.28 227.7H637.88" stroke="#0000A0" stroke-width="1.1" fill="none"/>
<rect x="647.21" y="281.6" width="5.6" height="103.1" fill="#000080"/>
<path d="M650.01 281.6V278.1M648.21 278.1H651.81" stroke="#000080" stroke-width="1.1" fill="none"/>
<rect x="655.27" y="230" width="5.6" height="154.7" fill="#000080"/>
<path d="M658.07 230V223.9M656.27 223.9H659.87" stroke="#000080" stroke-width="1.1" fill="none"/>
<rect x="663.33" y="235" width="5.6" height="149.7" fill="#000080"/>
<path d="M666.13 235V228.3M664.33 228.3H667.93" stroke="#000080" stroke-width="1.1" fill="none"/>
<rect x="671.39" y="240.2" width="5.6" height="144.5" fill="#000080"/>
<path d="M674.19 240.2V234.1M672.39 234.1H675.99" stroke="#000080" stroke-width="1.1" fill="none"/>
<rect x="679.45" y="237.3" width="5.6" height="147.4" fill="#000080"/>
<path d="M682.25 237.3V230M680.45 230H684.05" stroke="#000080" stroke-width="1.1" fill="none"/>
<rect x="687.5" y="239.3" width="5.6" height="145.4" fill="#000080"/>
<path d="M690.3 239.3V232.6M688.5 232.6H692.1" stroke="#000080" stroke-width="1.1" fill="none"/>
<path d="M373.3 583.5H697.6" stroke="#000" stroke-width="1.6"/>
<path d="M379 583.5V586.1M387.11 583.5V586.1M395.22 583.5V586.1M403.34 583.5V586.1M411.45 583.5V586.1M419.56 583.5V586.1M433.58 583.5V586.1M441.69 583.5V586.1M449.81 583.5V586.1M457.92 583.5V586.1M466.03 583.5V586.1M474.14 583.5V586.1M488.16 583.5V586.1M496.28 583.5V586.1M504.39 583.5V586.1M512.5 583.5V586.1M520.61 583.5V586.1M528.72 583.5V586.1M542.75 583.5V586.1M550.86 583.5V586.1M558.97 583.5V586.1M567.08 583.5V586.1M575.19 583.5V586.1M583.31 583.5V586.1M597.33 583.5V586.1M605.44 583.5V586.1M613.55 583.5V586.1M621.66 583.5V586.1M629.78 583.5V586.1M637.89 583.5V586.1M651.91 583.5V586.1M660.02 583.5V586.1M668.13 583.5V586.1M676.25 583.5V586.1M684.36 583.5V586.1M692.47 583.5V586.1" stroke="#000" stroke-width="1.2"/>
<text x="379" y="594.9" text-anchor="middle" font-size="8.3" font-weight="bold" font-family="Liberation Sans, sans-serif">0</text>
<text x="387.11" y="594.9" text-anchor="middle" font-size="8.3" font-weight="bold" font-family="Liberation Sans, sans-serif">2</text>
<text x="395.22" y="594.9" text-anchor="middle" font-size="8.3" font-weight="bold" font-family="Liberation Sans, sans-serif">4</text>
<text x="403.34" y="594.9" text-anchor="middle" font-size="8.3" font-weight="bold" font-family="Liberation Sans, sans-serif">6</text>
<text x="411.45" y="594.9" text-anchor="middle" font-size="8.3" font-weight="bold" font-family="Liberation Sans, sans-serif">8</text>
<text x="419.56" y="594.9" text-anchor="middle" font-size="8.3" font-weight="bold" font-family="Liberation Sans, sans-serif">24</text>
<text x="433.58" y="594.9" text-anchor="middle" font-size="8.3" font-weight="bold" font-family="Liberation Sans, sans-serif">0</text>
<text x="441.69" y="594.9" text-anchor="middle" font-size="8.3" font-weight="bold" font-family="Liberation Sans, sans-serif">2</text>
<text x="449.81" y="594.9" text-anchor="middle" font-size="8.3" font-weight="bold" font-family="Liberation Sans, sans-serif">4</text>
<text x="457.92" y="594.9" text-anchor="middle" font-size="8.3" font-weight="bold" font-family="Liberation Sans, sans-serif">6</text>
<text x="466.03" y="594.9" text-anchor="middle" font-size="8.3" font-weight="bold" font-family="Liberation Sans, sans-serif">8</text>
<text x="474.14" y="594.9" text-anchor="middle" font-size="8.3" font-weight="bold" font-family="Liberation Sans, sans-serif">24</text>
<text x="488.16" y="594.9" text-anchor="middle" font-size="8.3" font-weight="bold" font-family="Liberation Sans, sans-serif">0</text>
<text x="496.28" y="594.9" text-anchor="middle" font-size="8.3" font-weight="bold" font-family="Liberation Sans, sans-serif">2</text>
<text x="504.39" y="594.9" text-anchor="middle" font-size="8.3" font-weight="bold" font-family="Liberation Sans, sans-serif">4</text>
<text x="512.5" y="594.9" text-anchor="middle" font-size="8.3" font-weight="bold" font-family="Liberation Sans, sans-serif">6</text>
<text x="520.61" y="594.9" text-anchor="middle" font-size="8.3" font-weight="bold" font-family="Liberation Sans, sans-serif">8</text>
<text x="528.72" y="594.9" text-anchor="middle" font-size="8.3" font-weight="bold" font-family="Liberation Sans, sans-serif">24</text>
<text x="542.75" y="594.9" text-anchor="middle" font-size="8.3" font-weight="bold" font-family="Liberation Sans, sans-serif">0</text>
<text x="550.86" y="594.9" text-anchor="middle" font-size="8.3" font-weight="bold" font-family="Liberation Sans, sans-serif">2</text>
<text x="558.97" y="594.9" text-anchor="middle" font-size="8.3" font-weight="bold" font-family="Liberation Sans, sans-serif">4</text>
<text x="567.08" y="594.9" text-anchor="middle" font-size="8.3" font-weight="bold" font-family="Liberation Sans, sans-serif">6</text>
<text x="575.19" y="594.9" text-anchor="middle" font-size="8.3" font-weight="bold" font-family="Liberation Sans, sans-serif">8</text>
<text x="583.31" y="594.9" text-anchor="middle" font-size="8.3" font-weight="bold" font-family="Liberation Sans, sans-serif">24</text>
<text x="597.33" y="594.9" text-anchor="middle" font-size="8.3" font-weight="bold" font-family="Liberation Sans, sans-serif">0</text>
<text x="605.44" y="594.9" text-anchor="middle" font-size="8.3" font-weight="bold" font-family="Liberation Sans, sans-serif">2</text>
<text x="613.55" y="594.9" text-anchor="middle" font-size="8.3" font-weight="bold" font-family="Liberation Sans, sans-serif">4</text>
<text x="621.66" y="594.9" text-anchor="middle" font-size="8.3" font-weight="bold" font-family="Liberation Sans, sans-serif">6</text>
<text x="629.78" y="594.9" text-anchor="middle" font-size="8.3" font-weight="bold" font-family="Liberation Sans, sans-serif">8</text>
<text x="637.89" y="594.9" text-anchor="middle" font-size="8.3" font-weight="bold" font-family="Liberation Sans, sans-serif">24</text>
<text x="651.91" y="594.9" text-anchor="middle" font-size="8.3" font-weight="bold" font-family="Liberation Sans, sans-serif">0</text>
<text x="660.02" y="594.9" text-anchor="middle" font-size="8.3" font-weight="bold" font-family="Liberation Sans, sans-serif">2</text>
<text x="668.13" y="594.9" text-anchor="middle" font-size="8.3" font-weight="bold" font-family="Liberation Sans, sans-serif">4</text>
<text x="676.25" y="594.9" text-anchor="middle" font-size="8.3" font-weight="bold" font-family="Liberation Sans, sans-serif">6</text>
<text x="684.36" y="594.9" text-anchor="middle" font-size="8.3" font-weight="bold" font-family="Liberation Sans, sans-serif">8</text>
<text x="692.47" y="594.9" text-anchor="middle" font-size="8.3" font-weight="bold" font-family="Liberation Sans, sans-serif">24</text>
<path d="M697.6 408.26V584.3" stroke="#000" stroke-width="1.6"/>
<path d="M697.6 583.5H700.4M697.6 579.44H699.4M697.6 577.07H699.4M697.6 575.38H699.4M697.6 574.08H699.4M697.6 573.01H699.4M697.6 572.11H699.4M697.6 571.33H699.4M697.6 570.64H699.4M697.6 570.02H700.4M697.6 565.96H699.4M697.6 563.59H699.4M697.6 561.9H699.4M697.6 560.6H699.4M697.6 559.53H699.4M697.6 558.63H699.4M697.6 557.85H699.4M697.6 557.16H699.4M697.6 556.54H700.4M697.6 552.48H699.4M697.6 550.11H699.4M697.6 548.42H699.4M697.6 547.12H699.4M697.6 546.05H699.4M697.6 545.15H699.4M697.6 544.37H699.4M697.6 543.68H699.4M697.6 543.06H700.4M697.6 539H699.4M697.6 536.63H699.4M697.6 534.94H699.4M697.6 533.64H699.4M697.6 532.57H699.4M697.6 531.67H699.4M697.6 530.89H699.4M697.6 530.2H699.4M697.6 529.58H700.4M697.6 525.52H699.4M697.6 523.15H699.4M697.6 521.46H699.4M697.6 520.16H699.4M697.6 519.09H699.4M697.6 518.19H699.4M697.6 517.41H699.4M697.6 516.72H699.4M697.6 516.1H700.4M697.6 512.04H699.4M697.6 509.67H699.4M697.6 507.98H699.4M697.6 506.68H699.4M697.6 505.61H699.4M697.6 504.71H699.4M697.6 503.93H699.4M697.6 503.24H699.4M697.6 502.62H700.4M697.6 498.56H699.4M697.6 496.19H699.4M697.6 494.5H699.4M697.6 493.2H699.4M697.6 492.13H699.4M697.6 491.23H699.4M697.6 490.45H699.4M697.6 489.76H699.4M697.6 489.14H700.4M697.6 485.08H699.4M697.6 482.71H699.4M697.6 481.02H699.4M697.6 479.72H699.4M697.6 478.65H699.4M697.6 477.75H699.4M697.6 476.97H699.4M697.6 476.28H699.4M697.6 475.66H700.4M697.6 471.6H699.4M697.6 469.23H699.4M697.6 467.54H699.4M697.6 466.24H699.4M697.6 465.17H699.4M697.6 464.27H699.4M697.6 463.49H699.4M697.6 462.8H699.4M697.6 462.18H700.4M697.6 458.12H699.4M697.6 455.75H699.4M697.6 454.06H699.4M697.6 452.76H699.4M697.6 451.69H699.4M697.6 450.79H699.4M697.6 450.01H699.4M697.6 449.32H699.4M697.6 448.7H700.4M697.6 444.64H699.4M697.6 442.27H699.4M697.6 440.58H699.4M697.6 439.28H699.4M697.6 438.21H699.4M697.6 437.31H699.4M697.6 436.53H699.4M697.6 435.84H699.4M697.6 435.22H700.4M697.6 431.16H699.4M697.6 428.79H699.4M697.6 427.1H699.4M697.6 425.8H699.4M697.6 424.73H699.4M697.6 423.83H699.4M697.6 423.05H699.4M697.6 422.36H699.4M697.6 421.74H700.4M697.6 417.68H699.4M697.6 415.31H699.4M697.6 413.62H699.4M697.6 412.32H699.4M697.6 411.25H699.4M697.6 410.35H699.4M697.6 409.57H699.4M697.6 408.88H699.4M697.6 408.26H700.4" stroke="#000" stroke-width="1"/>
<text x="702.8" y="588.5" font-size="13.6" font-weight="bold" font-family="Liberation Sans, sans-serif">10</text>
<text x="718.3" y="584.2" font-size="9" font-weight="bold" font-family="Liberation Sans, sans-serif">0</text>
<text x="702.8" y="575.02" font-size="13.6" font-weight="bold" font-family="Liberation Sans, sans-serif">10</text>
<text x="718.3" y="570.72" font-size="9" font-weight="bold" font-family="Liberation Sans, sans-serif">1</text>
<text x="702.8" y="561.54" font-size="13.6" font-weight="bold" font-family="Liberation Sans, sans-serif">10</text>
<text x="718.3" y="557.24" font-size="9" font-weight="bold" font-family="Liberation Sans, sans-serif">2</text>
<text x="702.8" y="548.06" font-size="13.6" font-weight="bold" font-family="Liberation Sans, sans-serif">10</text>
<text x="718.3" y="543.76" font-size="9" font-weight="bold" font-family="Liberation Sans, sans-serif">3</text>
<text x="702.8" y="534.58" font-size="13.6" font-weight="bold" font-family="Liberation Sans, sans-serif">10</text>
<text x="718.3" y="530.28" font-size="9" font-weight="bold" font-family="Liberation Sans, sans-serif">4</text>
<text x="702.8" y="521.1" font-size="13.6" font-weight="bold" font-family="Liberation Sans, sans-serif">10</text>
<text x="718.3" y="516.8" font-size="9" font-weight="bold" font-family="Liberation Sans, sans-serif">5</text>
<text x="702.8" y="507.62" font-size="13.6" font-weight="bold" font-family="Liberation Sans, sans-serif">10</text>
<text x="718.3" y="503.32" font-size="9" font-weight="bold" font-family="Liberation Sans, sans-serif">6</text>
<text x="702.8" y="494.14" font-size="13.6" font-weight="bold" font-family="Liberation Sans, sans-serif">10</text>
<text x="718.3" y="489.84" font-size="9" font-weight="bold" font-family="Liberation Sans, sans-serif">7</text>
<text x="702.8" y="480.66" font-size="13.6" font-weight="bold" font-family="Liberation Sans, sans-serif">10</text>
<text x="718.3" y="476.36" font-size="9" font-weight="bold" font-family="Liberation Sans, sans-serif">8</text>
<text x="702.8" y="467.18" font-size="13.6" font-weight="bold" font-family="Liberation Sans, sans-serif">10</text>
<text x="718.3" y="462.88" font-size="9" font-weight="bold" font-family="Liberation Sans, sans-serif">9</text>
<text x="702.8" y="453.7" font-size="13.6" font-weight="bold" font-family="Liberation Sans, sans-serif">10</text>
<text x="718.3" y="449.4" font-size="9" font-weight="bold" font-family="Liberation Sans, sans-serif">10</text>
<text x="702.8" y="440.22" font-size="13.6" font-weight="bold" font-family="Liberation Sans, sans-serif">10</text>
<text x="718.3" y="435.92" font-size="9" font-weight="bold" font-family="Liberation Sans, sans-serif">11</text>
<text x="702.8" y="426.74" font-size="13.6" font-weight="bold" font-family="Liberation Sans, sans-serif">10</text>
<text x="718.3" y="422.44" font-size="9" font-weight="bold" font-family="Liberation Sans, sans-serif">12</text>
<text x="702.8" y="413.26" font-size="13.6" font-weight="bold" font-family="Liberation Sans, sans-serif">10</text>
<text x="718.3" y="408.96" font-size="9" font-weight="bold" font-family="Liberation Sans, sans-serif">13</text>
<text x="743.5" y="498.7" transform="rotate(-90 743.5 498.7)" text-anchor="middle" font-size="14.4" font-weight="bold" font-family="Liberation Sans, sans-serif">PFU/ml</text>
<rect x="485.36" y="515.1" width="5.6" height="68.4" fill="#A00010"/>
<path d="M488.16 515.1V512.4M486.36 512.4H489.96" stroke="#A00010" stroke-width="1.1" fill="none"/>
<rect x="509.7" y="531.7" width="5.6" height="51.8" fill="#A00010"/>
<path d="M512.5 531.7V528.6M510.7 528.6H514.3" stroke="#A00010" stroke-width="1.1" fill="none"/>
<rect x="517.81" y="522.1" width="5.6" height="61.4" fill="#A00010"/>
<path d="M520.61 522.1V519M518.81 519H522.41" stroke="#A00010" stroke-width="1.1" fill="none"/>
<rect x="525.92" y="511.3" width="5.6" height="72.2" fill="#A00010"/>
<path d="M528.72 511.3V510.1M526.92 510.1H530.52" stroke="#A00010" stroke-width="1.1" fill="none"/>
<rect x="539.95" y="513.2" width="5.6" height="70.3" fill="#C3C0FA"/>
<path d="M542.75 513.2V512M540.95 512H544.55" stroke="#C3C0FA" stroke-width="1.1" fill="none"/>
<rect x="548.06" y="525.5" width="5.6" height="58" fill="#C3C0FA"/>
<path d="M550.86 525.5V524M549.06 524H552.66" stroke="#C3C0FA" stroke-width="1.1" fill="none"/>
<rect x="556.17" y="524" width="5.6" height="59.5" fill="#C3C0FA"/>
<path d="M558.97 524V522.8M557.17 522.8H560.77" stroke="#C3C0FA" stroke-width="1.1" fill="none"/>
<rect x="564.28" y="526.7" width="5.6" height="56.8" fill="#C3C0FA"/>
<path d="M567.08 526.7V525.5M565.28 525.5H568.88" stroke="#C3C0FA" stroke-width="1.1" fill="none"/>
<rect x="572.39" y="501.7" width="5.6" height="81.8" fill="#C3C0FA"/>
<path d="M575.19 501.7V499M573.39 499H576.99" stroke="#C3C0FA" stroke-width="1.1" fill="none"/>
<rect x="580.51" y="485.5" width="5.6" height="98" fill="#C3C0FA"/>
<path d="M583.31 485.5V483.6M581.51 483.6H585.11" stroke="#C3C0FA" stroke-width="1.1" fill="none"/>
<rect x="594.53" y="483.6" width="5.6" height="99.9" fill="#0000EE"/>
<path d="M597.33 483.6V478.6M595.53 478.6H599.13" stroke="#0000A0" stroke-width="1.1" fill="none"/>
<rect x="602.64" y="501.7" width="5.6" height="81.8" fill="#0000EE"/>
<path d="M605.44 501.7V497M603.64 497H607.24" stroke="#0000A0" stroke-width="1.1" fill="none"/>
<rect x="610.75" y="513.2" width="5.6" height="70.3" fill="#0000EE"/>
<path d="M613.55 513.2V510.1M611.75 510.1H615.35" stroke="#0000A0" stroke-width="1.1" fill="none"/>
<rect x="618.86" y="513.2" width="5.6" height="70.3" fill="#0000EE"/>
<path d="M621.66 513.2V510.1M619.86 510.1H623.46" stroke="#0000A0" stroke-width="1.1" fill="none"/>
<rect x="626.98" y="482.4" width="5.6" height="101.1" fill="#0000EE"/>
<path d="M629.78 482.4V481.3M627.98 481.3H631.58" stroke="#0000A0" stroke-width="1.1" fill="none"/>
<rect x="635.09" y="463.9" width="5.6" height="119.6" fill="#0000EE"/>
<path d="M637.89 463.9V459.3M636.09 459.3H639.69" stroke="#0000A0" stroke-width="1.1" fill="none"/>
<rect x="649.11" y="463.2" width="5.6" height="120.3" fill="#000080"/>
<path d="M651.91 463.2V459.3M650.11 459.3H653.71" stroke="#000080" stroke-width="1.1" fill="none"/>
<rect x="657.22" y="460.5" width="5.6" height="123" fill="#000080"/>
<path d="M660.02 460.5V457.4M658.22 457.4H661.82" stroke="#000080" stroke-width="1.1" fill="none"/>
<rect x="665.33" y="489.3" width="5.6" height="94.2" fill="#000080"/>
<path d="M668.13 489.3V484.3M666.33 484.3H669.93" stroke="#000080" stroke-width="1.1" fill="none"/>
<rect x="673.45" y="470.1" width="5.6" height="113.4" fill="#000080"/>
<path d="M676.25 470.1V467M674.45 467H678.05" stroke="#000080" stroke-width="1.1" fill="none"/>
<rect x="681.56" y="417.7" width="5.6" height="165.8" fill="#000080"/>
<path d="M684.36 417.7V411.9M682.56 411.9H686.16" stroke="#000080" stroke-width="1.1" fill="none"/>
<rect x="689.67" y="434.3" width="5.6" height="149.2" fill="#000080"/>
<path d="M692.47 434.3V428.5M690.67 428.5H694.27" stroke="#000080" stroke-width="1.1" fill="none"/>
<path d="M373.3 774H698.2" stroke="#000" stroke-width="1.6"/>
<path d="M379.4 774V776.6M387.5 774V776.6M395.6 774V776.6M403.7 774V776.6M411.8 774V776.6M419.9 774V776.6M433.9 774V776.6M442 774V776.6M450.1 774V776.6M458.2 774V776.6M466.3 774V776.6M474.4 774V776.6M488.4 774V776.6M496.5 774V776.6M504.6 774V776.6M512.7 774V776.6M520.8 774V776.6M528.9 774V776.6M542.9 774V776.6M551 774V776.6M559.1 774V776.6M567.2 774V776.6M575.3 774V776.6M583.4 774V776.6M597.4 774V776.6M605.5 774V776.6M613.6 774V776.6M621.7 774V776.6M629.8 774V776.6M637.9 774V776.6M651.9 774V776.6M660 774V776.6M668.1 774V776.6M676.2 774V776.6M684.3 774V776.6M692.4 774V776.6" stroke="#000" stroke-width="1.2"/>
<text x="379.4" y="785.4" text-anchor="middle" font-size="8.3" font-weight="bold" font-family="Liberation Sans, sans-serif">0</text>
<text x="387.5" y="785.4" text-anchor="middle" font-size="8.3" font-weight="bold" font-family="Liberation Sans, sans-serif">2</text>
<text x="395.6" y="785.4" text-anchor="middle" font-size="8.3" font-weight="bold" font-family="Liberation Sans, sans-serif">4</text>
<text x="403.7" y="785.4" text-anchor="middle" font-size="8.3" font-weight="bold" font-family="Liberation Sans, sans-serif">6</text>
<text x="411.8" y="785.4" text-anchor="middle" font-size="8.3" font-weight="bold" font-family="Liberation Sans, sans-serif">8</text>
<text x="419.9" y="785.4" text-anchor="middle" font-size="8.3" font-weight="bold" font-family="Liberation Sans, sans-serif">24</text>
<text x="433.9" y="785.4" text-anchor="middle" font-size="8.3" font-weight="bold" font-family="Liberation Sans, sans-serif">0</text>
<text x="442" y="785.4" text-anchor="middle" font-size="8.3" font-weight="bold" font-family="Liberation Sans, sans-serif">2</text>
<text x="450.1" y="785.4" text-anchor="middle" font-size="8.3" font-weight="bold" font-family="Liberation Sans, sans-serif">4</text>
<text x="458.2" y="785.4" text-anchor="middle" font-size="8.3" font-weight="bold" font-family="Liberation Sans, sans-serif">6</text>
<text x="466.3" y="785.4" text-anchor="middle" font-size="8.3" font-weight="bold" font-family="Liberation Sans, sans-serif">8</text>
<text x="474.4" y="785.4" text-anchor="middle" font-size="8.3" font-weight="bold" font-family="Liberation Sans, sans-serif">24</text>
<text x="488.4" y="785.4" text-anchor="middle" font-size="8.3" font-weight="bold" font-family="Liberation Sans, sans-serif">0</text>
<text x="496.5" y="785.4" text-anchor="middle" font-size="8.3" font-weight="bold" font-family="Liberation Sans, sans-serif">2</text>
<text x="504.6" y="785.4" text-anchor="middle" font-size="8.3" font-weight="bold" font-family="Liberation Sans, sans-serif">4</text>
<text x="512.7" y="785.4" text-anchor="middle" font-size="8.3" font-weight="bold" font-family="Liberation Sans, sans-serif">6</text>
<text x="520.8" y="785.4" text-anchor="middle" font-size="8.3" font-weight="bold" font-family="Liberation Sans, sans-serif">8</text>
<text x="528.9" y="785.4" text-anchor="middle" font-size="8.3" font-weight="bold" font-family="Liberation Sans, sans-serif">24</text>
<text x="542.9" y="785.4" text-anchor="middle" font-size="8.3" font-weight="bold" font-family="Liberation Sans, sans-serif">0</text>
<text x="551" y="785.4" text-anchor="middle" font-size="8.3" font-weight="bold" font-family="Liberation Sans, sans-serif">2</text>
<text x="559.1" y="785.4" text-anchor="middle" font-size="8.3" font-weight="bold" font-family="Liberation Sans, sans-serif">4</text>
<text x="567.2" y="785.4" text-anchor="middle" font-size="8.3" font-weight="bold" font-family="Liberation Sans, sans-serif">6</text>
<text x="575.3" y="785.4" text-anchor="middle" font-size="8.3" font-weight="bold" font-family="Liberation Sans, sans-serif">8</text>
<text x="583.4" y="785.4" text-anchor="middle" font-size="8.3" font-weight="bold" font-family="Liberation Sans, sans-serif">24</text>
<text x="597.4" y="785.4" text-anchor="middle" font-size="8.3" font-weight="bold" font-family="Liberation Sans, sans-serif">0</text>
<text x="605.5" y="785.4" text-anchor="middle" font-size="8.3" font-weight="bold" font-family="Liberation Sans, sans-serif">2</text>
<text x="613.6" y="785.4" text-anchor="middle" font-size="8.3" font-weight="bold" font-family="Liberation Sans, sans-serif">4</text>
<text x="621.7" y="785.4" text-anchor="middle" font-size="8.3" font-weight="bold" font-family="Liberation Sans, sans-serif">6</text>
<text x="629.8" y="785.4" text-anchor="middle" font-size="8.3" font-weight="bold" font-family="Liberation Sans, sans-serif">8</text>
<text x="637.9" y="785.4" text-anchor="middle" font-size="8.3" font-weight="bold" font-family="Liberation Sans, sans-serif">24</text>
<text x="651.9" y="785.4" text-anchor="middle" font-size="8.3" font-weight="bold" font-family="Liberation Sans, sans-serif">0</text>
<text x="660" y="785.4" text-anchor="middle" font-size="8.3" font-weight="bold" font-family="Liberation Sans, sans-serif">2</text>
<text x="668.1" y="785.4" text-anchor="middle" font-size="8.3" font-weight="bold" font-family="Liberation Sans, sans-serif">4</text>
<text x="676.2" y="785.4" text-anchor="middle" font-size="8.3" font-weight="bold" font-family="Liberation Sans, sans-serif">6</text>
<text x="684.3" y="785.4" text-anchor="middle" font-size="8.3" font-weight="bold" font-family="Liberation Sans, sans-serif">8</text>
<text x="692.4" y="785.4" text-anchor="middle" font-size="8.3" font-weight="bold" font-family="Liberation Sans, sans-serif">24</text>
<path d="M698.2 598.02V774.8" stroke="#000" stroke-width="1.6"/>
<path d="M698.2 774H701M698.2 766.43H700M698.2 762.01H700M698.2 758.86H700M698.2 756.43H700M698.2 754.44H700M698.2 752.75H700M698.2 751.3H700M698.2 750.01H700M698.2 748.86H701M698.2 741.29H700M698.2 736.87H700M698.2 733.72H700M698.2 731.29H700M698.2 729.3H700M698.2 727.61H700M698.2 726.16H700M698.2 724.87H700M698.2 723.72H701M698.2 716.15H700M698.2 711.73H700M698.2 708.58H700M698.2 706.15H700M698.2 704.16H700M698.2 702.47H700M698.2 701.02H700M698.2 699.73H700M698.2 698.58H701M698.2 691.01H700M698.2 686.59H700M698.2 683.44H700M698.2 681.01H700M698.2 679.02H700M698.2 677.33H700M698.2 675.88H700M698.2 674.59H700M698.2 673.44H701M698.2 665.87H700M698.2 661.45H700M698.2 658.3H700M698.2 655.87H700M698.2 653.88H700M698.2 652.19H700M698.2 650.74H700M698.2 649.45H700M698.2 648.3H701M698.2 640.73H700M698.2 636.31H700M698.2 633.16H700M698.2 630.73H700M698.2 628.74H700M698.2 627.05H700M698.2 625.6H700M698.2 624.31H700M698.2 623.16H701M698.2 615.59H700M698.2 611.17H700M698.2 608.02H700M698.2 605.59H700M698.2 603.6H700M698.2 601.91H700M698.2 600.46H700M698.2 599.17H700M698.2 598.02H701" stroke="#000" stroke-width="1"/>
<text x="703.4" y="779" font-size="13.6" font-weight="bold" font-family="Liberation Sans, sans-serif">10</text>
<text x="718.9" y="774.7" font-size="9" font-weight="bold" font-family="Liberation Sans, sans-serif">0</text>
<text x="703.4" y="753.86" font-size="13.6" font-weight="bold" font-family="Liberation Sans, sans-serif">10</text>
<text x="718.9" y="749.56" font-size="9" font-weight="bold" font-family="Liberation Sans, sans-serif">1</text>
<text x="703.4" y="728.72" font-size="13.6" font-weight="bold" font-family="Liberation Sans, sans-serif">10</text>
<text x="718.9" y="724.42" font-size="9" font-weight="bold" font-family="Liberation Sans, sans-serif">2</text>
<text x="703.4" y="703.58" font-size="13.6" font-weight="bold" font-family="Liberation Sans, sans-serif">10</text>
<text x="718.9" y="699.28" font-size="9" font-weight="bold" font-family="Liberation Sans, sans-serif">3</text>
<text x="703.4" y="678.44" font-size="13.6" font-weight="bold" font-family="Liberation Sans, sans-serif">10</text>
<text x="718.9" y="674.14" font-size="9" font-weight="bold" font-family="Liberation Sans, sans-serif">4</text>
<text x="703.4" y="653.3" font-size="13.6" font-weight="bold" font-family="Liberation Sans, sans-serif">10</text>
<text x="718.9" y="649" font-size="9" font-weight="bold" font-family="Liberation Sans, sans-serif">5</text>
<text x="703.4" y="628.16" font-size="13.6" font-weight="bold" font-family="Liberation Sans, sans-serif">10</text>
<text x="718.9" y="623.86" font-size="9" font-weight="bold" font-family="Liberation Sans, sans-serif">6</text>
<text x="703.4" y="603.02" font-size="13.6" font-weight="bold" font-family="Liberation Sans, sans-serif">10</text>
<text x="718.9" y="598.72" font-size="9" font-weight="bold" font-family="Liberation Sans, sans-serif">7</text>
<text x="741.7" y="688.9" transform="rotate(-90 741.7 688.9)" text-anchor="middle" font-size="14.4" font-weight="bold" font-family="Liberation Sans, sans-serif">PFU/ml</text>
<rect x="580.6" y="662.4" width="5.6" height="111.6" fill="#C3C0FA"/>
<path d="M583.4 662.4V661.2M581.6 661.2H585.2" stroke="#C3C0FA" stroke-width="1.1" fill="none"/>
<rect x="594.6" y="639.3" width="5.6" height="134.7" fill="#0000EE"/>
<path d="M597.4 639.3V635M595.6 635H599.2" stroke="#0000A0" stroke-width="1.1" fill="none"/>
<rect x="602.7" y="668.9" width="5.6" height="105.1" fill="#0000EE"/>
<path d="M605.5 668.9V665.1M603.7 665.1H607.3" stroke="#0000A0" stroke-width="1.1" fill="none"/>
<rect x="610.8" y="664.3" width="5.6" height="109.7" fill="#0000EE"/>
<path d="M613.6 664.3V661.2M611.8 661.2H615.4" stroke="#0000A0" stroke-width="1.1" fill="none"/>
<rect x="618.9" y="671.6" width="5.6" height="102.4" fill="#0000EE"/>
<path d="M621.7 671.6V668.9M619.9 668.9H623.5" stroke="#0000A0" stroke-width="1.1" fill="none"/>
<rect x="649.1" y="635.4" width="5.6" height="138.6" fill="#000080"/>
<path d="M651.9 635.4V630.4M650.1 630.4H653.7" stroke="#000080" stroke-width="1.1" fill="none"/>
<rect x="657.2" y="670.1" width="5.6" height="103.9" fill="#000080"/>
<path d="M660 670.1V668.2M658.2 668.2H661.8" stroke="#000080" stroke-width="1.1" fill="none"/>
<rect x="665.3" y="627.4" width="5.6" height="146.6" fill="#000080"/>
<path d="M668.1 627.4V618.9M666.3 618.9H669.9" stroke="#000080" stroke-width="1.1" fill="none"/>
<rect x="673.4" y="641.2" width="5.6" height="132.8" fill="#000080"/>
<path d="M676.2 641.2V636.2M674.4 636.2H678" stroke="#000080" stroke-width="1.1" fill="none"/>
<rect x="681.5" y="615.8" width="5.6" height="158.2" fill="#000080"/>
<path d="M684.3 615.8V608.5M682.5 608.5H686.1" stroke="#000080" stroke-width="1.1" fill="none"/>
<rect x="689.6" y="622.7" width="5.6" height="151.3" fill="#000080"/>
<path d="M692.4 622.7V617.7M690.6 617.7H694.2" stroke="#000080" stroke-width="1.1" fill="none"/>
<text x="219.2" y="809.2" text-anchor="middle" font-size="14" font-weight="bold" font-family="Liberation Sans, sans-serif">Time in h</text>
<text x="548" y="808.7" text-anchor="middle" font-size="14.6" font-weight="bold" font-family="Liberation Sans, sans-serif">Time in h</text>
<path d="M14 833.3H27.3" stroke="#000000" stroke-width="1.3"/>
<circle cx="20.8" cy="833.3" r="2.99" fill="#000000"/>
<text x="35.5" y="839.1" font-size="13.5" font-family="Liberation Sans, sans-serif" fill="#111">no phage</text>
<path d="M102 833.3H119.7" stroke="#F4A09C" stroke-width="1.3"/>
<path d="M110.6 829.25L114.45 835.93L106.75 835.93Z" fill="#F4A09C"/>
<text x="129.2" y="839.2" font-size="14.6" font-family="Liberation Sans, sans-serif" fill="#111">10</text>
<text x="145.8" y="832.6" font-size="7.2" font-family="Liberation Sans, sans-serif" fill="#111">2</text>
<text x="151.8" y="839.2" font-size="14.8" letter-spacing="0.4" font-family="Liberation Sans, sans-serif" fill="#111">PFU/ml</text>
<path d="M206 833.3H223.3" stroke="#F20000" stroke-width="1.3"/>
<rect x="210.94" y="829.34" width="7.92" height="7.92" fill="#F20000"/>
<text x="232.5" y="839.2" font-size="14.6" font-family="Liberation Sans, sans-serif" fill="#111">10</text>
<text x="249.1" y="832.6" font-size="7.2" font-family="Liberation Sans, sans-serif" fill="#111">3</text>
<text x="255.1" y="839.2" font-size="14.8" letter-spacing="0.4" font-family="Liberation Sans, sans-serif" fill="#111">PFU/ml</text>
<path d="M310.2 833.3H327.1" stroke="#A00010" stroke-width="1.3"/>
<path d="M318.5 829.53L322.27 833.3L318.5 837.07L314.73 833.3Z" fill="#A00010"/>
<text x="337.1" y="839.2" font-size="14.6" font-family="Liberation Sans, sans-serif" fill="#111">10</text>
<text x="353.7" y="832.6" font-size="7.2" font-family="Liberation Sans, sans-serif" fill="#111">4</text>
<text x="359.7" y="839.2" font-size="14.8" letter-spacing="0.4" font-family="Liberation Sans, sans-serif" fill="#111">PFU/ml</text>
<path d="M414.9 833.3H431.3" stroke="#C3C0FA" stroke-width="1.3"/>
<circle cx="422.7" cy="833.3" r="4.14" fill="#C3C0FA"/>
<text x="440.6" y="839.2" font-size="14.6" font-family="Liberation Sans, sans-serif" fill="#111">10</text>
<text x="457.2" y="832.6" font-size="7.2" font-family="Liberation Sans, sans-serif" fill="#111">5</text>
<text x="463.2" y="839.2" font-size="14.8" letter-spacing="0.4" font-family="Liberation Sans, sans-serif" fill="#111">PFU/ml</text>
<path d="M517.4 833.3H534.7" stroke="#0000EE" stroke-width="1.3"/>
<path d="M525.7 837.65L529.83 830.47L521.57 830.47Z" fill="#0000EE"/>
<text x="543.6" y="839.2" font-size="14.6" font-family="Liberation Sans, sans-serif" fill="#111">10</text>
<text x="560.2" y="832.6" font-size="7.2" font-family="Liberation Sans, sans-serif" fill="#111">6</text>
<text x="566.2" y="839.2" font-size="14.8" letter-spacing="0.4" font-family="Liberation Sans, sans-serif" fill="#111">PFU/ml</text>
<path d="M623.3 833.3H640.4" stroke="#000080" stroke-width="1.3"/>
<path d="M631.6 829.94L632.49 832.08L634.8 832.26L633.04 833.77L633.57 836.02L631.6 834.81L629.63 836.02L630.16 833.77L628.4 832.26L630.71 832.08Z" fill="#000080"/>
<text x="649.2" y="839.2" font-size="14.6" font-family="Liberation Sans, sans-serif" fill="#111">10</text>
<text x="665.8" y="832.6" font-size="7.2" font-family="Liberation Sans, sans-serif" fill="#111">7</text>
<text x="671.8" y="839.2" font-size="14.8" letter-spacing="0.4" font-family="Liberation Sans, sans-serif" fill="#111">PFU/ml</text>
</svg>
</body></html>
